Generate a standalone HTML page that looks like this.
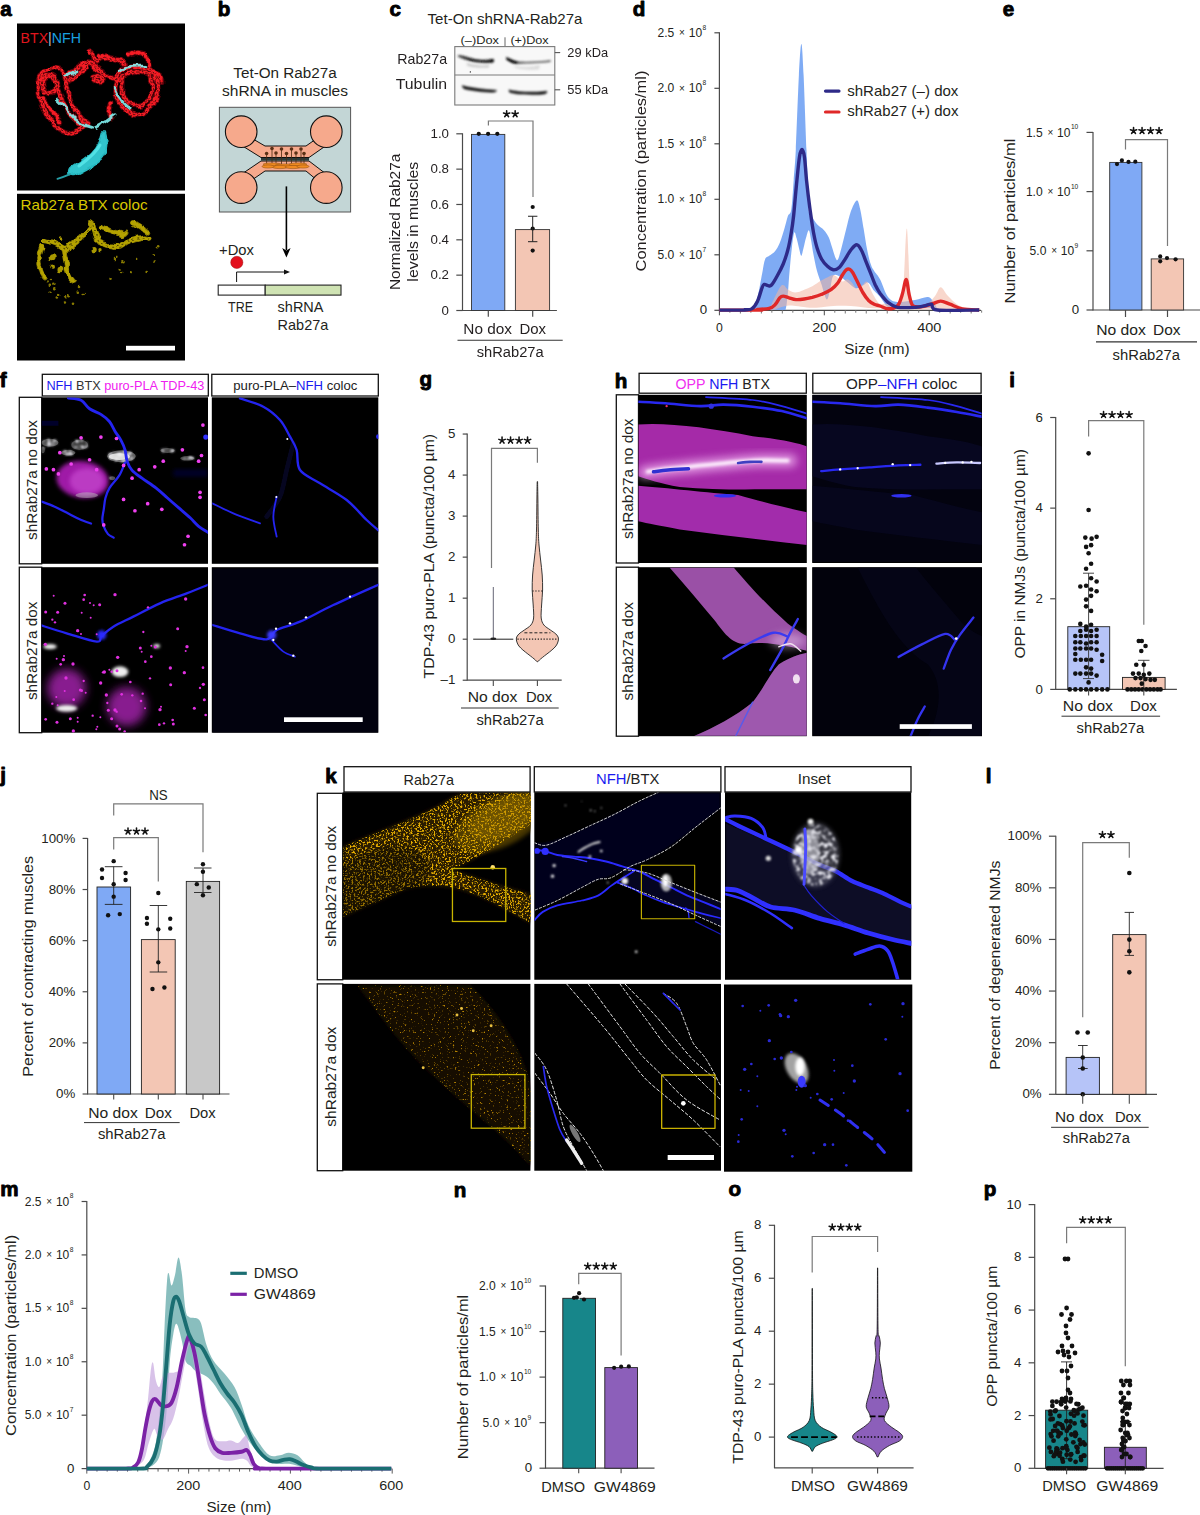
<!DOCTYPE html>
<html><head><meta charset="utf-8"><title>Figure</title>
<style>html,body{margin:0;padding:0;background:#fff;} svg{display:block;} text{font-family:"Liberation Sans", sans-serif;}</style>
</head><body>
<svg width="1200" height="1515" viewBox="0 0 1200 1515" font-family="Liberation Sans, sans-serif">
<defs>
<filter id="blurA" x="-100%" y="-100%" width="300%" height="300%"><feGaussianBlur stdDeviation="14"/></filter>
<filter id="blurB" x="-100%" y="-100%" width="300%" height="300%"><feGaussianBlur stdDeviation="5"/></filter>
<filter id="blurC" x="-20%" y="-20%" width="140%" height="140%"><feGaussianBlur stdDeviation="9"/></filter>
<filter id="blur1" x="-20%" y="-20%" width="140%" height="140%"><feGaussianBlur stdDeviation="3"/></filter>
<filter id="blur2" x="-30%" y="-30%" width="160%" height="160%"><feGaussianBlur stdDeviation="1.2"/></filter>
<filter id="blur3" x="-30%" y="-30%" width="160%" height="160%"><feGaussianBlur stdDeviation="3"/></filter>
<filter id="blur6" x="-30%" y="-30%" width="160%" height="160%"><feGaussianBlur stdDeviation="6"/></filter>
<filter id="speck" x="0" y="0" width="100%" height="100%">
 <feTurbulence type="fractalNoise" baseFrequency="0.9" numOctaves="1" seed="3" result="n"/>
 <feColorMatrix in="n" type="matrix" values="0 0 0 0 1  0 0 0 0 0.75  0 0 0 0 0  0 0 0 -9 5.2" result="s"/>
 <feComposite in="s" in2="SourceGraphic" operator="in"/>
</filter>
<linearGradient id="gMag" x1="0" y1="0" x2="1" y2="0"><stop offset="0" stop-color="#fff"/><stop offset="0.5" stop-color="#c050c0"/><stop offset="1" stop-color="#ff60ff"/></linearGradient>
<filter id="speckY" x="0" y="0" width="100%" height="100%">
 <feTurbulence type="fractalNoise" baseFrequency="0.35" numOctaves="2" seed="4" result="n"/>
 <feColorMatrix in="n" type="matrix" values="0 0 0 0 0.95  0 0 0 0 0.72  0 0 0 0 0.05  0 0 0 5 -2.2" result="s"/>
 <feComposite in="s" in2="SourceGraphic" operator="in"/>
</filter>
<filter id="speckY2" x="0" y="0" width="100%" height="100%">
 <feTurbulence type="fractalNoise" baseFrequency="0.35" numOctaves="2" seed="9" result="n"/>
 <feColorMatrix in="n" type="matrix" values="0 0 0 0 0.85  0 0 0 0 0.62  0 0 0 0 0.02  0 0 0 5 -2.6" result="s"/>
 <feComposite in="s" in2="SourceGraphic" operator="in"/>
</filter>
<filter id="speckK1" x="0" y="0" width="100%" height="100%" color-interpolation-filters="sRGB">
 <feTurbulence type="fractalNoise" baseFrequency="0.085" numOctaves="3" seed="4" result="n"/>
 <feColorMatrix in="n" type="matrix" values="0 0 0 0 0.9  0 0 0 0 0.68  0 0 0 0 0.0  6 0 0 0 -3.05" result="s0"/>
 <feGaussianBlur in="s0" stdDeviation="1.8" result="s"/>
 <feComposite in="s" in2="SourceGraphic" operator="in"/>
</filter>
<filter id="speckK2" x="0" y="0" width="100%" height="100%" color-interpolation-filters="sRGB">
 <feTurbulence type="fractalNoise" baseFrequency="0.085" numOctaves="3" seed="8" result="n"/>
 <feColorMatrix in="n" type="matrix" values="0 0 0 0 0.72  0 0 0 0 0.52  0 0 0 0 0.0  6 0 0 0 -3.85" result="s0"/>
 <feGaussianBlur in="s0" stdDeviation="1.8" result="s"/>
 <feComposite in="s" in2="SourceGraphic" operator="in"/>
</filter>
<filter id="wig" x="-10%" y="-10%" width="120%" height="120%">
 <feTurbulence type="fractalNoise" baseFrequency="0.012" numOctaves="1" seed="2" result="t"/>
 <feDisplacementMap in="SourceGraphic" in2="t" scale="60" xChannelSelector="R" yChannelSelector="G" result="d"/>
 <feGaussianBlur in="d" stdDeviation="4"/>
</filter>
<filter id="speckW" x="-20%" y="-20%" width="140%" height="140%" color-interpolation-filters="sRGB">
 <feTurbulence type="fractalNoise" baseFrequency="0.04" numOctaves="3" seed="12" result="n"/>
 <feColorMatrix in="n" type="matrix" values="0 0 0 0 0.92  0 0 0 0 0.92  0 0 0 0 0.95  6 0 0 0 -2.9" result="s0"/>
 <feGaussianBlur in="s0" stdDeviation="3" result="s"/>
 <feComposite in="s" in2="SourceGraphic" operator="in" result="c"/>
 <feGaussianBlur in="c" stdDeviation="7"/>
</filter>
</defs>
<rect width="1200" height="1515" fill="#fff"/>
<text x="0.3" y="15.8" font-size="20.6" font-weight="bold" fill="#000" stroke="#000" stroke-width="0.9" stroke-linejoin="round">a</text>
<rect x="17.00" y="23.50" width="168.00" height="167.00" fill="#000" stroke="none" stroke-width="1" />
<g transform="translate(30,40) scale(0.116667)" fill="none" stroke-linecap="round" stroke-linejoin="round">
<g filter="url(#wig)">
<g stroke="#a00c14" stroke-width="48" opacity="0.55">
<path d="M130,270 C170,245 230,230 270,245 C300,280 305,340 310,390 C320,460 345,520 375,570 C400,620 430,670 490,715 C470,750 420,765 370,790 C320,805 270,785 220,740 C170,690 130,630 100,560 C75,490 60,420 70,360 C85,310 105,285 130,270"/>
<path d="M110,330 C140,300 190,300 215,330 C235,370 230,420 205,450 C170,470 130,450 115,410 C105,380 105,350 110,330"/>
<path d="M200,330 C235,400 250,480 290,560 C330,630 380,690 460,740"/>
<path d="M315,300 C350,275 400,255 440,215 C465,190 495,180 510,190 C500,230 460,260 420,285 C380,310 350,330 330,345"/>
<path d="M505,100 C540,120 555,160 565,190 C590,160 640,150 690,160 C740,175 790,185 825,205"/>
<path d="M530,205 C560,250 610,285 680,310 C720,325 750,335 770,345"/>
<path d="M540,320 C570,300 620,310 630,340 C610,365 560,360 540,320"/>
<path d="M790,250 C850,225 950,225 1030,260 C1080,300 1110,370 1105,430 C1090,510 1040,580 970,625 C900,650 830,620 790,570 C745,520 720,460 730,400 C740,330 760,285 790,250"/>
<path d="M800,310 C860,265 960,265 1020,300 C1060,350 1065,430 1030,500 C990,555 920,575 860,550 C815,520 790,460 795,400 C795,360 795,335 800,310"/>
<path d="M845,125 C900,100 960,105 995,140 C1015,170 1020,200 1020,235"/>
<path d="M1055,280 C1090,290 1120,310 1128,345"/>
<path d="M690,545 C670,590 665,630 700,665"/>
<path d="M450,190 C470,220 470,250 450,270"/>
<path d="M600,130 C640,140 700,150 760,175"/>
<path d="M120,500 C150,560 200,640 260,700"/>
</g>
<g stroke="#e8141c" stroke-width="22">
<path d="M130,270 C170,245 230,230 270,245 C300,280 305,340 310,390 C320,460 345,520 375,570 C400,620 430,670 490,715 C470,750 420,765 370,790 C320,805 270,785 220,740 C170,690 130,630 100,560 C75,490 60,420 70,360 C85,310 105,285 130,270"/>
<path d="M110,330 C140,300 190,300 215,330 C235,370 230,420 205,450 C170,470 130,450 115,410 C105,380 105,350 110,330"/>
<path d="M200,330 C235,400 250,480 290,560 C330,630 380,690 460,740"/>
<path d="M315,300 C350,275 400,255 440,215 C465,190 495,180 510,190 C500,230 460,260 420,285 C380,310 350,330 330,345"/>
<path d="M505,100 C540,120 555,160 565,190 C590,160 640,150 690,160 C740,175 790,185 825,205"/>
<path d="M530,205 C560,250 610,285 680,310 C720,325 750,335 770,345"/>
<path d="M540,320 C570,300 620,310 630,340 C610,365 560,360 540,320"/>
<path d="M790,250 C850,225 950,225 1030,260 C1080,300 1110,370 1105,430 C1090,510 1040,580 970,625 C900,650 830,620 790,570 C745,520 720,460 730,400 C740,330 760,285 790,250"/>
<path d="M800,310 C860,265 960,265 1020,300 C1060,350 1065,430 1030,500 C990,555 920,575 860,550 C815,520 790,460 795,400 C795,360 795,335 800,310"/>
<path d="M845,125 C900,100 960,105 995,140 C1015,170 1020,200 1020,235"/>
<path d="M1055,280 C1090,290 1120,310 1128,345"/>
<path d="M690,545 C670,590 665,630 700,665"/>
<path d="M450,190 C470,220 470,250 450,270"/>
<path d="M600,130 C640,140 700,150 760,175"/>
<path d="M120,500 C150,560 200,640 260,700"/>
</g>
<g stroke="#f41e26" stroke-width="36" stroke-dasharray="0 40">
<path d="M130,270 C170,245 230,230 270,245 C300,280 305,340 310,390 C320,460 345,520 375,570 C400,620 430,670 490,715 C470,750 420,765 370,790 C320,805 270,785 220,740 C170,690 130,630 100,560 C75,490 60,420 70,360 C85,310 105,285 130,270"/>
<path d="M110,330 C140,300 190,300 215,330 C235,370 230,420 205,450 C170,470 130,450 115,410 C105,380 105,350 110,330"/>
<path d="M200,330 C235,400 250,480 290,560 C330,630 380,690 460,740"/>
<path d="M315,300 C350,275 400,255 440,215 C465,190 495,180 510,190 C500,230 460,260 420,285 C380,310 350,330 330,345"/>
<path d="M505,100 C540,120 555,160 565,190 C590,160 640,150 690,160 C740,175 790,185 825,205"/>
<path d="M530,205 C560,250 610,285 680,310 C720,325 750,335 770,345"/>
<path d="M540,320 C570,300 620,310 630,340 C610,365 560,360 540,320"/>
<path d="M790,250 C850,225 950,225 1030,260 C1080,300 1110,370 1105,430 C1090,510 1040,580 970,625 C900,650 830,620 790,570 C745,520 720,460 730,400 C740,330 760,285 790,250"/>
<path d="M800,310 C860,265 960,265 1020,300 C1060,350 1065,430 1030,500 C990,555 920,575 860,550 C815,520 790,460 795,400 C795,360 795,335 800,310"/>
<path d="M845,125 C900,100 960,105 995,140 C1015,170 1020,200 1020,235"/>
<path d="M1055,280 C1090,290 1120,310 1128,345"/>
<path d="M690,545 C670,590 665,630 700,665"/>
<path d="M450,190 C470,220 470,250 450,270"/>
<path d="M600,130 C640,140 700,150 760,175"/>
<path d="M120,500 C150,560 200,640 260,700"/>
</g>
<g stroke="#1a0000" stroke-width="8" stroke-dasharray="14 26" opacity="0.8">
<path d="M130,270 C170,245 230,230 270,245 C300,280 305,340 310,390 C320,460 345,520 375,570 C400,620 430,670 490,715 C470,750 420,765 370,790 C320,805 270,785 220,740 C170,690 130,630 100,560 C75,490 60,420 70,360 C85,310 105,285 130,270"/>
<path d="M110,330 C140,300 190,300 215,330 C235,370 230,420 205,450 C170,470 130,450 115,410 C105,380 105,350 110,330"/>
<path d="M200,330 C235,400 250,480 290,560 C330,630 380,690 460,740"/>
<path d="M315,300 C350,275 400,255 440,215 C465,190 495,180 510,190 C500,230 460,260 420,285 C380,310 350,330 330,345"/>
<path d="M505,100 C540,120 555,160 565,190 C590,160 640,150 690,160 C740,175 790,185 825,205"/>
<path d="M530,205 C560,250 610,285 680,310 C720,325 750,335 770,345"/>
<path d="M540,320 C570,300 620,310 630,340 C610,365 560,360 540,320"/>
<path d="M790,250 C850,225 950,225 1030,260 C1080,300 1110,370 1105,430 C1090,510 1040,580 970,625 C900,650 830,620 790,570 C745,520 720,460 730,400 C740,330 760,285 790,250"/>
<path d="M800,310 C860,265 960,265 1020,300 C1060,350 1065,430 1030,500 C990,555 920,575 860,550 C815,520 790,460 795,400 C795,360 795,335 800,310"/>
</g>
<g stroke="#80f0f0" stroke-width="22" opacity="0.9">
<path d="M305,310 C330,290 360,275 395,265"/>
<path d="M225,505 C270,545 310,590 350,640 C390,690 440,730 530,750"/>
<path d="M765,265 C800,235 870,220 985,225"/>
<path d="M720,410 C750,480 790,540 860,590"/>
<path d="M560,750 C620,720 680,680 730,640"/>
</g>
</g>
<path d="M645,790 C670,880 660,960 605,1025 C540,1085 450,1125 385,1158 C340,1172 315,1140 345,1100 C410,1055 480,1015 528,965 C575,915 598,860 612,790 Z" fill="#30c4cc" stroke="#28b8c0" stroke-width="14" filter="url(#wig)"/>
<path d="M600,900 C570,960 500,1020 420,1080" stroke="#60f0f0" stroke-width="26" opacity="0.7" filter="url(#blurB)"/>
<path d="M345,1150 C310,1165 270,1180 235,1190" stroke="#28a0a8" stroke-width="16" filter="url(#blurB)"/>
<path d="M640,700 C640,740 640,770 640,800" stroke="#1a6a70" stroke-width="30" opacity="0.6" filter="url(#blurA)"/>
</g>
<text x="20.5" y="43" font-size="14.6" textLength="60.5" lengthAdjust="spacingAndGlyphs"><tspan fill="#e0161e">BTX</tspan><tspan fill="#bbb">|</tspan><tspan fill="#1aa0e0">NFH</tspan></text>
<rect x="17.00" y="193.80" width="168.00" height="166.70" fill="#000" stroke="none" stroke-width="1" />
<g transform="translate(30,210) scale(0.116667)" fill="none" stroke-linecap="round" stroke-linejoin="round">
<g filter="url(#wig)">
<g stroke="#8a7c00" stroke-width="44">
<path d="M120,270 C180,280 230,290 270,320 C290,335 305,350 310,350 C330,300 380,270 430,240 C470,200 510,180 530,130 C525,118 515,110 510,110"/>
<path d="M540,130 C560,200 560,240 600,280 C650,300 720,320 780,310 C830,270 900,250 980,240 C1000,242 1015,248 1020,250"/>
<path d="M620,150 C680,180 740,200 800,210 C815,205 825,198 830,190"/>
<path d="M890,110 C940,140 970,170 1000,190"/>
<path d="M100,320 C70,380 70,450 90,520 C100,550 110,570 120,580"/>
<path d="M280,330 C300,400 320,460 310,520 C320,550 340,575 370,600"/>
</g>
<g stroke="#b8a600" stroke-width="24">
<path d="M120,270 C180,280 230,290 270,320 C290,335 305,350 310,350 C330,300 380,270 430,240 C470,200 510,180 530,130 C525,118 515,110 510,110"/>
<path d="M540,130 C560,200 560,240 600,280 C650,300 720,320 780,310 C830,270 900,250 980,240 C1000,242 1015,248 1020,250"/>
<path d="M620,150 C680,180 740,200 800,210 C815,205 825,198 830,190"/>
<path d="M890,110 C940,140 970,170 1000,190"/>
<path d="M100,320 C70,380 70,450 90,520 C100,550 110,570 120,580"/>
<path d="M280,330 C300,400 320,460 310,520 C320,550 340,575 370,600"/>
</g>
<g stroke="#b4a200" stroke-width="42" stroke-dasharray="0 46">
<path d="M120,270 C180,280 230,290 270,320 C290,335 305,350 310,350 C330,300 380,270 430,240 C470,200 510,180 530,130 C525,118 515,110 510,110"/>
<path d="M540,130 C560,200 560,240 600,280 C650,300 720,320 780,310 C830,270 900,250 980,240 C1000,242 1015,248 1020,250"/>
<path d="M620,150 C680,180 740,200 800,210 C815,205 825,198 830,190"/>
<path d="M890,110 C940,140 970,170 1000,190"/>
<path d="M100,320 C70,380 70,450 90,520 C100,550 110,570 120,580"/>
<path d="M280,330 C300,400 320,460 310,520 C320,550 340,575 370,600"/>
</g>
<g stroke="#2a2400" stroke-width="9" stroke-dasharray="10 36" opacity="0.7">
<path d="M120,270 C180,280 230,290 270,320 C290,335 305,350 310,350 C330,300 380,270 430,240 C470,200 510,180 530,130 C525,118 515,110 510,110"/>
<path d="M540,130 C560,200 560,240 600,280 C650,300 720,320 780,310 C830,270 900,250 980,240 C1000,242 1015,248 1020,250"/>
</g>
<circle cx="190" cy="410" r="30" fill="#a89800"/>
<circle cx="260" cy="510" r="24" fill="#a89800"/>
<circle cx="190" cy="490" r="14" fill="#a89800"/>
<circle cx="550" cy="340" r="22" fill="#a89800"/>
<circle cx="600" cy="340" r="14" fill="#a89800"/>
<circle cx="130" cy="270" r="20" fill="#a89800"/>
<circle cx="270" cy="240" r="16" fill="#a89800"/>
<circle cx="470" cy="200" r="22" fill="#a89800"/>
<circle cx="515" cy="120" r="22" fill="#a89800"/>
<circle cx="150" cy="620" r="11" fill="#8a7c00"/>
<circle cx="170" cy="650" r="11" fill="#8a7c00"/>
<circle cx="200" cy="680" r="11" fill="#8a7c00"/>
<circle cx="160" cy="710" r="11" fill="#8a7c00"/>
<circle cx="230" cy="750" r="11" fill="#8a7c00"/>
<circle cx="290" cy="785" r="11" fill="#8a7c00"/>
<circle cx="360" cy="795" r="11" fill="#8a7c00"/>
<circle cx="300" cy="740" r="11" fill="#8a7c00"/>
<circle cx="420" cy="660" r="11" fill="#8a7c00"/>
<circle cx="460" cy="720" r="11" fill="#8a7c00"/>
<circle cx="330" cy="740" r="11" fill="#8a7c00"/>
<circle cx="200" cy="640" r="11" fill="#8a7c00"/>
<circle cx="720" cy="420" r="11" fill="#8a7c00"/>
<circle cx="800" cy="430" r="11" fill="#8a7c00"/>
<circle cx="770" cy="510" r="11" fill="#8a7c00"/>
<circle cx="690" cy="590" r="11" fill="#8a7c00"/>
<circle cx="1000" cy="540" r="11" fill="#8a7c00"/>
<circle cx="1070" cy="450" r="11" fill="#8a7c00"/>
<circle cx="1090" cy="320" r="11" fill="#8a7c00"/>
<circle cx="1060" cy="380" r="11" fill="#8a7c00"/>
<circle cx="910" cy="420" r="11" fill="#8a7c00"/>
<circle cx="880" cy="550" r="11" fill="#8a7c00"/>
<circle cx="740" cy="400" r="11" fill="#8a7c00"/>
<circle cx="790" cy="540" r="11" fill="#8a7c00"/>
<circle cx="180" cy="600" r="11" fill="#8a7c00"/>
<circle cx="250" cy="720" r="11" fill="#8a7c00"/>
<circle cx="410" cy="700" r="11" fill="#8a7c00"/>
</g></g>
<text x="20.5" y="210.3" font-size="14.6" fill="#d8c800" text-anchor="start" font-weight="normal" textLength="127.0" lengthAdjust="spacingAndGlyphs" >Rab27a BTX coloc</text>
<rect x="126.00" y="345.80" width="49.00" height="4.70" fill="#fff" stroke="none" stroke-width="1" />
<text x="217.8" y="16.1" font-size="20.6" font-weight="bold" fill="#000" stroke="#000" stroke-width="0.9" stroke-linejoin="round">b</text>
<text x="233.3" y="78.2" font-size="14.7" fill="#231f20" text-anchor="start" font-weight="normal" textLength="103.4" lengthAdjust="spacingAndGlyphs" >Tet-On Rab27a</text>
<text x="222.0" y="96.3" font-size="14.7" fill="#231f20" text-anchor="start" font-weight="normal" textLength="126.0" lengthAdjust="spacingAndGlyphs" >shRNA in muscles</text>
<rect x="219.40" y="107.30" width="131.20" height="104.70" fill="#c3d6d6" stroke="#555" stroke-width="1" />
<path d="M241,132 L265,146 L306,146 L326,132 L334,140 L309,157.5 L261,157.5 L233,140 Z" fill="#f6a98c" stroke="#111" stroke-width="1"/>
<path d="M241,187.6 L265,171 L306,171 L326,187.6 L334,180 L309,161 L261,161 L233,180 Z" fill="#f6a98c" stroke="#111" stroke-width="1"/>
<rect x="261.00" y="158.00" width="48.00" height="2.60" fill="#2a3a3a" stroke="none" stroke-width="1" />
<circle cx="241.20" cy="131.70" r="15.8" fill="#f6a98c" stroke="#111" stroke-width="1.1"/>
<circle cx="326.30" cy="131.70" r="15.8" fill="#f6a98c" stroke="#111" stroke-width="1.1"/>
<circle cx="241.20" cy="187.60" r="15.8" fill="#f6a98c" stroke="#111" stroke-width="1.1"/>
<circle cx="326.30" cy="187.60" r="15.8" fill="#f6a98c" stroke="#111" stroke-width="1.1"/>
<line x1="266.60" y1="153.50" x2="266.60" y2="166.00" stroke="#4a2a10" stroke-width="0.8" />
<circle cx="266.60" cy="153.50" r="1.8" fill="#5a3015" />
<line x1="272.00" y1="148.50" x2="272.00" y2="166.00" stroke="#4a2a10" stroke-width="0.8" />
<circle cx="272.00" cy="148.50" r="1.8" fill="#5a3015" />
<line x1="276.00" y1="153.00" x2="276.00" y2="166.00" stroke="#4a2a10" stroke-width="0.8" />
<circle cx="276.00" cy="153.00" r="1.8" fill="#5a3015" />
<line x1="281.50" y1="149.00" x2="281.50" y2="166.00" stroke="#4a2a10" stroke-width="0.8" />
<circle cx="281.50" cy="149.00" r="1.8" fill="#5a3015" />
<line x1="286.50" y1="153.50" x2="286.50" y2="166.00" stroke="#4a2a10" stroke-width="0.8" />
<circle cx="286.50" cy="153.50" r="1.8" fill="#5a3015" />
<line x1="291.50" y1="149.00" x2="291.50" y2="166.00" stroke="#4a2a10" stroke-width="0.8" />
<circle cx="291.50" cy="149.00" r="1.8" fill="#5a3015" />
<line x1="296.00" y1="153.00" x2="296.00" y2="166.00" stroke="#4a2a10" stroke-width="0.8" />
<circle cx="296.00" cy="153.00" r="1.8" fill="#5a3015" />
<line x1="301.00" y1="149.00" x2="301.00" y2="166.00" stroke="#4a2a10" stroke-width="0.8" />
<circle cx="301.00" cy="149.00" r="1.8" fill="#5a3015" />
<line x1="304.00" y1="153.50" x2="304.00" y2="166.00" stroke="#4a2a10" stroke-width="0.8" />
<circle cx="304.00" cy="153.50" r="1.8" fill="#5a3015" />
<ellipse cx="272" cy="164.5" rx="9" ry="1.6" fill="#f08a20" stroke="#8a4a10" stroke-width="0.5"/>
<ellipse cx="285" cy="165.5" rx="10" ry="1.6" fill="#f08a20" stroke="#8a4a10" stroke-width="0.5"/>
<ellipse cx="298" cy="164.5" rx="9" ry="1.6" fill="#f08a20" stroke="#8a4a10" stroke-width="0.5"/>
<ellipse cx="280" cy="167" rx="8" ry="1.6" fill="#f08a20" stroke="#8a4a10" stroke-width="0.5"/>
<ellipse cx="293" cy="167" rx="8" ry="1.6" fill="#f08a20" stroke="#8a4a10" stroke-width="0.5"/>
<ellipse cx="268" cy="166.5" rx="6" ry="1.6" fill="#f08a20" stroke="#8a4a10" stroke-width="0.5"/>
<ellipse cx="303" cy="166.5" rx="6" ry="1.6" fill="#f08a20" stroke="#8a4a10" stroke-width="0.5"/>
<line x1="286.40" y1="186.40" x2="286.40" y2="250.00" stroke="#000" stroke-width="1.6" />
<path d="M282.2,248 L286.4,257.5 L290.6,248 L286.4,250.5 Z" fill="#000"/>
<text x="219.0" y="254.5" font-size="14.2" fill="#231f20" text-anchor="start" font-weight="normal" textLength="34.9" lengthAdjust="spacingAndGlyphs" >+Dox</text>
<circle cx="236.80" cy="262.40" r="6.1" fill="#e3101c" stroke="#9a1010" stroke-width="0.5"/>
<polyline points="236.6,282 236.6,272 285,272" fill="none" stroke="#111" stroke-width="1"/>
<path d="M284,269.6 L290,272 L284,274.4 Z" fill="#111"/>
<rect x="218.20" y="285.10" width="47.00" height="10.00" fill="#fff" stroke="#222" stroke-width="1.1" />
<rect x="265.20" y="285.10" width="75.80" height="10.00" fill="#cfe3b3" stroke="#222" stroke-width="1.1" />
<text x="228.0" y="312.4" font-size="14.5" fill="#231f20" text-anchor="start" font-weight="normal" textLength="25.0" lengthAdjust="spacingAndGlyphs" >TRE</text>
<text x="277.6" y="312.4" font-size="14.5" fill="#231f20" text-anchor="start" font-weight="normal" textLength="45.9" lengthAdjust="spacingAndGlyphs" >shRNA</text>
<text x="277.6" y="329.8" font-size="14.5" fill="#231f20" text-anchor="start" font-weight="normal" textLength="50.7" lengthAdjust="spacingAndGlyphs" >Rab27a</text>
<text x="389.6" y="16.1" font-size="20.6" font-weight="bold" fill="#000" stroke="#000" stroke-width="0.9" stroke-linejoin="round">c</text>
<text x="427.6" y="24.0" font-size="14.5" fill="#231f20" text-anchor="start" font-weight="normal" textLength="154.8" lengthAdjust="spacingAndGlyphs" >Tet-On shRNA-Rab27a</text>
<text x="460.5" y="43.8" font-size="11.8" fill="#231f20" text-anchor="start" font-weight="normal" textLength="38.4" lengthAdjust="spacingAndGlyphs" >(–)Dox</text>
<text x="510.4" y="43.8" font-size="11.8" fill="#231f20" text-anchor="start" font-weight="normal" textLength="38.3" lengthAdjust="spacingAndGlyphs" >(+)Dox</text>
<line x1="505.00" y1="37.30" x2="505.00" y2="46.30" stroke="#555" stroke-width="0.9" />
<rect x="454.80" y="46.60" width="100.00" height="58.40" fill="#f8f8f8" stroke="#7a7a7a" stroke-width="1.1" />
<line x1="454.80" y1="75.00" x2="554.80" y2="75.00" stroke="#7a7a7a" stroke-width="1.1" />
<g transform="translate(450,40) scale(0.091667)">
<g filter="url(#blurC)">
<path d="M90,165 C150,170 200,190 280,212 C350,222 420,212 470,205 C490,215 480,240 460,248 C400,250 330,248 260,238 C190,222 130,200 85,178 Z" fill="#222"/>
<path d="M180,195 C250,215 330,225 420,222 L470,212 L475,240 C400,245 300,240 200,220 Z" fill="#000"/>
<path d="M180,250 C250,270 330,290 430,270 L420,300 C330,305 250,300 190,280 Z" fill="#aaa" opacity="0.6"/>
<path d="M612,185 C650,200 700,225 760,235 C880,240 1000,230 1100,218 L1095,240 C980,255 850,255 760,262 C700,265 650,240 612,210 Z" fill="#666"/>
<path d="M615,185 C650,200 690,225 740,235 L735,262 C690,260 650,240 615,212 Z" fill="#000"/>
<path d="M700,280 C800,300 900,300 980,270 L970,320 C880,330 780,320 710,300 Z" fill="#bbb" opacity="0.5"/>
<path d="M130,495 C200,512 300,528 400,538 C460,542 500,543 510,548 C515,565 490,572 450,570 C350,566 230,552 155,532 C135,522 130,505 130,495 Z" fill="#000"/>
<path d="M640,540 C700,556 800,568 950,566 C1010,563 1055,556 1062,560 C1060,585 1030,595 950,596 C800,592 700,588 650,570 C640,560 640,548 640,540 Z" fill="#000"/>
</g>
<circle cx="222" cy="348" r="7" fill="#111"/>
</g>
<text x="397.3" y="64.1" font-size="14.1" fill="#231f20" text-anchor="start" font-weight="normal" textLength="49.8" lengthAdjust="spacingAndGlyphs" >Rab27a</text>
<text x="395.7" y="89.4" font-size="14.1" fill="#231f20" text-anchor="start" font-weight="normal" textLength="51.4" lengthAdjust="spacingAndGlyphs" >Tubulin</text>
<line x1="554.80" y1="52.60" x2="560.20" y2="52.60" stroke="#555" stroke-width="1.1" />
<line x1="554.80" y1="89.80" x2="560.20" y2="89.80" stroke="#555" stroke-width="1.1" />
<text x="567.3" y="56.5" font-size="12.4" fill="#231f20" text-anchor="start" font-weight="normal" textLength="40.8" lengthAdjust="spacingAndGlyphs" >29 kDa</text>
<text x="567.3" y="93.6" font-size="12.4" fill="#231f20" text-anchor="start" font-weight="normal" textLength="40.8" lengthAdjust="spacingAndGlyphs" >55 kDa</text>
<line x1="462.50" y1="133.30" x2="462.50" y2="311.00" stroke="#4a4a4a" stroke-width="1.2" />
<line x1="462.50" y1="310.50" x2="556.90" y2="310.50" stroke="#4a4a4a" stroke-width="1.2" />
<line x1="456.30" y1="133.80" x2="462.50" y2="133.80" stroke="#4a4a4a" stroke-width="1.2" />
<text x="449.0" y="137.9" font-size="13.3" fill="#231f20" text-anchor="end" font-weight="normal" >1.0</text>
<line x1="456.30" y1="169.14" x2="462.50" y2="169.14" stroke="#4a4a4a" stroke-width="1.2" />
<text x="449.0" y="173.2" font-size="13.3" fill="#231f20" text-anchor="end" font-weight="normal" >0.8</text>
<line x1="456.30" y1="204.48" x2="462.50" y2="204.48" stroke="#4a4a4a" stroke-width="1.2" />
<text x="449.0" y="208.6" font-size="13.3" fill="#231f20" text-anchor="end" font-weight="normal" >0.6</text>
<line x1="456.30" y1="239.82" x2="462.50" y2="239.82" stroke="#4a4a4a" stroke-width="1.2" />
<text x="449.0" y="243.9" font-size="13.3" fill="#231f20" text-anchor="end" font-weight="normal" >0.4</text>
<line x1="456.30" y1="275.16" x2="462.50" y2="275.16" stroke="#4a4a4a" stroke-width="1.2" />
<text x="449.0" y="279.3" font-size="13.3" fill="#231f20" text-anchor="end" font-weight="normal" >0.2</text>
<line x1="456.30" y1="310.50" x2="462.50" y2="310.50" stroke="#4a4a4a" stroke-width="1.2" />
<text x="449.0" y="314.6" font-size="13.3" fill="#231f20" text-anchor="end" font-weight="normal" >0</text>
<rect x="471.50" y="134.40" width="33.30" height="176.10" fill="#7fa9f5" stroke="#333" stroke-width="0.9" />
<rect x="515.40" y="229.60" width="34.20" height="80.90" fill="#f3c6b4" stroke="#333" stroke-width="0.9" />
<circle cx="478.75" cy="133.80" r="2.1" fill="#111" />
<circle cx="488.10" cy="133.80" r="2.1" fill="#111" />
<circle cx="497.30" cy="133.80" r="2.1" fill="#111" />
<circle cx="532.70" cy="207.00" r="2.1" fill="#111" />
<circle cx="532.70" cy="228.50" r="2.1" fill="#111" />
<circle cx="532.70" cy="250.60" r="2.1" fill="#111" />
<line x1="532.70" y1="216.25" x2="532.70" y2="241.70" stroke="#222" stroke-width="1.0" />
<line x1="528.00" y1="216.25" x2="537.40" y2="216.25" stroke="#222" stroke-width="1.0" />
<line x1="528.00" y1="241.70" x2="537.40" y2="241.70" stroke="#222" stroke-width="1.0" />
<polyline points="488.4,125.6 488.4,121.0 533.0,121.0 533.0,196.9" fill="none" stroke="#7a7a7a" stroke-width="1.2"/>
<path d="M506.65,114.00 L506.65,110.70 M506.65,114.00 L509.79,112.98 M506.65,114.00 L508.59,116.67 M506.65,114.00 L504.71,116.67 M506.65,114.00 L503.51,112.98 M515.15,114.00 L515.15,110.70 M515.15,114.00 L518.29,112.98 M515.15,114.00 L517.09,116.67 M515.15,114.00 L513.21,116.67 M515.15,114.00 L512.01,112.98" stroke="#111" stroke-width="1.55" stroke-linecap="round" fill="none"/>
<line x1="488.30" y1="310.50" x2="488.30" y2="316.70" stroke="#4a4a4a" stroke-width="1.2" />
<line x1="532.70" y1="310.50" x2="532.70" y2="316.70" stroke="#4a4a4a" stroke-width="1.2" />
<text x="463.3" y="334.0" font-size="15" fill="#231f20" text-anchor="start" font-weight="normal" textLength="48.7" lengthAdjust="spacingAndGlyphs" >No dox</text>
<text x="519.4" y="334.0" font-size="15" fill="#231f20" text-anchor="start" font-weight="normal" textLength="26.6" lengthAdjust="spacingAndGlyphs" >Dox</text>
<line x1="457.50" y1="340.20" x2="562.70" y2="340.20" stroke="#333" stroke-width="1.1" />
<text x="476.7" y="356.8" font-size="14.7" fill="#231f20" text-anchor="start" font-weight="normal" textLength="67.0" lengthAdjust="spacingAndGlyphs" >shRab27a</text>
<text transform="translate(399.9,221.9) rotate(-90)" x="0" y="0" font-size="15.2" fill="#231f20" text-anchor="middle" textLength="136.4" lengthAdjust="spacingAndGlyphs">Normalized Rab27a</text>
<text transform="translate(417.5,221.7) rotate(-90)" x="0" y="0" font-size="15.2" fill="#231f20" text-anchor="middle" textLength="119.9" lengthAdjust="spacingAndGlyphs">levels in muscles</text>
<text x="632.8" y="16.1" font-size="20.6" font-weight="bold" fill="#000" stroke="#000" stroke-width="0.9" stroke-linejoin="round">d</text>
<line x1="719.40" y1="32.30" x2="719.40" y2="310.80" stroke="#4a4a4a" stroke-width="1.2" />
<line x1="719.40" y1="310.30" x2="981.00" y2="310.30" stroke="#4a4a4a" stroke-width="1.2" />
<line x1="714.40" y1="32.80" x2="719.40" y2="32.80" stroke="#4a4a4a" stroke-width="1.2" />
<text y="36.9" font-size="12.7" fill="#231f20"><tspan x="657.5" textLength="16.8" lengthAdjust="spacingAndGlyphs">2.5</tspan></text>
<text x="682.0" y="36.0" font-size="10" fill="#231f20" text-anchor="middle">×</text>
<text x="688.7" y="36.9" font-size="12.7" fill="#231f20" textLength="13.4" lengthAdjust="spacingAndGlyphs">10</text>
<text x="702.5" y="29.7" font-size="7.4" fill="#231f20" textLength="3.7" lengthAdjust="spacingAndGlyphs">8</text>
<line x1="714.40" y1="88.30" x2="719.40" y2="88.30" stroke="#4a4a4a" stroke-width="1.2" />
<text y="92.4" font-size="12.7" fill="#231f20"><tspan x="657.5" textLength="16.8" lengthAdjust="spacingAndGlyphs">2.0</tspan></text>
<text x="682.0" y="91.5" font-size="10" fill="#231f20" text-anchor="middle">×</text>
<text x="688.7" y="92.4" font-size="12.7" fill="#231f20" textLength="13.4" lengthAdjust="spacingAndGlyphs">10</text>
<text x="702.5" y="85.2" font-size="7.4" fill="#231f20" textLength="3.7" lengthAdjust="spacingAndGlyphs">8</text>
<line x1="714.40" y1="143.80" x2="719.40" y2="143.80" stroke="#4a4a4a" stroke-width="1.2" />
<text y="147.9" font-size="12.7" fill="#231f20"><tspan x="657.5" textLength="16.8" lengthAdjust="spacingAndGlyphs">1.5</tspan></text>
<text x="682.0" y="147.0" font-size="10" fill="#231f20" text-anchor="middle">×</text>
<text x="688.7" y="147.9" font-size="12.7" fill="#231f20" textLength="13.4" lengthAdjust="spacingAndGlyphs">10</text>
<text x="702.5" y="140.7" font-size="7.4" fill="#231f20" textLength="3.7" lengthAdjust="spacingAndGlyphs">8</text>
<line x1="714.40" y1="199.30" x2="719.40" y2="199.30" stroke="#4a4a4a" stroke-width="1.2" />
<text y="203.4" font-size="12.7" fill="#231f20"><tspan x="657.5" textLength="16.8" lengthAdjust="spacingAndGlyphs">1.0</tspan></text>
<text x="682.0" y="202.5" font-size="10" fill="#231f20" text-anchor="middle">×</text>
<text x="688.7" y="203.4" font-size="12.7" fill="#231f20" textLength="13.4" lengthAdjust="spacingAndGlyphs">10</text>
<text x="702.5" y="196.2" font-size="7.4" fill="#231f20" textLength="3.7" lengthAdjust="spacingAndGlyphs">8</text>
<line x1="714.40" y1="254.80" x2="719.40" y2="254.80" stroke="#4a4a4a" stroke-width="1.2" />
<text y="258.9" font-size="12.7" fill="#231f20"><tspan x="657.5" textLength="16.8" lengthAdjust="spacingAndGlyphs">5.0</tspan></text>
<text x="682.0" y="258.0" font-size="10" fill="#231f20" text-anchor="middle">×</text>
<text x="688.7" y="258.9" font-size="12.7" fill="#231f20" textLength="13.4" lengthAdjust="spacingAndGlyphs">10</text>
<text x="702.5" y="251.7" font-size="7.4" fill="#231f20" textLength="3.7" lengthAdjust="spacingAndGlyphs">7</text>
<line x1="714.40" y1="310.30" x2="719.40" y2="310.30" stroke="#4a4a4a" stroke-width="1.2" />
<text x="707.1" y="314.4" font-size="13.3" fill="#231f20" text-anchor="end" font-weight="normal" >0</text>
<line x1="719.40" y1="310.30" x2="719.40" y2="315.30" stroke="#4a4a4a" stroke-width="1.0" />
<line x1="729.89" y1="310.30" x2="729.89" y2="312.70" stroke="#777" stroke-width="1.0" />
<line x1="740.38" y1="310.30" x2="740.38" y2="313.50" stroke="#777" stroke-width="1.0" />
<line x1="750.87" y1="310.30" x2="750.87" y2="312.70" stroke="#777" stroke-width="1.0" />
<line x1="761.36" y1="310.30" x2="761.36" y2="313.50" stroke="#777" stroke-width="1.0" />
<line x1="771.85" y1="310.30" x2="771.85" y2="312.70" stroke="#777" stroke-width="1.0" />
<line x1="782.34" y1="310.30" x2="782.34" y2="313.50" stroke="#777" stroke-width="1.0" />
<line x1="792.83" y1="310.30" x2="792.83" y2="312.70" stroke="#777" stroke-width="1.0" />
<line x1="803.32" y1="310.30" x2="803.32" y2="313.50" stroke="#777" stroke-width="1.0" />
<line x1="813.81" y1="310.30" x2="813.81" y2="312.70" stroke="#777" stroke-width="1.0" />
<line x1="824.30" y1="310.30" x2="824.30" y2="315.30" stroke="#4a4a4a" stroke-width="1.0" />
<line x1="834.79" y1="310.30" x2="834.79" y2="312.70" stroke="#777" stroke-width="1.0" />
<line x1="845.28" y1="310.30" x2="845.28" y2="313.50" stroke="#777" stroke-width="1.0" />
<line x1="855.77" y1="310.30" x2="855.77" y2="312.70" stroke="#777" stroke-width="1.0" />
<line x1="866.26" y1="310.30" x2="866.26" y2="313.50" stroke="#777" stroke-width="1.0" />
<line x1="876.75" y1="310.30" x2="876.75" y2="312.70" stroke="#777" stroke-width="1.0" />
<line x1="887.24" y1="310.30" x2="887.24" y2="313.50" stroke="#777" stroke-width="1.0" />
<line x1="897.73" y1="310.30" x2="897.73" y2="312.70" stroke="#777" stroke-width="1.0" />
<line x1="908.22" y1="310.30" x2="908.22" y2="313.50" stroke="#777" stroke-width="1.0" />
<line x1="918.71" y1="310.30" x2="918.71" y2="312.70" stroke="#777" stroke-width="1.0" />
<line x1="929.20" y1="310.30" x2="929.20" y2="315.30" stroke="#4a4a4a" stroke-width="1.0" />
<line x1="939.69" y1="310.30" x2="939.69" y2="312.70" stroke="#777" stroke-width="1.0" />
<line x1="950.18" y1="310.30" x2="950.18" y2="313.50" stroke="#777" stroke-width="1.0" />
<line x1="960.67" y1="310.30" x2="960.67" y2="312.70" stroke="#777" stroke-width="1.0" />
<line x1="971.16" y1="310.30" x2="971.16" y2="313.50" stroke="#777" stroke-width="1.0" />
<line x1="981.65" y1="310.30" x2="981.65" y2="312.70" stroke="#777" stroke-width="1.0" />
<text x="716.0" y="332.1" font-size="12.3" fill="#231f20" text-anchor="start" font-weight="normal" textLength="6.8" lengthAdjust="spacingAndGlyphs" >0</text>
<text x="812.3" y="332.1" font-size="12.3" fill="#231f20" text-anchor="start" font-weight="normal" textLength="24.1" lengthAdjust="spacingAndGlyphs" >200</text>
<text x="917.2" y="332.1" font-size="12.3" fill="#231f20" text-anchor="start" font-weight="normal" textLength="24.1" lengthAdjust="spacingAndGlyphs" >400</text>
<text x="844.3" y="354.2" font-size="14.3" fill="#231f20" text-anchor="start" font-weight="normal" textLength="65.4" lengthAdjust="spacingAndGlyphs" >Size (nm)</text>
<text transform="translate(646.2,171.0) rotate(-90)" x="0" y="0" font-size="15.2" fill="#231f20" text-anchor="middle" textLength="200.8" lengthAdjust="spacingAndGlyphs">Concentration (particles/ml)</text>
<path d="M719.4,310.1 C724.0,310.1 741.6,310.3 747.0,310.1 C752.4,309.9 749.9,311.2 751.7,308.9 C753.4,306.7 755.8,302.6 757.5,296.7 C759.3,290.7 760.9,279.6 762.2,273.3 C763.4,267.1 763.9,262.3 765.1,259.3 C766.3,256.4 767.5,257.2 769.2,255.8 C770.8,254.5 773.3,253.3 775.0,251.2 C776.8,249.0 778.1,246.7 779.7,243.0 C781.2,239.3 783.0,233.5 784.3,229.0 C785.7,224.5 786.7,219.5 787.8,216.2 C789.0,212.9 790.4,215.2 791.3,209.2 C792.3,203.1 792.9,189.9 793.7,180.0 C794.4,170.1 794.9,167.5 795.8,150.0 C796.6,132.5 798.0,92.7 798.9,75.0 C799.9,57.3 800.6,44.0 801.4,44.0 C802.1,44.0 802.7,57.3 803.6,75.0 C804.4,92.7 805.8,132.5 806.5,150.0 C807.2,167.5 807.3,169.8 807.7,180.0 C808.1,190.2 808.1,205.3 808.8,211.5 C809.6,217.7 811.0,215.2 812.3,217.3 C813.7,219.5 815.1,222.2 817.0,224.3 C818.9,226.5 822.1,228.0 824.0,230.2 C825.9,232.3 827.3,234.3 828.7,237.2 C830.0,240.1 831.0,244.2 832.2,247.7 C833.3,251.2 834.7,256.2 835.7,258.2 C836.6,260.1 837.0,261.1 838.0,259.3 C839.0,257.6 840.1,252.7 841.5,247.7 C842.9,242.6 844.6,235.0 846.2,229.0 C847.7,223.0 849.1,216.3 850.8,211.5 C852.6,206.7 855.1,200.8 856.7,200.4 C858.2,200.0 859.0,204.4 860.2,209.2 C861.3,213.9 862.5,222.2 863.7,229.0 C864.8,235.8 866.0,244.2 867.2,250.0 C868.3,255.8 869.5,260.5 870.7,264.0 C871.8,267.5 872.6,268.5 874.2,271.0 C875.7,273.5 877.7,274.8 880.0,279.2 C882.3,283.5 885.1,293.2 888.0,297.0 C890.9,300.8 893.0,301.5 897.5,302.0 C902.0,302.5 909.9,300.8 915.0,300.0 C920.1,299.2 924.8,296.5 928.0,297.0 C931.2,297.5 932.3,300.8 934.0,303.0 C935.7,305.2 937.3,308.9 938.0,310.1 L938.0,310.1 C936.7,309.8 936.3,308.2 930.0,308.0 C923.7,307.8 907.0,309.2 900.0,309.0 C893.0,308.8 891.3,309.1 888.0,307.0 C884.7,304.9 882.3,299.4 880.0,296.7 C877.7,294.0 876.1,293.2 874.2,290.8 C872.2,288.5 870.1,283.6 868.3,282.7 C866.6,281.7 865.6,284.0 863.7,285.0 C861.7,286.0 858.8,288.5 856.7,288.5 C854.5,288.5 852.8,286.4 850.8,285.0 C848.9,283.6 846.8,281.7 845.0,280.3 C843.3,279.0 842.3,277.6 840.3,276.8 C838.4,276.1 835.1,273.3 833.3,275.7 C831.6,278.0 830.8,286.9 829.8,290.8 C828.9,294.7 828.3,298.0 827.5,299.0 C826.7,300.0 826.1,299.0 825.2,296.7 C824.2,294.3 823.0,289.3 821.7,285.0 C820.3,280.7 818.4,276.1 817.0,271.0 C815.6,265.9 814.5,259.7 813.5,254.7 C812.5,249.6 811.9,244.8 811.2,240.7 C810.4,236.6 809.7,230.6 808.8,230.2 C808.0,229.8 806.8,235.4 805.9,238.3 C805.0,241.3 804.4,244.8 803.6,247.7 C802.8,250.6 802.0,255.8 801.3,255.8 C800.5,255.8 799.7,250.6 798.9,247.7 C798.1,244.8 797.4,240.9 796.6,238.3 C795.8,235.8 795.0,230.9 794.3,232.5 C793.5,234.1 792.7,241.3 791.9,247.7 C791.1,254.1 790.2,263.8 789.6,271.0 C788.9,278.2 788.6,285.4 788.1,290.8 C787.6,296.3 787.1,300.5 786.7,303.7 C786.2,306.9 785.7,309.0 785.5,310.1 Z" fill="#74a4f3" opacity="0.92"/>
<path d="M769.2,309.7 C770.1,307.6 773.1,300.6 775.0,296.7 C776.9,292.7 779.3,288.0 780.8,286.2 C782.4,284.3 783.4,285.2 784.3,285.6 C785.3,286.0 785.3,287.4 786.7,288.5 C788.0,289.6 790.6,291.4 792.5,292.0 C794.4,292.6 796.4,292.4 798.3,292.0 C800.3,291.6 801.8,290.6 804.2,289.7 C806.5,288.7 809.4,287.7 812.3,286.2 C815.3,284.6 818.9,281.9 821.7,280.3 C824.4,278.8 826.7,277.7 828.7,276.8 C830.6,276.0 832.0,275.1 833.3,275.1 C834.7,275.1 835.9,276.2 836.8,276.8 C837.8,277.5 838.2,278.4 839.2,279.2 C840.1,279.9 841.3,281.5 842.7,281.5 C844.0,281.5 845.8,279.0 847.3,279.2 C848.9,279.4 850.4,281.1 852.0,282.7 C853.6,284.2 854.9,288.1 856.7,288.5 C858.4,288.9 861.0,286.2 862.5,285.0 C864.1,283.8 865.0,281.7 866.0,281.5 C867.0,281.3 867.4,282.1 868.3,283.8 C869.3,285.6 870.5,289.3 871.8,292.0 C873.2,294.7 875.1,298.2 876.5,300.2 C877.9,302.1 878.1,303.0 880.0,303.7 C881.9,304.3 885.0,303.6 888.0,304.0 C891.0,304.4 895.5,308.3 898.0,306.0 C900.5,303.7 901.5,302.9 903.0,290.0 C904.5,277.1 905.6,228.6 906.8,228.6 C908.0,228.6 908.8,277.3 910.0,290.0 C911.2,302.7 911.5,302.3 914.0,305.0 C916.5,307.7 921.5,307.5 925.0,306.0 C928.5,304.5 932.4,299.1 935.0,296.0 C937.6,292.9 938.5,287.2 940.7,287.2 C942.9,287.2 945.1,293.0 948.0,296.0 C950.9,299.0 954.3,302.8 958.0,305.0 C961.7,307.2 966.3,308.1 970.0,309.0 C973.7,309.9 978.3,309.9 980.0,310.1 L980.0,310.1 C975.0,309.9 960.0,309.1 950.0,309.0 C940.0,308.9 928.3,309.4 920.0,309.5 C911.7,309.6 906.7,309.7 900.0,309.5 C893.3,309.3 885.3,308.6 880.0,308.3 C874.7,308.1 872.2,308.4 868.3,308.1 C864.5,307.8 860.6,307.0 856.7,306.6 C852.8,306.2 848.9,305.9 845.0,305.8 C841.1,305.7 837.2,305.8 833.3,306.0 C829.4,306.2 825.6,306.9 821.7,307.2 C817.8,307.5 813.9,307.9 810.0,307.8 C806.1,307.6 801.8,306.6 798.3,306.2 C794.8,305.9 791.9,305.3 789.0,305.4 C786.1,305.6 783.2,306.5 780.8,307.2 C778.5,307.9 776.0,309.3 775.0,309.7 Z" fill="#f2b6a2" opacity="0.55"/>
<path d="M719.4,310.1 C726.2,310.1 753.6,310.2 760.0,310.1 C766.4,310.0 756.0,309.8 757.5,309.5 C759.0,309.2 766.3,309.1 769.2,308.3 C772.1,307.6 773.3,306.6 775.0,304.8 C776.8,303.1 778.3,299.3 779.7,297.8 C781.0,296.4 781.6,296.1 783.2,296.1 C784.7,296.1 786.9,297.3 789.0,297.8 C791.1,298.4 793.5,299.4 796.0,299.6 C798.5,299.8 801.4,299.4 804.2,299.0 C806.9,298.6 809.4,298.0 812.3,297.3 C815.3,296.5 818.6,295.6 821.7,294.3 C824.8,293.1 828.3,291.6 831.0,289.7 C833.7,287.7 836.1,285.2 838.0,282.7 C839.9,280.1 841.3,276.6 842.7,274.5 C844.0,272.4 845.0,270.7 846.2,269.8 C847.3,269.0 848.5,268.7 849.7,269.3 C850.8,269.8 852.0,271.5 853.2,273.3 C854.3,275.2 855.1,277.2 856.7,280.3 C858.2,283.4 860.6,288.7 862.5,292.0 C864.5,295.3 866.4,298.1 868.3,300.2 C870.3,302.2 872.2,303.3 874.2,304.3 C876.1,305.2 877.7,305.2 880.0,306.0 C882.4,306.8 885.4,308.9 888.3,308.8 C891.2,308.8 895.2,308.0 897.5,305.7 C899.8,303.4 900.7,299.3 902.1,294.9 C903.6,290.6 905.0,279.5 906.2,279.5 C907.3,279.5 908.1,290.6 909.2,294.9 C910.4,299.3 910.8,303.8 912.9,305.7 C915.1,307.7 919.1,306.9 922.2,306.6 C925.3,306.4 928.4,305.1 931.4,304.2 C934.5,303.3 937.6,301.1 940.7,301.1 C943.8,301.1 946.3,302.9 949.9,304.2 C953.5,305.5 957.4,307.8 962.3,308.8 C967.2,309.8 976.4,309.8 979.2,310.0" fill="none" stroke="#e02828" stroke-width="3.4" stroke-linejoin="round"/>
<path d="M719.4,310.1 C723.7,310.1 740.8,310.2 745.0,310.1 C749.2,310.0 743.6,309.9 744.7,309.7 C745.8,309.5 749.5,310.3 751.7,308.9 C753.8,307.5 755.8,304.9 757.5,301.3 C759.3,297.7 761.0,290.2 762.2,287.3 C763.3,284.5 763.5,284.7 764.5,284.4 C765.5,284.1 766.8,285.5 768.0,285.6 C769.2,285.7 769.9,286.7 771.5,285.0 C773.1,283.4 775.4,279.2 777.3,275.7 C779.3,272.2 781.4,268.3 783.2,264.0 C784.9,259.7 786.5,255.3 787.8,250.0 C789.2,244.8 790.4,238.3 791.3,232.5 C792.3,226.7 792.8,223.2 793.7,215.0 C794.5,206.8 795.6,193.2 796.6,183.5 C797.6,173.8 798.6,162.3 799.5,156.7 C800.4,151.0 801.1,149.5 802.0,149.5 C802.8,149.5 803.6,151.6 804.4,156.7 C805.2,161.7 805.6,171.2 806.5,180.0 C807.4,188.8 808.8,200.4 810.0,209.2 C811.2,217.9 812.3,226.1 813.5,232.5 C814.7,238.9 815.6,243.2 817.0,247.7 C818.4,252.1 819.9,256.2 821.7,259.3 C823.4,262.4 825.6,264.6 827.5,266.3 C829.4,268.1 831.4,269.6 833.3,269.8 C835.3,270.0 837.2,269.3 839.2,267.5 C841.1,265.8 843.1,262.3 845.0,259.3 C846.9,256.4 848.9,252.4 850.8,250.0 C852.8,247.6 854.9,244.8 856.7,244.8 C858.4,244.8 859.8,247.2 861.3,250.0 C862.9,252.8 864.5,257.8 866.0,261.7 C867.6,265.6 869.1,269.4 870.7,273.3 C872.2,277.2 873.8,281.7 875.3,285.0 C876.9,288.3 877.9,290.2 880.0,293.2 C882.2,296.1 885.4,300.3 888.3,302.6 C891.2,305.0 892.9,306.5 897.5,307.3 C902.1,308.0 911.4,307.5 916.0,307.3 C920.6,307.0 922.7,306.2 925.3,305.7 C927.8,305.2 929.4,303.5 931.4,304.2 C933.5,304.9 929.6,309.1 937.6,310.0 C945.6,311.0 972.3,310.0 979.2,310.0" fill="none" stroke="#2e2a88" stroke-width="3.4" stroke-linejoin="round"/>
<line x1="825.5" y1="91.1" x2="839" y2="91.1" stroke="#2e2a88" stroke-width="3.2" stroke-linecap="round"/>
<line x1="825.5" y1="112" x2="839" y2="112" stroke="#e02828" stroke-width="3.2" stroke-linecap="round"/>
<text x="847.2" y="95.7" font-size="14.5" fill="#231f20" text-anchor="start" font-weight="normal" textLength="111.2" lengthAdjust="spacingAndGlyphs" >shRab27 (–) dox</text>
<text x="847.2" y="116.2" font-size="14.5" fill="#231f20" text-anchor="start" font-weight="normal" textLength="111.2" lengthAdjust="spacingAndGlyphs" >shRab27 (+) dox</text>
<text x="1002.8" y="16.1" font-size="20.6" font-weight="bold" fill="#000" stroke="#000" stroke-width="0.9" stroke-linejoin="round">e</text>
<line x1="1093.00" y1="131.90" x2="1093.00" y2="310.50" stroke="#4a4a4a" stroke-width="1.2" />
<line x1="1093.00" y1="310.00" x2="1200.00" y2="310.00" stroke="#4a4a4a" stroke-width="1.2" />
<line x1="1086.50" y1="132.40" x2="1093.00" y2="132.40" stroke="#4a4a4a" stroke-width="1.2" />
<text y="136.5" font-size="12.7" fill="#231f20"><tspan x="1025.9" textLength="16.8" lengthAdjust="spacingAndGlyphs">1.5</tspan></text>
<text x="1050.4" y="135.6" font-size="10" fill="#231f20" text-anchor="middle">×</text>
<text x="1057.1" y="136.5" font-size="12.7" fill="#231f20" textLength="13.4" lengthAdjust="spacingAndGlyphs">10</text>
<text x="1070.9" y="129.3" font-size="7.4" fill="#231f20" textLength="7.4" lengthAdjust="spacingAndGlyphs">10</text>
<line x1="1086.50" y1="191.60" x2="1093.00" y2="191.60" stroke="#4a4a4a" stroke-width="1.2" />
<text y="195.7" font-size="12.7" fill="#231f20"><tspan x="1025.9" textLength="16.8" lengthAdjust="spacingAndGlyphs">1.0</tspan></text>
<text x="1050.4" y="194.8" font-size="10" fill="#231f20" text-anchor="middle">×</text>
<text x="1057.1" y="195.7" font-size="12.7" fill="#231f20" textLength="13.4" lengthAdjust="spacingAndGlyphs">10</text>
<text x="1070.9" y="188.5" font-size="7.4" fill="#231f20" textLength="7.4" lengthAdjust="spacingAndGlyphs">10</text>
<line x1="1086.50" y1="250.80" x2="1093.00" y2="250.80" stroke="#4a4a4a" stroke-width="1.2" />
<text y="254.9" font-size="12.7" fill="#231f20"><tspan x="1029.6" textLength="16.8" lengthAdjust="spacingAndGlyphs">5.0</tspan></text>
<text x="1054.1" y="254.0" font-size="10" fill="#231f20" text-anchor="middle">×</text>
<text x="1060.8" y="254.9" font-size="12.7" fill="#231f20" textLength="13.4" lengthAdjust="spacingAndGlyphs">10</text>
<text x="1074.6" y="247.7" font-size="7.4" fill="#231f20" textLength="3.7" lengthAdjust="spacingAndGlyphs">9</text>
<line x1="1086.50" y1="310.00" x2="1093.00" y2="310.00" stroke="#4a4a4a" stroke-width="1.2" />
<text x="1079.2" y="314.1" font-size="13.3" fill="#231f20" text-anchor="end" font-weight="normal" >0</text>
<rect x="1109.70" y="162.40" width="32.20" height="147.60" fill="#7fa9f5" stroke="#333" stroke-width="0.9" />
<rect x="1151.20" y="258.90" width="32.40" height="51.10" fill="#f3c6b4" stroke="#333" stroke-width="0.9" />
<circle cx="1117.00" cy="164.10" r="2.1" fill="#111" />
<circle cx="1121.90" cy="160.40" r="2.1" fill="#111" />
<circle cx="1128.50" cy="161.90" r="2.1" fill="#111" />
<circle cx="1135.30" cy="161.70" r="2.1" fill="#111" />
<circle cx="1160.20" cy="256.40" r="2.1" fill="#111" />
<circle cx="1160.20" cy="261.30" r="2.1" fill="#111" />
<circle cx="1167.00" cy="258.10" r="2.1" fill="#111" />
<circle cx="1175.60" cy="259.30" r="2.1" fill="#111" />
<polyline points="1125.5,149.5 1125.5,139.7 1167.5,139.7 1167.5,245.9" fill="none" stroke="#7a7a7a" stroke-width="1.2"/>
<path d="M1133.55,130.80 L1133.55,127.50 M1133.55,130.80 L1136.69,129.78 M1133.55,130.80 L1135.49,133.47 M1133.55,130.80 L1131.61,133.47 M1133.55,130.80 L1130.41,129.78 M1142.05,130.80 L1142.05,127.50 M1142.05,130.80 L1145.19,129.78 M1142.05,130.80 L1143.99,133.47 M1142.05,130.80 L1140.11,133.47 M1142.05,130.80 L1138.91,129.78 M1150.55,130.80 L1150.55,127.50 M1150.55,130.80 L1153.69,129.78 M1150.55,130.80 L1152.49,133.47 M1150.55,130.80 L1148.61,133.47 M1150.55,130.80 L1147.41,129.78 M1159.05,130.80 L1159.05,127.50 M1159.05,130.80 L1162.19,129.78 M1159.05,130.80 L1160.99,133.47 M1159.05,130.80 L1157.11,133.47 M1159.05,130.80 L1155.91,129.78" stroke="#111" stroke-width="1.55" stroke-linecap="round" fill="none"/>
<line x1="1125.50" y1="310.00" x2="1125.50" y2="317.00" stroke="#4a4a4a" stroke-width="1.2" />
<line x1="1167.50" y1="310.00" x2="1167.50" y2="317.00" stroke="#4a4a4a" stroke-width="1.2" />
<text x="1096.2" y="334.5" font-size="15" fill="#231f20" text-anchor="start" font-weight="normal" textLength="49.6" lengthAdjust="spacingAndGlyphs" >No dox</text>
<text x="1153.0" y="334.5" font-size="15" fill="#231f20" text-anchor="start" font-weight="normal" textLength="27.5" lengthAdjust="spacingAndGlyphs" >Dox</text>
<line x1="1096.00" y1="341.90" x2="1197.00" y2="341.90" stroke="#333" stroke-width="1.1" />
<text x="1112.6" y="360.2" font-size="14.7" fill="#231f20" text-anchor="start" font-weight="normal" textLength="67.4" lengthAdjust="spacingAndGlyphs" >shRab27a</text>
<text transform="translate(1015.4,221.1) rotate(-90)" x="0" y="0" font-size="15.2" fill="#231f20" text-anchor="middle" textLength="164.8" lengthAdjust="spacingAndGlyphs">Number of particles/ml</text>
<text x="-0.2" y="386.5" font-size="20.6" font-weight="bold" fill="#000" stroke="#000" stroke-width="0.9" stroke-linejoin="round">f</text>
<rect x="42.30" y="374.30" width="166.00" height="21.70" fill="#fff" stroke="#111" stroke-width="1.3" />
<rect x="211.80" y="374.30" width="166.50" height="21.70" fill="#fff" stroke="#111" stroke-width="1.3" />
<rect x="19.30" y="397.30" width="22.40" height="166.50" fill="#fff" stroke="#111" stroke-width="1.3" />
<rect x="19.30" y="567.20" width="22.40" height="165.50" fill="#fff" stroke="#111" stroke-width="1.3" />
<text x="46.4" y="389.5" font-size="12" textLength="157.9" lengthAdjust="spacingAndGlyphs"><tspan fill="#1a1af0">NFH</tspan><tspan fill="#333"> BTX </tspan><tspan fill="#f020f0">puro-PLA TDP-43</tspan></text>
<text x="233.3" y="389.5" font-size="12" textLength="124" lengthAdjust="spacingAndGlyphs"><tspan fill="#222">puro-PLA–</tspan><tspan fill="#1a1af0">NFH</tspan><tspan fill="#222"> coloc</tspan></text>
<text transform="translate(36.6,480.0) rotate(-90)" x="0" y="0" font-size="13.8" fill="#231f20" text-anchor="middle" textLength="120.0" lengthAdjust="spacingAndGlyphs">shRab27a no dox</text>
<text transform="translate(36.6,650.9) rotate(-90)" x="0" y="0" font-size="13.8" fill="#231f20" text-anchor="middle" textLength="98.3" lengthAdjust="spacingAndGlyphs">shRab27a dox</text>
<rect x="41.70" y="397.30" width="166.30" height="166.50" fill="#000" stroke="none" stroke-width="1" />
<rect x="211.80" y="397.30" width="166.50" height="166.50" fill="#000" stroke="none" stroke-width="1" />
<rect x="41.70" y="567.20" width="166.30" height="165.50" fill="#000" stroke="none" stroke-width="1" />
<rect x="211.80" y="567.20" width="166.50" height="165.50" fill="#000" stroke="none" stroke-width="1" />
<g transform="translate(40,396) scale(0.141667)" fill="none" stroke-linecap="round" stroke-linejoin="round">
<clipPath id="cfTL"><rect x="11" y="10" width="1174" height="1174"/></clipPath><g clip-path="url(#cfTL)">
<rect x="10" y="175" width="120" height="35" fill="#06062a" filter="url(#blurB)"/><rect x="940" y="520" width="245" height="50" fill="#06062a" filter="url(#blurA)"/>
<ellipse cx="300" cy="590" rx="185" ry="130" fill="#a81cb0" opacity="0.95" filter="url(#blurA)" transform="rotate(8 300 590)"/>
<ellipse cx="330" cy="600" rx="120" ry="90" fill="#c848d0" opacity="0.7" filter="url(#blurA)"/>
<ellipse cx="330" cy="700" rx="80" ry="20" fill="#bbb" opacity="0.5" filter="url(#blurB)"/>
<ellipse cx="70" cy="330" rx="60" ry="28" fill="#666" opacity="0.7" filter="url(#blurB)"/>
<ellipse cx="70" cy="330" rx="60" ry="28" fill="#000" filter="url(#speckW)"/>
<ellipse cx="200" cy="400" rx="50" ry="20" fill="#777" opacity="0.7" filter="url(#blurB)"/>
<ellipse cx="200" cy="400" rx="50" ry="20" fill="#000" filter="url(#speckW)"/>
<ellipse cx="280" cy="345" rx="60" ry="36" fill="#555" opacity="0.7" filter="url(#blurB)"/>
<ellipse cx="280" cy="345" rx="60" ry="36" fill="#000" filter="url(#speckW)"/>
<ellipse cx="575" cy="425" rx="100" ry="42" fill="#888" opacity="0.7" filter="url(#blurB)"/>
<ellipse cx="575" cy="425" rx="100" ry="42" fill="#000" filter="url(#speckW)"/>
<ellipse cx="900" cy="385" rx="50" ry="18" fill="#666" opacity="0.7" filter="url(#blurB)"/>
<ellipse cx="900" cy="385" rx="50" ry="18" fill="#000" filter="url(#speckW)"/>
<ellipse cx="1040" cy="440" rx="50" ry="16" fill="#666" opacity="0.7" filter="url(#blurB)"/>
<ellipse cx="1040" cy="440" rx="50" ry="16" fill="#000" filter="url(#speckW)"/>
<ellipse cx="510" cy="580" rx="20" ry="14" fill="#777" opacity="0.7" filter="url(#blurB)"/>
<ellipse cx="510" cy="580" rx="20" ry="14" fill="#000" filter="url(#speckW)"/>
<ellipse cx="20" cy="380" rx="14" ry="24" fill="#666" opacity="0.7" filter="url(#blurB)"/>
<ellipse cx="20" cy="380" rx="14" ry="24" fill="#000" filter="url(#speckW)"/>
<ellipse cx="560" cy="428" rx="75" ry="24" fill="#f0f0f0" opacity="0.85" filter="url(#blurB)"/>
<g stroke="#2424f0" stroke-width="20">
<path d="M200.0,15.0 C215.0,17.5 265.0,17.5 290.0,30.0 C315.0,42.5 326.7,73.3 350.0,90.0 C373.3,106.7 406.7,115.0 430.0,130.0 C453.3,145.0 473.3,160.0 490.0,180.0 C506.7,200.0 516.7,228.3 530.0,250.0 C543.3,271.7 558.3,288.3 570.0,310.0 C581.7,331.7 592.5,355.0 600.0,380.0 C607.5,405.0 606.7,435.8 615.0,460.0 C623.3,484.2 632.5,505.0 650.0,525.0 C667.5,545.0 691.7,559.2 720.0,580.0 C748.3,600.8 790.0,626.7 820.0,650.0 C850.0,673.3 873.3,696.7 900.0,720.0 C926.7,743.3 953.3,766.7 980.0,790.0 C1006.7,813.3 1036.7,838.3 1060.0,860.0 C1083.3,881.7 1098.3,902.5 1120.0,920.0 C1141.7,937.5 1178.3,957.5 1190.0,965.0"/>
<path d="M10.0,745.0 C25.0,750.8 68.3,765.8 100.0,780.0 C131.7,794.2 170.0,815.0 200.0,830.0 C230.0,845.0 253.3,858.3 280.0,870.0 C306.7,881.7 346.7,895.0 360.0,900.0" stroke-width="16"/>
<path d="M600.0,470.0 C593.3,485.0 578.3,530.0 560.0,560.0 C541.7,590.0 506.3,623.3 490.0,650.0 C473.7,676.7 468.7,695.0 462.0,720.0 C455.3,745.0 453.7,775.0 450.0,800.0 C446.3,825.0 440.0,850.0 440.0,870.0 C440.0,890.0 443.3,902.5 450.0,920.0 C456.7,937.5 468.3,961.7 480.0,975.0 C491.7,988.3 513.3,995.8 520.0,1000.0" stroke-width="16"/>
</g>
<circle cx="290" cy="295" r="13" fill="#f040f0" filter="url(#blurB)"/>
<circle cx="430" cy="290" r="13" fill="#f040f0" filter="url(#blurB)"/>
<circle cx="140" cy="400" r="13" fill="#f040f0" filter="url(#blurB)"/>
<circle cx="540" cy="300" r="13" fill="#f040f0" filter="url(#blurB)"/>
<circle cx="45" cy="515" r="13" fill="#f040f0" filter="url(#blurB)"/>
<circle cx="95" cy="520" r="13" fill="#f040f0" filter="url(#blurB)"/>
<circle cx="130" cy="550" r="13" fill="#f040f0" filter="url(#blurB)"/>
<circle cx="590" cy="490" r="13" fill="#f040f0" filter="url(#blurB)"/>
<circle cx="700" cy="520" r="13" fill="#f040f0" filter="url(#blurB)"/>
<circle cx="810" cy="500" r="13" fill="#f040f0" filter="url(#blurB)"/>
<circle cx="650" cy="580" r="13" fill="#f040f0" filter="url(#blurB)"/>
<circle cx="590" cy="730" r="13" fill="#f040f0" filter="url(#blurB)"/>
<circle cx="760" cy="760" r="13" fill="#f040f0" filter="url(#blurB)"/>
<circle cx="670" cy="810" r="13" fill="#f040f0" filter="url(#blurB)"/>
<circle cx="860" cy="800" r="13" fill="#f040f0" filter="url(#blurB)"/>
<circle cx="450" cy="910" r="13" fill="#f040f0" filter="url(#blurB)"/>
<circle cx="1005" cy="380" r="13" fill="#f040f0" filter="url(#blurB)"/>
<circle cx="1140" cy="420" r="13" fill="#f040f0" filter="url(#blurB)"/>
<circle cx="1120" cy="460" r="13" fill="#f040f0" filter="url(#blurB)"/>
<circle cx="870" cy="460" r="13" fill="#f040f0" filter="url(#blurB)"/>
<circle cx="1150" cy="205" r="13" fill="#f040f0" filter="url(#blurB)"/>
<circle cx="1130" cy="680" r="13" fill="#f040f0" filter="url(#blurB)"/>
<circle cx="1130" cy="715" r="13" fill="#f040f0" filter="url(#blurB)"/>
<circle cx="1045" cy="990" r="13" fill="#f040f0" filter="url(#blurB)"/>
<circle cx="1020" cy="1050" r="13" fill="#f040f0" filter="url(#blurB)"/>
<circle cx="350" cy="450" r="13" fill="#f040f0" filter="url(#blurB)"/>
<circle cx="220" cy="480" r="13" fill="#f040f0" filter="url(#blurB)"/>
<circle cx="400" cy="520" r="13" fill="#f040f0" filter="url(#blurB)"/>
<circle cx="1170" cy="290" r="18" fill="#3030ff" filter="url(#blurB)"/>
</g></g>
<g transform="translate(0,360) scale(0.33333)" fill="none" stroke-linecap="round" stroke-linejoin="round">
<clipPath id="cfTR"><rect x="637" y="112" width="498" height="498"/></clipPath><g clip-path="url(#cfTR)">
<path d="M880.0,250.0 C876.7,263.3 866.7,303.3 860.0,330.0 C853.3,356.7 850.0,386.7 840.0,410.0 C830.0,433.3 806.7,460.0 800.0,470.0" stroke="#0c0c40" stroke-width="14" opacity="0.5" filter="url(#blur2)"/>
<g stroke="#2424f0" stroke-width="7">
<path d="M720.0,115.0 C731.7,119.2 770.0,129.2 790.0,140.0 C810.0,150.8 826.7,165.0 840.0,180.0 C853.3,195.0 861.7,215.0 870.0,230.0 C878.3,245.0 885.0,253.3 890.0,270.0 C895.0,286.7 888.3,313.3 900.0,330.0 C911.7,346.7 936.7,355.0 960.0,370.0 C983.3,385.0 1016.7,401.7 1040.0,420.0 C1063.3,438.3 1083.3,464.2 1100.0,480.0 C1116.7,495.8 1133.3,509.2 1140.0,515.0"/>
<path d="M637.0,430.0 C647.5,435.0 676.2,450.0 700.0,460.0 C723.8,470.0 766.7,485.0 780.0,490.0" stroke-width="5.5"/>
<path d="M830.0,410.0 C828.3,420.0 820.0,450.0 820.0,470.0 C820.0,490.0 828.3,520.0 830.0,530.0" stroke-width="5.5"/>
</g>
<circle cx="1135" cy="230" r="7" fill="#2424f0"/>
<circle cx="862" cy="237" r="3" fill="#fff"/><circle cx="829" cy="411" r="3" fill="#fff"/>
</g>
<clipPath id="cfBL"><rect x="125" y="625" width="498" height="493"/></clipPath><g clip-path="url(#cfBL)">
<circle cx="200" cy="985" r="58" fill="#a020a8" opacity="0.85" filter="url(#blurA)"/>
<circle cx="380" cy="1040" r="58" fill="#a020a8" opacity="0.85" filter="url(#blurA)"/>
<ellipse cx="360" cy="935" rx="25" ry="16" fill="#eee" filter="url(#blurB)"/>
<ellipse cx="200" cy="1045" rx="32" ry="10" fill="#eee" filter="url(#blurB)"/>
<ellipse cx="470" cy="858" rx="10" ry="6" fill="#eee" filter="url(#blurB)"/>
<ellipse cx="150" cy="860" rx="20" ry="8" fill="#eee" filter="url(#blurB)"/>
<g stroke="#2424f0" stroke-width="7">
<path d="M120.0,795.0 C133.3,799.2 171.7,811.7 200.0,820.0 C228.3,828.3 272.5,843.7 290.0,845.0 C307.5,846.3 296.7,835.5 305.0,828.0 C313.3,820.5 324.2,809.7 340.0,800.0 C355.8,790.3 376.7,781.7 400.0,770.0 C423.3,758.3 453.3,741.7 480.0,730.0 C506.7,718.3 535.0,709.7 560.0,700.0 C585.0,690.3 618.3,676.7 630.0,672.0"/>
</g>
<circle cx="305" cy="825" r="14" fill="#2a2aff" filter="url(#blurB)"/>
<circle cx="351" cy="932" r="4.5" fill="#e030e0"/>
<circle cx="350" cy="1055" r="3.5" fill="#e030e0"/>
<circle cx="219" cy="912" r="5" fill="#e030e0"/>
<circle cx="173" cy="1036" r="3" fill="#e030e0"/>
<circle cx="421" cy="864" r="4.5" fill="#e030e0"/>
<circle cx="450" cy="955" r="3.5" fill="#e030e0"/>
<circle cx="435" cy="1045" r="3" fill="#e030e0"/>
<circle cx="157" cy="779" r="3.5" fill="#e030e0"/>
<circle cx="423" cy="1023" r="4" fill="#e030e0"/>
<circle cx="345" cy="1050" r="5" fill="#e030e0"/>
<circle cx="243" cy="822" r="3" fill="#e030e0"/>
<circle cx="454" cy="890" r="4" fill="#e030e0"/>
<circle cx="328" cy="929" r="3" fill="#e030e0"/>
<circle cx="270" cy="729" r="3" fill="#e030e0"/>
<circle cx="325" cy="1051" r="4.5" fill="#e030e0"/>
<circle cx="161" cy="707" r="3" fill="#e030e0"/>
<circle cx="233" cy="1085" r="3" fill="#e030e0"/>
<circle cx="359" cy="1107" r="4.5" fill="#e030e0"/>
<circle cx="335" cy="935" r="3.5" fill="#e030e0"/>
<circle cx="292" cy="1100" r="3" fill="#e030e0"/>
<circle cx="194" cy="993" r="3" fill="#e030e0"/>
<circle cx="157" cy="1031" r="3.5" fill="#e030e0"/>
<circle cx="613" cy="1019" r="4.5" fill="#e030e0"/>
<circle cx="233" cy="812" r="5" fill="#e030e0"/>
<circle cx="278" cy="1067" r="3.5" fill="#e030e0"/>
<circle cx="220" cy="1113" r="5" fill="#e030e0"/>
<circle cx="444" cy="742" r="3.5" fill="#e030e0"/>
<circle cx="345" cy="704" r="5" fill="#e030e0"/>
<circle cx="290" cy="823" r="3" fill="#e030e0"/>
<circle cx="165" cy="787" r="3.5" fill="#e030e0"/>
<circle cx="136" cy="853" r="5" fill="#e030e0"/>
<circle cx="351" cy="1098" r="4.5" fill="#e030e0"/>
<circle cx="428" cy="1001" r="3.5" fill="#e030e0"/>
<circle cx="492" cy="1090" r="3.5" fill="#e030e0"/>
<circle cx="466" cy="861" r="4.5" fill="#e030e0"/>
<circle cx="425" cy="875" r="3" fill="#e030e0"/>
<circle cx="182" cy="913" r="4" fill="#e030e0"/>
<circle cx="245" cy="992" r="4" fill="#e030e0"/>
<circle cx="335" cy="1076" r="4.5" fill="#e030e0"/>
<circle cx="272" cy="773" r="3" fill="#e030e0"/>
<circle cx="190" cy="899" r="5" fill="#e030e0"/>
<circle cx="430" cy="816" r="3.5" fill="#e030e0"/>
<circle cx="251" cy="719" r="4" fill="#e030e0"/>
<circle cx="309" cy="937" r="3.5" fill="#e030e0"/>
<circle cx="173" cy="757" r="4.5" fill="#e030e0"/>
<circle cx="610" cy="973" r="5" fill="#e030e0"/>
<circle cx="137" cy="1078" r="4" fill="#e030e0"/>
<circle cx="365" cy="1003" r="4" fill="#e030e0"/>
<circle cx="195" cy="730" r="4.5" fill="#e030e0"/>
<circle cx="397" cy="1006" r="3.5" fill="#e030e0"/>
<circle cx="518" cy="1080" r="4" fill="#e030e0"/>
<circle cx="170" cy="896" r="3" fill="#e030e0"/>
<circle cx="557" cy="873" r="3" fill="#e030e0"/>
<circle cx="553" cy="938" r="5" fill="#e030e0"/>
<circle cx="454" cy="857" r="3" fill="#e030e0"/>
<circle cx="617" cy="1065" r="4" fill="#e030e0"/>
<circle cx="319" cy="1005" r="5" fill="#e030e0"/>
<circle cx="353" cy="892" r="5" fill="#e030e0"/>
<circle cx="169" cy="1011" r="3" fill="#e030e0"/>
<circle cx="281" cy="736" r="3" fill="#e030e0"/>
<circle cx="241" cy="990" r="4.5" fill="#e030e0"/>
<circle cx="512" cy="974" r="4.5" fill="#e030e0"/>
<circle cx="254" cy="705" r="4" fill="#e030e0"/>
<circle cx="198" cy="954" r="5" fill="#e030e0"/>
<circle cx="211" cy="1076" r="4.5" fill="#e030e0"/>
<circle cx="251" cy="963" r="3.5" fill="#e030e0"/>
<circle cx="561" cy="860" r="5" fill="#e030e0"/>
<circle cx="301" cy="1072" r="3" fill="#e030e0"/>
<circle cx="478" cy="1094" r="4" fill="#e030e0"/>
<circle cx="583" cy="1045" r="4.5" fill="#e030e0"/>
<circle cx="436" cy="905" r="4" fill="#e030e0"/>
<circle cx="480" cy="1049" r="5" fill="#e030e0"/>
<circle cx="557" cy="717" r="5" fill="#e030e0"/>
<circle cx="302" cy="969" r="5" fill="#e030e0"/>
<circle cx="137" cy="756" r="4.5" fill="#e030e0"/>
<circle cx="221" cy="1019" r="4" fill="#e030e0"/>
<circle cx="245" cy="758" r="3" fill="#e030e0"/>
<circle cx="391" cy="966" r="4" fill="#e030e0"/>
<circle cx="600" cy="984" r="3.5" fill="#e030e0"/>
<circle cx="533" cy="806" r="4.5" fill="#e030e0"/>
<circle cx="511" cy="924" r="5" fill="#e030e0"/>
<circle cx="374" cy="1114" r="3.5" fill="#e030e0"/>
<circle cx="322" cy="1029" r="3.5" fill="#e030e0"/>
<circle cx="171" cy="1087" r="4.5" fill="#e030e0"/>
<circle cx="192" cy="888" r="3" fill="#e030e0"/>
<circle cx="313" cy="936" r="5" fill="#e030e0"/>
<circle cx="520" cy="1092" r="4.5" fill="#e030e0"/>
<circle cx="289" cy="1108" r="3" fill="#e030e0"/>
<circle cx="483" cy="1040" r="3" fill="#e030e0"/>
<circle cx="233" cy="1073" r="3" fill="#e030e0"/>
<circle cx="609" cy="923" r="4" fill="#e030e0"/>
<circle cx="257" cy="998" r="3" fill="#e030e0"/>
<circle cx="299" cy="734" r="4.5" fill="#e030e0"/>
</g>
<clipPath id="cfBR"><rect x="637" y="625" width="498" height="493"/></clipPath><g clip-path="url(#cfBR)">
<rect x="637" y="625" width="498" height="493" fill="#02020e"/>
<g stroke="#2424f0" stroke-width="7">
<path d="M637.0,795.0 C650.8,799.2 692.8,812.8 720.0,820.0 C747.2,827.2 781.7,839.7 800.0,838.0 C818.3,836.3 813.3,818.8 830.0,810.0 C846.7,801.2 871.7,797.5 900.0,785.0 C928.3,772.5 960.0,753.8 1000.0,735.0 C1040.0,716.2 1116.7,682.5 1140.0,672.0"/>
<path d="M815.0,840.0 C820.8,845.8 838.3,866.7 850.0,875.0 C861.7,883.3 879.2,887.5 885.0,890.0" stroke-width="5"/>
</g>
<circle cx="815" cy="825" r="14" fill="#3a3aff" filter="url(#blurB)"/>
<circle cx="828" cy="806" r="3.5" fill="#fff"/>
<circle cx="820" cy="840" r="3.5" fill="#fff"/>
<circle cx="880" cy="887" r="3.5" fill="#fff"/>
<circle cx="918" cy="772" r="3.5" fill="#fff"/>
<circle cx="1050" cy="710" r="3.5" fill="#fff"/>
<circle cx="870" cy="790" r="3.5" fill="#fff"/>
</g>
</g>
<rect x="284.00" y="717.30" width="78.70" height="4.70" fill="#fff" stroke="none" stroke-width="1" />
<text x="419.6" y="386.4" font-size="20.6" font-weight="bold" fill="#000" stroke="#000" stroke-width="0.9" stroke-linejoin="round">g</text>
<line x1="467.20" y1="433.50" x2="467.20" y2="680.70" stroke="#4a4a4a" stroke-width="1.2" />
<line x1="467.20" y1="680.20" x2="561.70" y2="680.20" stroke="#4a4a4a" stroke-width="1.2" />
<line x1="462.70" y1="434.05" x2="467.20" y2="434.05" stroke="#4a4a4a" stroke-width="1.2" />
<text x="455.4" y="438.2" font-size="13.3" fill="#231f20" text-anchor="end" font-weight="normal" >5</text>
<line x1="462.70" y1="475.08" x2="467.20" y2="475.08" stroke="#4a4a4a" stroke-width="1.2" />
<text x="455.4" y="479.2" font-size="13.3" fill="#231f20" text-anchor="end" font-weight="normal" >4</text>
<line x1="462.70" y1="516.11" x2="467.20" y2="516.11" stroke="#4a4a4a" stroke-width="1.2" />
<text x="455.4" y="520.2" font-size="13.3" fill="#231f20" text-anchor="end" font-weight="normal" >3</text>
<line x1="462.70" y1="557.14" x2="467.20" y2="557.14" stroke="#4a4a4a" stroke-width="1.2" />
<text x="455.4" y="561.2" font-size="13.3" fill="#231f20" text-anchor="end" font-weight="normal" >2</text>
<line x1="462.70" y1="598.17" x2="467.20" y2="598.17" stroke="#4a4a4a" stroke-width="1.2" />
<text x="455.4" y="602.3" font-size="13.3" fill="#231f20" text-anchor="end" font-weight="normal" >1</text>
<line x1="462.70" y1="639.20" x2="467.20" y2="639.20" stroke="#4a4a4a" stroke-width="1.2" />
<text x="455.4" y="643.3" font-size="13.3" fill="#231f20" text-anchor="end" font-weight="normal" >0</text>
<line x1="462.70" y1="680.23" x2="467.20" y2="680.23" stroke="#4a4a4a" stroke-width="1.2" />
<text x="455.4" y="684.3" font-size="13.3" fill="#231f20" text-anchor="end" font-weight="normal" >–1</text>
<line x1="473.20" y1="639.20" x2="513.30" y2="639.20" stroke="#222" stroke-width="1" />
<line x1="493.30" y1="639.20" x2="493.30" y2="587.00" stroke="#556" stroke-width="0.9" />
<ellipse cx="493.3" cy="638.8" rx="3" ry="1.2" fill="#222"/>
<path d="M537.6,481.6 C537.6,484.7 537.8,491.9 537.9,500.0 C538.0,508.1 538.1,522.5 538.3,530.0 C538.5,537.5 538.6,540.0 539.0,545.0 C539.4,550.0 540.1,555.0 540.6,560.0 C541.1,565.0 541.9,570.0 542.2,575.0 C542.5,580.0 542.7,585.0 542.6,590.0 C542.5,595.0 541.8,600.3 541.6,605.0 C541.4,609.7 540.8,614.7 541.2,618.0 C541.6,621.3 542.4,623.0 543.9,625.0 C545.4,627.0 548.4,628.5 550.4,630.0 C552.4,631.5 554.6,632.7 555.9,634.0 C557.2,635.3 558.1,636.7 558.4,638.0 C558.7,639.3 558.3,640.7 557.9,642.0 C557.5,643.3 556.9,644.7 555.9,646.0 C554.9,647.3 553.4,648.7 551.9,650.0 C550.4,651.3 548.5,652.8 546.9,654.0 C545.3,655.2 543.6,656.5 542.4,657.5 C541.1,658.5 540.2,659.3 539.4,660.0 C538.6,660.7 538.0,661.5 537.7,661.8 L537.1,661.8 C536.8,661.5 536.2,660.7 535.4,660.0 C534.6,659.3 533.6,658.5 532.4,657.5 C531.1,656.5 529.5,655.2 527.9,654.0 C526.3,652.8 524.4,651.3 522.9,650.0 C521.4,648.7 519.9,647.3 518.9,646.0 C517.9,644.7 517.3,643.3 516.9,642.0 C516.5,640.7 516.1,639.3 516.4,638.0 C516.7,636.7 517.6,635.3 518.9,634.0 C520.2,632.7 522.4,631.5 524.4,630.0 C526.4,628.5 529.4,627.0 530.9,625.0 C532.4,623.0 533.2,621.3 533.6,618.0 C534.0,614.7 533.4,609.7 533.2,605.0 C533.0,600.3 532.3,595.0 532.2,590.0 C532.1,585.0 532.3,580.0 532.6,575.0 C532.9,570.0 533.7,565.0 534.2,560.0 C534.7,555.0 535.4,550.0 535.8,545.0 C536.2,540.0 536.3,537.5 536.5,530.0 C536.7,522.5 536.8,508.1 536.9,500.0 C537.0,491.9 537.1,484.7 537.2,481.6 Z" fill="#f3c6b4" stroke="#222" stroke-width="0.9"/>
<line x1="517.40" y1="639.20" x2="557.40" y2="639.20" stroke="#222" stroke-width="1.2" stroke-dasharray="1.3 1.6"/>
<line x1="524.40" y1="632.80" x2="550.40" y2="632.80" stroke="#222" stroke-width="1" stroke-dasharray="3 2"/>
<line x1="532.40" y1="591.00" x2="542.40" y2="591.00" stroke="#222" stroke-width="1.1" stroke-dasharray="1.3 1.6"/>
<polyline points="491.5,568.0 491.5,448.3 537.4,448.3 537.4,462.8" fill="none" stroke="#7a7a7a" stroke-width="1.2"/>
<path d="M502.05,440.40 L502.05,437.10 M502.05,440.40 L505.19,439.38 M502.05,440.40 L503.99,443.07 M502.05,440.40 L500.11,443.07 M502.05,440.40 L498.91,439.38 M510.55,440.40 L510.55,437.10 M510.55,440.40 L513.69,439.38 M510.55,440.40 L512.49,443.07 M510.55,440.40 L508.61,443.07 M510.55,440.40 L507.41,439.38 M519.05,440.40 L519.05,437.10 M519.05,440.40 L522.19,439.38 M519.05,440.40 L520.99,443.07 M519.05,440.40 L517.11,443.07 M519.05,440.40 L515.91,439.38 M527.55,440.40 L527.55,437.10 M527.55,440.40 L530.69,439.38 M527.55,440.40 L529.49,443.07 M527.55,440.40 L525.61,443.07 M527.55,440.40 L524.41,439.38" stroke="#111" stroke-width="1.55" stroke-linecap="round" fill="none"/>
<line x1="493.30" y1="680.20" x2="493.30" y2="686.00" stroke="#4a4a4a" stroke-width="1.1" />
<line x1="537.40" y1="680.20" x2="537.40" y2="686.00" stroke="#4a4a4a" stroke-width="1.1" />
<text x="467.7" y="702.3" font-size="15" fill="#231f20" text-anchor="start" font-weight="normal" textLength="49.7" lengthAdjust="spacingAndGlyphs" >No dox</text>
<text x="525.9" y="702.3" font-size="15" fill="#231f20" text-anchor="start" font-weight="normal" textLength="26.3" lengthAdjust="spacingAndGlyphs" >Dox</text>
<line x1="461.00" y1="708.00" x2="558.70" y2="708.00" stroke="#333" stroke-width="1" />
<text x="476.5" y="724.9" font-size="14.7" fill="#231f20" text-anchor="start" font-weight="normal" textLength="67.2" lengthAdjust="spacingAndGlyphs" >shRab27a</text>
<text transform="translate(433.8,556.2) rotate(-90)" x="0" y="0" font-size="15.2" fill="#231f20" text-anchor="middle" textLength="244.5" lengthAdjust="spacingAndGlyphs">TDP-43 puro-PLA (puncta/100 µm)</text>
<text x="614.8" y="387.7" font-size="20.6" font-weight="bold" fill="#000" stroke="#000" stroke-width="0.9" stroke-linejoin="round">h</text>
<rect x="639.10" y="373.30" width="167.20" height="19.90" fill="#fff" stroke="#111" stroke-width="1.3" />
<rect x="812.80" y="373.30" width="168.30" height="19.90" fill="#fff" stroke="#111" stroke-width="1.3" />
<rect x="616.30" y="394.80" width="22.20" height="168.20" fill="#fff" stroke="#111" stroke-width="1.3" />
<rect x="616.30" y="567.20" width="22.20" height="169.00" fill="#fff" stroke="#111" stroke-width="1.3" />
<text x="675.4" y="388.7" font-size="14.7" textLength="94.6" lengthAdjust="spacingAndGlyphs"><tspan fill="#f030f0">OPP</tspan><tspan fill="#1a1af0"> NFH</tspan><tspan fill="#222"> BTX</tspan></text>
<text x="845.9" y="388.7" font-size="14.7" textLength="111.5" lengthAdjust="spacingAndGlyphs"><tspan fill="#222">OPP</tspan><tspan fill="#1a1af0">–NFH</tspan><tspan fill="#222"> coloc</tspan></text>
<text transform="translate(632.8,478.8) rotate(-90)" x="0" y="0" font-size="13.8" fill="#231f20" text-anchor="middle" textLength="120.4" lengthAdjust="spacingAndGlyphs">shRab27a no dox</text>
<text transform="translate(632.8,651.3) rotate(-90)" x="0" y="0" font-size="13.8" fill="#231f20" text-anchor="middle" textLength="98.2" lengthAdjust="spacingAndGlyphs">shRab27a dox</text>
<rect x="638.50" y="394.80" width="168.30" height="168.20" fill="#000" stroke="none" stroke-width="1" />
<rect x="812.20" y="394.80" width="169.80" height="168.20" fill="#000" stroke="none" stroke-width="1" />
<rect x="638.50" y="567.20" width="168.30" height="169.00" fill="#000" stroke="none" stroke-width="1" />
<rect x="812.20" y="567.20" width="169.80" height="169.00" fill="#000" stroke="none" stroke-width="1" />
<g transform="translate(636,393) scale(0.291667)" stroke-linecap="round" stroke-linejoin="round">
<clipPath id="chTL"><rect x="8" y="6" width="577" height="574"/></clipPath><g clip-path="url(#chTL)">
<path d="M8,108 C100,100 250,118 400,148 C500,160 560,172 590,185 L590,330 C450,328 300,336 150,322 C80,310 40,295 8,285 Z" fill="#a52aa8"/>
<path d="M8,318 C100,325 250,342 350,350 C450,378 520,395 590,410 L590,522 C450,505 300,488 150,468 C80,455 40,448 8,440 Z" fill="#a22cab"/>
<path d="M30.0,272.0 C41.7,270.3 71.7,265.3 100.0,262.0 C128.3,258.7 166.7,255.3 200.0,252.0 C233.3,248.7 263.3,245.3 300.0,242.0 C336.7,238.7 381.7,233.7 420.0,232.0 C458.3,230.3 511.7,232.0 530.0,232.0" fill="none" stroke="#f8c0f8" stroke-width="44" opacity="0.7" filter="url(#blurA)"/>
<path d="M40.0,270.0 C50.0,268.5 73.3,264.2 100.0,261.0 C126.7,257.8 166.7,254.3 200.0,251.0 C233.3,247.7 263.3,244.3 300.0,241.0 C336.7,237.7 383.3,232.5 420.0,231.0 C456.7,229.5 503.3,231.8 520.0,232.0" fill="none" stroke="#fff4ff" stroke-width="13" filter="url(#blurB)"/>
<path d="M60.0,270.0 C68.3,269.0 90.0,265.7 110.0,264.0 C130.0,262.3 168.3,260.7 180.0,260.0" fill="none" stroke="#3030d0" stroke-width="12"/>
<path d="M350.0,240.0 C356.7,239.3 376.7,236.7 390.0,236.0 C403.3,235.3 423.3,236.0 430.0,236.0" fill="none" stroke="#4040c0" stroke-width="9"/>
<ellipse cx="305" cy="352" rx="38" ry="6" fill="#3030f0"/>
<g fill="none" stroke="#2828f0" stroke-width="9">
<path d="M8.0,30.0 C23.3,30.8 64.7,32.5 100.0,35.0 C135.3,37.5 186.7,44.2 220.0,45.0 C253.3,45.8 270.0,39.7 300.0,40.0 C330.0,40.3 366.7,43.3 400.0,47.0 C433.3,50.7 468.3,55.2 500.0,62.0 C531.7,68.8 575.0,83.7 590.0,88.0"/>
<path d="M240.0,14.0 C266.7,15.7 356.7,18.8 400.0,24.0 C443.3,29.2 468.3,37.0 500.0,45.0 C531.7,53.0 575.0,67.5 590.0,72.0" stroke-width="6"/>
</g>
<circle cx="258" cy="45" r="9" fill="#3030e0"/><circle cx="105" cy="45" r="4" fill="#f03060"/>
</g>
<clipPath id="chTR"><rect x="605" y="6" width="580" height="574"/></clipPath><g clip-path="url(#chTR)">
<rect x="605" y="6" width="580" height="574" fill="#03030f"/>
<path d="M605,108 C700,100 850,118 1000,148 C1100,160 1160,172 1190,185 L1190,330 C1050,328 900,336 750,322 C680,310 640,295 605,285 Z" fill="#070720"/>
<path d="M605,318 C700,325 850,342 950,350 C1050,378 1120,395 1190,410 L1190,522 C1050,505 900,488 750,468 C680,455 640,448 605,440 Z" fill="#06061c"/>
<g fill="none" stroke="#2828f0" stroke-width="9">
<path d="M605.0,30.0 C620.8,30.8 664.2,32.5 700.0,35.0 C735.8,37.5 786.7,44.2 820.0,45.0 C853.3,45.8 870.0,39.2 900.0,40.0 C930.0,40.8 966.7,45.8 1000.0,50.0 C1033.3,54.2 1068.3,59.7 1100.0,65.0 C1131.7,70.3 1175.0,79.2 1190.0,82.0"/>
<path d="M840.0,14.0 C866.7,15.7 956.7,18.8 1000.0,24.0 C1043.3,29.2 1068.3,37.0 1100.0,45.0 C1131.7,53.0 1175.0,67.5 1190.0,72.0" stroke-width="6"/>
<path d="M635.0,268.0 C645.8,267.0 672.5,264.2 700.0,262.0 C727.5,259.8 766.7,257.3 800.0,255.0 C833.3,252.7 870.8,249.5 900.0,248.0 C929.2,246.5 962.5,246.3 975.0,246.0" stroke-width="8"/>
<path d="M1030.0,242.0 C1041.7,241.3 1075.0,238.3 1100.0,238.0 C1125.0,237.7 1166.7,239.7 1180.0,240.0" stroke="#c8c8ff" stroke-width="8"/>
</g>
<ellipse cx="910" cy="352" rx="35" ry="6" fill="#3030f0"/>
<circle cx="700" cy="262" r="4" fill="#fff"/>
<circle cx="760" cy="258" r="4" fill="#fff"/>
<circle cx="880" cy="244" r="4" fill="#fff"/>
<circle cx="940" cy="247" r="4" fill="#fff"/>
<circle cx="1060" cy="240" r="4" fill="#fff"/>
<circle cx="1120" cy="238" r="4" fill="#fff"/>
<circle cx="1150" cy="236" r="4" fill="#fff"/>
</g>
<clipPath id="chBL"><rect x="8" y="598" width="577" height="577"/></clipPath><g clip-path="url(#chBL)">
<path d="M115,598 L335,598 C380,650 440,720 520,790 C555,815 575,828 590,835 L590,885 C520,868 450,850 380,860 C330,865 300,820 270,780 C220,720 170,660 115,598 Z" fill="#9a50a6"/>
<path d="M190,1180 C260,1150 340,1110 400,1060 C440,1010 460,960 490,930 C530,905 560,895 590,890 L590,1180 Z" fill="#9040a0"/>
<path d="M190,1180 C260,1150 340,1110 400,1060 C440,1010 460,960 490,930 C530,905 560,895 590,890 L590,1180 Z" fill="#c8a0d8" opacity="0.25"/>
<ellipse cx="520" cy="850" rx="60" ry="25" fill="#e8c8f0" opacity="0.5" filter="url(#blurA)"/>
<g fill="none" stroke="#3a3af0" stroke-width="8">
<path d="M300.0,910.0 C313.3,902.0 351.7,876.7 380.0,862.0 C408.3,847.3 446.7,826.5 470.0,822.0 C493.3,817.5 511.7,832.8 520.0,835.0"/>
<path d="M460.0,950.0 C466.7,938.3 488.3,901.7 500.0,880.0 C511.7,858.3 520.8,837.5 530.0,820.0 C539.2,802.5 550.8,782.5 555.0,775.0"/>
<path d="M340.0,1180.0 C345.0,1170.0 360.0,1140.0 370.0,1120.0 C380.0,1100.0 395.0,1070.0 400.0,1060.0" stroke="#5a5ae8" stroke-width="5"/>
<path d="M490.0,870.0 C496.7,868.3 517.5,857.5 530.0,860.0 C542.5,862.5 559.2,880.8 565.0,885.0" stroke="#f0e0f0" stroke-width="5"/>
</g>
<ellipse cx="550" cy="980" rx="12" ry="16" fill="#f0e0f0"/>
</g>
<clipPath id="chBR"><rect x="605" y="598" width="580" height="577"/></clipPath><g clip-path="url(#chBR)">
<rect x="605" y="598" width="580" height="577" fill="#02020c"/>
<path d="M760,598 L960,598 C1000,650 1060,720 1120,790 C1150,815 1170,828 1190,835 L1190,1180 L1000,1180 C1040,1100 1060,1000 1000,930 C920,880 860,800 760,598 Z" fill="#050516"/>
<g fill="none" stroke="#3434f0" stroke-width="8">
<path d="M900.0,905.0 C913.3,897.8 953.3,875.2 980.0,862.0 C1006.7,848.8 1041.3,828.8 1060.0,826.0 C1078.7,823.2 1086.7,841.8 1092.0,845.0"/>
<path d="M1055.0,945.0 C1059.2,934.2 1070.8,899.2 1080.0,880.0 C1089.2,860.8 1097.2,848.3 1110.0,830.0 C1122.8,811.7 1149.2,780.0 1157.0,770.0"/>
<path d="M940.0,1180.0 C944.2,1170.0 956.7,1137.5 965.0,1120.0 C973.3,1102.5 985.8,1082.5 990.0,1075.0"/>
</g>
<circle cx="1098" cy="842" r="5" fill="#fff"/>
</g>
</g>
<rect x="899.70" y="724.20" width="72.20" height="4.70" fill="#fff" stroke="none" stroke-width="1" />
<text x="1009.3" y="386.8" font-size="20.6" font-weight="bold" fill="#000" stroke="#000" stroke-width="0.9" stroke-linejoin="round">i</text>
<line x1="1055.70" y1="417.00" x2="1055.70" y2="689.90" stroke="#4a4a4a" stroke-width="1.2" />
<line x1="1055.70" y1="689.40" x2="1176.90" y2="689.40" stroke="#4a4a4a" stroke-width="1.2" />
<line x1="1050.20" y1="417.50" x2="1055.70" y2="417.50" stroke="#4a4a4a" stroke-width="1.2" />
<text x="1042.9" y="421.6" font-size="13.3" fill="#231f20" text-anchor="end" font-weight="normal" >6</text>
<line x1="1050.20" y1="508.13" x2="1055.70" y2="508.13" stroke="#4a4a4a" stroke-width="1.2" />
<text x="1042.9" y="512.2" font-size="13.3" fill="#231f20" text-anchor="end" font-weight="normal" >4</text>
<line x1="1050.20" y1="598.77" x2="1055.70" y2="598.77" stroke="#4a4a4a" stroke-width="1.2" />
<text x="1042.9" y="602.9" font-size="13.3" fill="#231f20" text-anchor="end" font-weight="normal" >2</text>
<line x1="1050.20" y1="689.40" x2="1055.70" y2="689.40" stroke="#4a4a4a" stroke-width="1.2" />
<text x="1042.9" y="693.5" font-size="13.3" fill="#231f20" text-anchor="end" font-weight="normal" >0</text>
<rect x="1067.80" y="626.70" width="41.90" height="62.70" fill="#b6c4f8" stroke="#222" stroke-width="0.9" />
<rect x="1122.50" y="677.40" width="42.60" height="12.00" fill="#f3c6b4" stroke="#222" stroke-width="0.9" />
<line x1="1088.60" y1="573.20" x2="1088.60" y2="678.60" stroke="#333" stroke-width="0.9" />
<line x1="1083.00" y1="573.20" x2="1094.00" y2="573.20" stroke="#333" stroke-width="0.9" />
<line x1="1083.00" y1="678.60" x2="1094.00" y2="678.60" stroke="#333" stroke-width="0.9" />
<line x1="1143.80" y1="660.30" x2="1143.80" y2="689.00" stroke="#333" stroke-width="0.9" />
<line x1="1138.00" y1="660.30" x2="1149.50" y2="660.30" stroke="#333" stroke-width="0.9" />
<circle cx="1088.60" cy="453.33" r="2.3" fill="#111" />
<circle cx="1088.60" cy="510.03" r="2.3" fill="#111" />
<circle cx="1085.33" cy="537.62" r="2.3" fill="#111" />
<circle cx="1091.61" cy="538.63" r="2.3" fill="#111" />
<circle cx="1096.62" cy="536.87" r="2.3" fill="#111" />
<circle cx="1086.09" cy="546.90" r="2.3" fill="#111" />
<circle cx="1091.10" cy="545.15" r="2.3" fill="#111" />
<circle cx="1088.60" cy="553.18" r="2.3" fill="#111" />
<circle cx="1091.10" cy="563.71" r="2.3" fill="#111" />
<circle cx="1086.09" cy="568.73" r="2.3" fill="#111" />
<circle cx="1096.62" cy="581.53" r="2.3" fill="#111" />
<circle cx="1091.10" cy="578.26" r="2.3" fill="#111" />
<circle cx="1080.32" cy="586.54" r="2.3" fill="#111" />
<circle cx="1086.09" cy="585.79" r="2.3" fill="#111" />
<circle cx="1091.10" cy="589.55" r="2.3" fill="#111" />
<circle cx="1096.62" cy="591.31" r="2.3" fill="#111" />
<circle cx="1086.09" cy="599.59" r="2.3" fill="#111" />
<circle cx="1091.10" cy="595.83" r="2.3" fill="#111" />
<circle cx="1086.09" cy="606.36" r="2.3" fill="#111" />
<circle cx="1091.10" cy="610.88" r="2.3" fill="#111" />
<circle cx="1080.32" cy="623.92" r="2.3" fill="#111" />
<circle cx="1086.09" cy="626.43" r="2.3" fill="#111" />
<circle cx="1091.10" cy="624.68" r="2.3" fill="#111" />
<circle cx="1096.62" cy="629.69" r="2.3" fill="#111" />
<circle cx="1080.32" cy="630.95" r="2.3" fill="#111" />
<circle cx="1086.09" cy="629.69" r="2.3" fill="#111" />
<circle cx="1091.10" cy="630.95" r="2.3" fill="#111" />
<circle cx="1075.30" cy="635.97" r="2.3" fill="#111" />
<circle cx="1080.82" cy="635.97" r="2.3" fill="#111" />
<circle cx="1086.09" cy="635.97" r="2.3" fill="#111" />
<circle cx="1091.10" cy="635.97" r="2.3" fill="#111" />
<circle cx="1096.62" cy="635.97" r="2.3" fill="#111" />
<circle cx="1075.30" cy="642.24" r="2.3" fill="#111" />
<circle cx="1080.32" cy="642.24" r="2.3" fill="#111" />
<circle cx="1086.09" cy="643.49" r="2.3" fill="#111" />
<circle cx="1091.10" cy="642.24" r="2.3" fill="#111" />
<circle cx="1096.62" cy="642.24" r="2.3" fill="#111" />
<circle cx="1075.30" cy="648.51" r="2.3" fill="#111" />
<circle cx="1080.32" cy="648.51" r="2.3" fill="#111" />
<circle cx="1086.09" cy="648.51" r="2.3" fill="#111" />
<circle cx="1091.10" cy="648.51" r="2.3" fill="#111" />
<circle cx="1096.62" cy="649.76" r="2.3" fill="#111" />
<circle cx="1075.30" cy="654.03" r="2.3" fill="#111" />
<circle cx="1080.82" cy="659.80" r="2.3" fill="#111" />
<circle cx="1086.09" cy="659.80" r="2.3" fill="#111" />
<circle cx="1091.10" cy="659.80" r="2.3" fill="#111" />
<circle cx="1102.14" cy="654.78" r="2.3" fill="#111" />
<circle cx="1075.30" cy="659.80" r="2.3" fill="#111" />
<circle cx="1102.14" cy="661.05" r="2.3" fill="#111" />
<circle cx="1086.09" cy="667.33" r="2.3" fill="#111" />
<circle cx="1091.10" cy="668.58" r="2.3" fill="#111" />
<circle cx="1075.30" cy="673.60" r="2.3" fill="#111" />
<circle cx="1080.32" cy="673.60" r="2.3" fill="#111" />
<circle cx="1086.09" cy="673.60" r="2.3" fill="#111" />
<circle cx="1091.10" cy="673.60" r="2.3" fill="#111" />
<circle cx="1096.62" cy="675.60" r="2.3" fill="#111" />
<circle cx="1088.60" cy="682.38" r="2.3" fill="#111" />
<circle cx="1069.78" cy="689.40" r="2.3" fill="#111" />
<circle cx="1075.30" cy="689.40" r="2.3" fill="#111" />
<circle cx="1080.82" cy="689.40" r="2.3" fill="#111" />
<circle cx="1086.09" cy="689.40" r="2.3" fill="#111" />
<circle cx="1091.10" cy="689.40" r="2.3" fill="#111" />
<circle cx="1096.62" cy="689.40" r="2.3" fill="#111" />
<circle cx="1102.14" cy="689.40" r="2.3" fill="#111" />
<circle cx="1107.41" cy="689.40" r="2.3" fill="#111" />
<circle cx="1138.77" cy="640.98" r="2.3" fill="#111" />
<circle cx="1141.78" cy="640.98" r="2.3" fill="#111" />
<circle cx="1145.54" cy="646.00" r="2.3" fill="#111" />
<circle cx="1141.28" cy="651.02" r="2.3" fill="#111" />
<circle cx="1136.26" cy="664.82" r="2.3" fill="#111" />
<circle cx="1143.79" cy="664.82" r="2.3" fill="#111" />
<circle cx="1133.00" cy="673.60" r="2.3" fill="#111" />
<circle cx="1138.77" cy="673.60" r="2.3" fill="#111" />
<circle cx="1143.79" cy="674.85" r="2.3" fill="#111" />
<circle cx="1149.31" cy="673.60" r="2.3" fill="#111" />
<circle cx="1135.51" cy="678.11" r="2.3" fill="#111" />
<circle cx="1140.53" cy="678.11" r="2.3" fill="#111" />
<circle cx="1145.54" cy="679.12" r="2.3" fill="#111" />
<circle cx="1150.56" cy="679.87" r="2.3" fill="#111" />
<circle cx="1154.83" cy="679.87" r="2.3" fill="#111" />
<circle cx="1141.78" cy="683.63" r="2.3" fill="#111" />
<circle cx="1127.48" cy="689.40" r="2.3" fill="#111" />
<circle cx="1131.24" cy="689.40" r="2.3" fill="#111" />
<circle cx="1135.01" cy="689.40" r="2.3" fill="#111" />
<circle cx="1138.77" cy="689.40" r="2.3" fill="#111" />
<circle cx="1142.53" cy="689.40" r="2.3" fill="#111" />
<circle cx="1146.30" cy="689.40" r="2.3" fill="#111" />
<circle cx="1150.06" cy="689.40" r="2.3" fill="#111" />
<circle cx="1153.82" cy="689.40" r="2.3" fill="#111" />
<circle cx="1157.59" cy="689.40" r="2.3" fill="#111" />
<circle cx="1160.60" cy="689.40" r="2.3" fill="#111" />
<polyline points="1088.6,436.5 1088.6,420.7 1143.8,420.7 1143.8,624.7" fill="none" stroke="#7a7a7a" stroke-width="1.2"/>
<path d="M1103.55,414.70 L1103.55,411.40 M1103.55,414.70 L1106.69,413.68 M1103.55,414.70 L1105.49,417.37 M1103.55,414.70 L1101.61,417.37 M1103.55,414.70 L1100.41,413.68 M1112.05,414.70 L1112.05,411.40 M1112.05,414.70 L1115.19,413.68 M1112.05,414.70 L1113.99,417.37 M1112.05,414.70 L1110.11,417.37 M1112.05,414.70 L1108.91,413.68 M1120.55,414.70 L1120.55,411.40 M1120.55,414.70 L1123.69,413.68 M1120.55,414.70 L1122.49,417.37 M1120.55,414.70 L1118.61,417.37 M1120.55,414.70 L1117.41,413.68 M1129.05,414.70 L1129.05,411.40 M1129.05,414.70 L1132.19,413.68 M1129.05,414.70 L1130.99,417.37 M1129.05,414.70 L1127.11,417.37 M1129.05,414.70 L1125.91,413.68" stroke="#111" stroke-width="1.55" stroke-linecap="round" fill="none"/>
<line x1="1088.60" y1="689.40" x2="1088.60" y2="695.40" stroke="#4a4a4a" stroke-width="1.1" />
<line x1="1143.80" y1="689.40" x2="1143.80" y2="695.40" stroke="#4a4a4a" stroke-width="1.1" />
<text x="1062.8" y="710.7" font-size="15" fill="#231f20" text-anchor="start" font-weight="normal" textLength="50.1" lengthAdjust="spacingAndGlyphs" >No dox</text>
<text x="1130.0" y="710.7" font-size="15" fill="#231f20" text-anchor="start" font-weight="normal" textLength="26.8" lengthAdjust="spacingAndGlyphs" >Dox</text>
<line x1="1061.50" y1="716.20" x2="1160.10" y2="716.20" stroke="#333" stroke-width="1" />
<text x="1076.6" y="732.6" font-size="14.7" fill="#231f20" text-anchor="start" font-weight="normal" textLength="67.7" lengthAdjust="spacingAndGlyphs" >shRab27a</text>
<text transform="translate(1024.6,553.8) rotate(-90)" x="0" y="0" font-size="15.2" fill="#231f20" text-anchor="middle" textLength="209.5" lengthAdjust="spacingAndGlyphs">OPP in NMJs (puncta/100 µm)</text>
<text x="0.3" y="781.8" font-size="20.6" font-weight="bold" fill="#000" stroke="#000" stroke-width="0.9" stroke-linejoin="round">j</text>
<line x1="87.60" y1="837.90" x2="87.60" y2="1094.50" stroke="#4a4a4a" stroke-width="1.2" />
<line x1="82.60" y1="1094.00" x2="87.60" y2="1094.00" stroke="#4a4a4a" stroke-width="1.2" />
<text x="75.3" y="1098.1" font-size="13.3" fill="#231f20" text-anchor="end" font-weight="normal" >0%</text>
<line x1="82.60" y1="1042.88" x2="87.60" y2="1042.88" stroke="#4a4a4a" stroke-width="1.2" />
<text x="75.3" y="1047.0" font-size="13.3" fill="#231f20" text-anchor="end" font-weight="normal" >20%</text>
<line x1="82.60" y1="991.76" x2="87.60" y2="991.76" stroke="#4a4a4a" stroke-width="1.2" />
<text x="75.3" y="995.9" font-size="13.3" fill="#231f20" text-anchor="end" font-weight="normal" >40%</text>
<line x1="82.60" y1="940.64" x2="87.60" y2="940.64" stroke="#4a4a4a" stroke-width="1.2" />
<text x="75.3" y="944.7" font-size="13.3" fill="#231f20" text-anchor="end" font-weight="normal" >60%</text>
<line x1="82.60" y1="889.52" x2="87.60" y2="889.52" stroke="#4a4a4a" stroke-width="1.2" />
<text x="75.3" y="893.6" font-size="13.3" fill="#231f20" text-anchor="end" font-weight="normal" >80%</text>
<line x1="82.60" y1="838.40" x2="87.60" y2="838.40" stroke="#4a4a4a" stroke-width="1.2" />
<text x="75.3" y="842.5" font-size="13.3" fill="#231f20" text-anchor="end" font-weight="normal" >100%</text>
<line x1="87.60" y1="1094.00" x2="229.50" y2="1094.00" stroke="#4a4a4a" stroke-width="1.2" />
<rect x="97.00" y="887.00" width="33.60" height="207.00" fill="#7fa9f5" stroke="#222" stroke-width="0.9" />
<rect x="141.40" y="939.60" width="33.80" height="154.40" fill="#f3c6b4" stroke="#222" stroke-width="0.9" />
<rect x="186.30" y="881.40" width="33.30" height="212.60" fill="#c8c8c8" stroke="#222" stroke-width="0.9" />
<line x1="113.70" y1="866.70" x2="113.70" y2="904.40" stroke="#222" stroke-width="0.9" />
<line x1="104.80" y1="866.70" x2="122.50" y2="866.70" stroke="#222" stroke-width="0.9" />
<line x1="104.80" y1="904.40" x2="122.50" y2="904.40" stroke="#222" stroke-width="0.9" />
<line x1="158.30" y1="905.50" x2="158.30" y2="972.00" stroke="#222" stroke-width="0.9" />
<line x1="149.70" y1="905.50" x2="167.20" y2="905.50" stroke="#222" stroke-width="0.9" />
<line x1="149.70" y1="972.00" x2="167.20" y2="972.00" stroke="#222" stroke-width="0.9" />
<line x1="203.00" y1="868.00" x2="203.00" y2="892.50" stroke="#222" stroke-width="0.9" />
<line x1="194.00" y1="868.00" x2="211.50" y2="868.00" stroke="#222" stroke-width="0.9" />
<line x1="194.00" y1="892.50" x2="211.50" y2="892.50" stroke="#222" stroke-width="0.9" />
<circle cx="113.67" cy="861.15" r="2.2" fill="#111" />
<circle cx="102.02" cy="869.47" r="2.2" fill="#111" />
<circle cx="125.59" cy="873.07" r="2.2" fill="#111" />
<circle cx="102.02" cy="878.06" r="2.2" fill="#111" />
<circle cx="125.59" cy="880.01" r="2.2" fill="#111" />
<circle cx="113.67" cy="884.16" r="2.2" fill="#111" />
<circle cx="113.67" cy="896.64" r="2.2" fill="#111" />
<circle cx="108.12" cy="915.21" r="2.2" fill="#111" />
<circle cx="119.77" cy="914.11" r="2.2" fill="#111" />
<circle cx="158.30" cy="893.04" r="2.2" fill="#111" />
<circle cx="146.94" cy="917.99" r="2.2" fill="#111" />
<circle cx="170.22" cy="918.82" r="2.2" fill="#111" />
<circle cx="146.94" cy="923.81" r="2.2" fill="#111" />
<circle cx="170.22" cy="928.52" r="2.2" fill="#111" />
<circle cx="158.30" cy="929.35" r="2.2" fill="#111" />
<circle cx="158.30" cy="962.35" r="2.2" fill="#111" />
<circle cx="152.48" cy="988.96" r="2.2" fill="#111" />
<circle cx="164.40" cy="987.57" r="2.2" fill="#111" />
<circle cx="202.94" cy="864.20" r="2.2" fill="#111" />
<circle cx="202.94" cy="871.69" r="2.2" fill="#111" />
<circle cx="196.84" cy="884.16" r="2.2" fill="#111" />
<circle cx="208.76" cy="887.49" r="2.2" fill="#111" />
<circle cx="202.94" cy="895.25" r="2.2" fill="#111" />
<polyline points="113.7,849.5 113.7,837.6 158.3,837.6 158.3,881.4" fill="none" stroke="#7a7a7a" stroke-width="1.2"/>
<path d="M128.00,831.30 L128.00,828.00 M128.00,831.30 L131.14,830.28 M128.00,831.30 L129.94,833.97 M128.00,831.30 L126.06,833.97 M128.00,831.30 L124.86,830.28 M136.50,831.30 L136.50,828.00 M136.50,831.30 L139.64,830.28 M136.50,831.30 L138.44,833.97 M136.50,831.30 L134.56,833.97 M136.50,831.30 L133.36,830.28 M145.00,831.30 L145.00,828.00 M145.00,831.30 L148.14,830.28 M145.00,831.30 L146.94,833.97 M145.00,831.30 L143.06,833.97 M145.00,831.30 L141.86,830.28" stroke="#111" stroke-width="1.55" stroke-linecap="round" fill="none"/>
<polyline points="113.7,815.4 113.7,803.8 203.0,803.8 203.0,852.3" fill="none" stroke="#7a7a7a" stroke-width="1.2"/>
<text x="149.2" y="800.4" font-size="15" fill="#231f20" text-anchor="start" font-weight="normal" textLength="18.5" lengthAdjust="spacingAndGlyphs" >NS</text>
<line x1="113.70" y1="1094.00" x2="113.70" y2="1099.60" stroke="#4a4a4a" stroke-width="1.1" />
<line x1="158.30" y1="1094.00" x2="158.30" y2="1099.60" stroke="#4a4a4a" stroke-width="1.1" />
<line x1="203.00" y1="1094.00" x2="203.00" y2="1099.60" stroke="#4a4a4a" stroke-width="1.1" />
<text x="88.2" y="1117.6" font-size="15" fill="#231f20" text-anchor="start" font-weight="normal" textLength="49.6" lengthAdjust="spacingAndGlyphs" >No dox</text>
<text x="144.7" y="1117.6" font-size="15" fill="#231f20" text-anchor="start" font-weight="normal" textLength="27.2" lengthAdjust="spacingAndGlyphs" >Dox</text>
<text x="189.4" y="1117.6" font-size="15" fill="#231f20" text-anchor="start" font-weight="normal" textLength="26.3" lengthAdjust="spacingAndGlyphs" >Dox</text>
<line x1="84.00" y1="1122.60" x2="179.70" y2="1122.60" stroke="#333" stroke-width="1" />
<text x="97.9" y="1139.2" font-size="14.7" fill="#231f20" text-anchor="start" font-weight="normal" textLength="67.6" lengthAdjust="spacingAndGlyphs" >shRab27a</text>
<text transform="translate(33.3,966.3) rotate(-90)" x="0" y="0" font-size="15.2" fill="#231f20" text-anchor="middle" textLength="220.9" lengthAdjust="spacingAndGlyphs">Percent of contracting muscles</text>
<text x="325.3" y="782.5" font-size="20.6" font-weight="bold" fill="#000" stroke="#000" stroke-width="0.9" stroke-linejoin="round">k</text>
<rect x="344.00" y="766.70" width="186.10" height="25.30" fill="#fff" stroke="#111" stroke-width="1.3" />
<rect x="534.30" y="766.70" width="186.60" height="25.30" fill="#fff" stroke="#111" stroke-width="1.3" />
<rect x="725.00" y="766.70" width="186.00" height="25.30" fill="#fff" stroke="#111" stroke-width="1.3" />
<rect x="317.30" y="793.30" width="25.40" height="186.45" fill="#fff" stroke="#111" stroke-width="1.3" />
<rect x="317.30" y="983.90" width="25.40" height="186.80" fill="#fff" stroke="#111" stroke-width="1.3" />
<text x="403.5" y="785.3" font-size="15" fill="#231f20" text-anchor="start" font-weight="normal" textLength="50.4" lengthAdjust="spacingAndGlyphs" >Rab27a</text>
<text x="596" y="784.3" font-size="15" textLength="63.3" lengthAdjust="spacingAndGlyphs"><tspan fill="#1a1af0">NFH</tspan><tspan fill="#222">/BTX</tspan></text>
<text x="797.7" y="784.3" font-size="15" fill="#231f20" text-anchor="start" font-weight="normal" textLength="33.0" lengthAdjust="spacingAndGlyphs" >Inset</text>
<text transform="translate(336.3,886.3) rotate(-90)" x="0" y="0" font-size="14.7" fill="#231f20" text-anchor="middle" textLength="120.8" lengthAdjust="spacingAndGlyphs">shRab27a no dox</text>
<text transform="translate(336.3,1076.7) rotate(-90)" x="0" y="0" font-size="14.7" fill="#231f20" text-anchor="middle" textLength="100.0" lengthAdjust="spacingAndGlyphs">shRab27a dox</text>
<rect x="342.70" y="792.30" width="187.70" height="187.45" fill="#000" stroke="none" stroke-width="1" />
<rect x="534.30" y="792.30" width="186.60" height="187.45" fill="#000" stroke="none" stroke-width="1" />
<rect x="725.00" y="792.30" width="186.20" height="187.45" fill="#000" stroke="none" stroke-width="1" />
<rect x="342.70" y="983.90" width="187.70" height="186.80" fill="#000" stroke="none" stroke-width="1" />
<rect x="534.30" y="983.90" width="186.70" height="186.80" fill="#000" stroke="none" stroke-width="1" />
<rect x="724.00" y="984.50" width="188.30" height="187.20" fill="#000" stroke="none" stroke-width="1" />
<g transform="translate(340,790) scale(0.1625)">
<clipPath id="ck1"><rect x="17" y="14" width="1158" height="1152"/></clipPath><g clip-path="url(#ck1)">
<path d="M20,350 C200,270 400,200 600,100 C680,50 720,30 760,20 L1175,20 L1175,210 C1000,320 880,400 750,460 C720,475 700,485 690,490 C900,560 1050,610 1175,640 L1175,820 C1000,720 850,640 720,605 C600,580 500,585 400,610 C250,680 100,740 20,780 Z" fill="#2a1f00" filter="url(#blurA)"/>
<ellipse cx="980" cy="200" rx="300" ry="150" fill="#5a4400" opacity="0.8" filter="url(#blurA)" transform="rotate(-25 980 200)"/>
<path d="M20,350 C200,270 400,200 600,100 C680,50 720,30 760,20 L1175,20 L1175,210 C1000,320 880,400 750,460 C720,475 700,485 690,490 C900,560 1050,610 1175,640 L1175,820 C1000,720 850,640 720,605 C600,580 500,585 400,610 C250,680 100,740 20,780 Z" fill="#000" filter="url(#speckK1)"/>
<ellipse cx="230" cy="560" rx="330" ry="190" fill="#000" opacity="0.35" filter="url(#blurA)" transform="rotate(-20 230 560)"/>
<ellipse cx="1010" cy="170" rx="230" ry="110" fill="#a07a00" opacity="0.35" filter="url(#blurA)" transform="rotate(-25 1010 170)"/>
<circle cx="940" cy="475" r="14" fill="#ffe070"/>
</g>
<rect x="692" y="483" width="328" height="326" fill="none" stroke="#c8b400" stroke-width="8"/>
</g>
<g transform="translate(340,980) scale(0.1625)">
<clipPath id="ck4"><rect x="17" y="25" width="1158" height="1145"/></clipPath><g clip-path="url(#ck4)">
<path d="M100,30 L800,30 C900,120 1000,250 1080,400 C1130,500 1170,600 1175,700 L1175,1150 C1050,1000 900,880 750,750 C600,620 450,480 330,330 C230,200 160,100 100,30 Z" fill="#161000" filter="url(#blurA)"/>
<path d="M100,30 L800,30 C900,120 1000,250 1080,400 C1130,500 1170,600 1175,700 L1175,1150 C1050,1000 900,880 750,750 C600,620 450,480 330,330 C230,200 160,100 100,30 Z" fill="#000" filter="url(#speckK2)"/>
<circle cx="748" cy="175" r="9" fill="#e8c040"/>
<circle cx="930" cy="282" r="9" fill="#e8c040"/>
<circle cx="820" cy="312" r="9" fill="#e8c040"/>
<circle cx="720" cy="215" r="9" fill="#e8c040"/>
<circle cx="512" cy="540" r="9" fill="#e8c040"/>
</g>
<rect x="808" y="582" width="330" height="330" fill="none" stroke="#c8b400" stroke-width="8"/>
</g>
<g transform="translate(533,790) scale(0.1625)" stroke-linecap="round" stroke-linejoin="round">
<clipPath id="ck2"><rect x="10" y="15" width="1145" height="1150"/></clipPath><g clip-path="url(#ck2)">
<path d="M10,325 C80,340 200,290 350,220 C500,150 650,70 770,15 L1155,15 L1155,110 C1000,230 850,350 700,430 C600,470 480,540 400,550 C300,600 150,680 10,740 Z" fill="#04041f" filter="url(#blurB)"/>
<path d="M560,490 C700,510 850,570 1000,630 L1155,690 L1155,840 C1000,770 850,700 700,640 L540,580 Z" fill="#050520"/>
<g fill="none" stroke="#2a2aff" stroke-width="12">
<path d="M10.0,370.0 C20.0,370.8 46.7,370.0 70.0,375.0 C93.3,380.0 120.0,394.2 150.0,400.0 C180.0,405.8 216.7,406.7 250.0,410.0 C283.3,413.3 316.7,415.0 350.0,420.0 C383.3,425.0 416.7,431.7 450.0,440.0 C483.3,448.3 516.7,460.0 550.0,470.0 C583.3,480.0 616.7,486.7 650.0,500.0 C683.3,513.3 716.7,533.3 750.0,550.0 C783.3,566.7 816.7,583.3 850.0,600.0 C883.3,616.7 916.7,635.0 950.0,650.0 C983.3,665.0 1015.0,675.8 1050.0,690.0 C1085.0,704.2 1141.7,727.5 1160.0,735.0"/>
<path d="M10.0,800.0 C18.3,791.7 36.7,765.0 60.0,750.0 C83.3,735.0 110.0,721.7 150.0,710.0 C190.0,698.3 258.3,690.0 300.0,680.0 C341.7,670.0 370.0,665.0 400.0,650.0 C430.0,635.0 456.7,606.7 480.0,590.0 C503.3,573.3 516.7,565.0 540.0,550.0 C563.3,535.0 606.7,508.3 620.0,500.0" stroke-width="11"/>
<path d="M520.0,570.0 C533.3,575.0 570.0,586.7 600.0,600.0 C630.0,613.3 666.7,635.0 700.0,650.0 C733.3,665.0 766.7,678.3 800.0,690.0 C833.3,701.7 866.7,710.0 900.0,720.0 C933.3,730.0 956.7,738.3 1000.0,750.0 C1043.3,761.7 1133.3,783.3 1160.0,790.0" stroke-width="10"/>
<path d="M940.0,725.0 C942.5,729.2 951.7,740.0 955.0,750.0 C958.3,760.0 959.2,779.2 960.0,785.0" stroke-width="8"/>
<path d="M1000.0,810.0 C1013.3,816.7 1053.3,836.7 1080.0,850.0 C1106.7,863.3 1146.7,883.3 1160.0,890.0" stroke-width="8" stroke="#1a1ac0"/>
<path d="M180.0,410.0 C191.7,411.7 225.0,415.0 250.0,420.0 C275.0,425.0 316.7,436.7 330.0,440.0" stroke-width="8" stroke="#3a3aff"/>
</g>
<circle cx="75" cy="378" r="22" fill="#3030ff"/>
<circle cx="25" cy="375" r="18" fill="#3030ff"/>
<path d="M280.0,380.0 C286.7,375.8 305.0,363.3 320.0,355.0 C335.0,346.7 355.0,335.8 370.0,330.0 C385.0,324.2 403.3,321.7 410.0,320.0" fill="none" stroke="#ddd" stroke-width="12" filter="url(#blurB)"/>
<circle cx="350" cy="410" r="8" fill="#eee" filter="url(#blurB)"/>
<circle cx="130" cy="465" r="10" fill="#eee" filter="url(#blurB)"/>
<circle cx="120" cy="530" r="10" fill="#eee" filter="url(#blurB)"/>
<circle cx="565" cy="560" r="20" fill="#eee" filter="url(#blurB)"/>
<circle cx="635" cy="995" r="8" fill="#eee" filter="url(#blurB)"/>
<circle cx="420" cy="375" r="8" fill="#eee" filter="url(#blurB)"/>
<circle cx="355" cy="125" r="5" fill="#eee" filter="url(#blurB)"/>
<circle cx="380" cy="130" r="4" fill="#eee" filter="url(#blurB)"/>
<circle cx="420" cy="110" r="4" fill="#eee" filter="url(#blurB)"/>
<circle cx="300" cy="70" r="3" fill="#eee" filter="url(#blurB)"/>
<circle cx="200" cy="95" r="4" fill="#eee" filter="url(#blurB)"/>
<circle cx="460" cy="570" r="5" fill="#eee" filter="url(#blurB)"/>
<ellipse cx="820" cy="570" rx="35" ry="55" fill="#ccc" opacity="0.85" filter="url(#blurB)"/>
<ellipse cx="815" cy="560" rx="15" ry="35" fill="#fff" filter="url(#blurB)"/>
<path d="M10.0,325.0 C21.7,327.5 48.3,345.8 80.0,340.0 C111.7,334.2 155.0,310.0 200.0,290.0 C245.0,270.0 300.0,243.3 350.0,220.0 C400.0,196.7 450.0,175.0 500.0,150.0 C550.0,125.0 605.0,92.5 650.0,70.0 C695.0,47.5 750.0,24.2 770.0,15.0" fill="none" stroke="#d8d8d8" stroke-width="6" stroke-dasharray="14 12"/>
<path d="M1155.0,110.0 C1129.2,130.0 1050.8,190.0 1000.0,230.0 C949.2,270.0 900.0,316.7 850.0,350.0 C800.0,383.3 741.7,410.0 700.0,430.0 C658.3,450.0 636.7,451.7 600.0,470.0 C563.3,488.3 513.3,526.7 480.0,540.0 C446.7,553.3 430.0,540.0 400.0,550.0 C370.0,560.0 341.7,578.3 300.0,600.0 C258.3,621.7 198.3,656.7 150.0,680.0 C101.7,703.3 33.3,730.0 10.0,740.0" fill="none" stroke="#d8d8d8" stroke-width="6" stroke-dasharray="14 12"/>
<path d="M560.0,490.0 C583.3,493.3 651.7,496.7 700.0,510.0 C748.3,523.3 800.0,550.0 850.0,570.0 C900.0,590.0 949.2,610.0 1000.0,630.0 C1050.8,650.0 1129.2,680.0 1155.0,690.0" fill="none" stroke="#d8d8d8" stroke-width="6" stroke-dasharray="14 12"/>
<path d="M540.0,580.0 C566.7,590.0 648.3,620.0 700.0,640.0 C751.7,660.0 800.0,678.3 850.0,700.0 C900.0,721.7 949.2,746.7 1000.0,770.0 C1050.8,793.3 1129.2,828.3 1155.0,840.0" fill="none" stroke="#d8d8d8" stroke-width="6" stroke-dasharray="14 12"/>
</g>
<rect x="667" y="463" width="328" height="329" fill="none" stroke="#c8b400" stroke-width="7"/>
</g>
<g transform="translate(722,790) scale(0.1625)" stroke-linecap="round" stroke-linejoin="round">
<clipPath id="ck3"><rect x="20" y="15" width="1145" height="1150"/></clipPath><g clip-path="url(#ck3)">
<path d="M20,200 C300,320 600,460 1165,720 L1165,945 C900,880 600,790 300,720 C200,670 100,630 20,610 Z" fill="#070726" filter="url(#blurB)"/>
<g fill="none" stroke="#3030ff">
<path d="M20.0,180.0 C33.3,186.7 61.7,201.7 100.0,220.0 C138.3,238.3 200.0,266.7 250.0,290.0 C300.0,313.3 358.3,340.0 400.0,360.0 C441.7,380.0 466.7,393.3 500.0,410.0 C533.3,426.7 566.7,445.0 600.0,460.0 C633.3,475.0 666.7,483.3 700.0,500.0 C733.3,516.7 766.7,543.3 800.0,560.0 C833.3,576.7 866.7,586.7 900.0,600.0 C933.3,613.3 966.7,625.0 1000.0,640.0 C1033.3,655.0 1071.7,676.7 1100.0,690.0 C1128.3,703.3 1158.3,715.0 1170.0,720.0" stroke-width="26"/>
<path d="M20.0,170.0 C30.0,168.3 53.3,159.2 80.0,160.0 C106.7,160.8 151.7,163.3 180.0,175.0 C208.3,186.7 235.0,210.8 250.0,230.0 C265.0,249.2 266.7,280.0 270.0,290.0" stroke-width="18"/>
<path d="M20.0,610.0 C33.3,611.7 70.0,610.0 100.0,620.0 C130.0,630.0 166.7,653.3 200.0,670.0 C233.3,686.7 258.3,708.3 300.0,720.0 C341.7,731.7 400.0,728.3 450.0,740.0 C500.0,751.7 550.0,775.0 600.0,790.0 C650.0,805.0 700.0,815.0 750.0,830.0 C800.0,845.0 850.0,865.0 900.0,880.0 C950.0,895.0 1005.0,909.2 1050.0,920.0 C1095.0,930.8 1150.0,940.8 1170.0,945.0" stroke-width="30"/>
<path d="M20.0,640.0 C41.7,646.7 103.3,660.0 150.0,680.0 C196.7,700.0 253.3,731.7 300.0,760.0 C346.7,788.3 408.3,835.0 430.0,850.0" stroke-width="16"/>
<path d="M820.0,1010.0 C833.3,1005.0 875.0,988.3 900.0,980.0 C925.0,971.7 950.0,958.3 970.0,960.0 C990.0,961.7 1006.7,973.3 1020.0,990.0 C1033.3,1006.7 1040.0,1031.7 1050.0,1060.0 C1060.0,1088.3 1075.0,1143.3 1080.0,1160.0" stroke-width="22"/>
<path d="M500.0,580.0 C508.3,591.7 525.0,621.7 550.0,650.0 C575.0,678.3 616.7,721.7 650.0,750.0 C683.3,778.3 733.3,808.3 750.0,820.0" stroke-width="8" stroke="#2020d0"/>
</g>
<ellipse cx="575" cy="400" rx="150" ry="200" fill="#5a5a6a" opacity="0.6" filter="url(#blurA)"/>
<ellipse cx="575" cy="400" rx="140" ry="190" fill="#000" filter="url(#speckW)"/>
<ellipse cx="540" cy="380" rx="60" ry="140" fill="#d8d8e0" opacity="0.55" filter="url(#blurB)"/>
<path d="M510.0,240.0 C510.8,258.3 515.0,310.0 515.0,350.0 C515.0,390.0 511.7,441.7 510.0,480.0 C508.3,518.3 505.8,563.3 505.0,580.0" fill="none" stroke="#4a4aff" stroke-width="18"/>
<circle cx="470" cy="370" r="22" fill="#fff" filter="url(#blurB)"/>
<circle cx="545" cy="195" r="18" fill="#eee" filter="url(#blurB)"/>
<circle cx="285" cy="420" r="16" fill="#ddd" filter="url(#blurB)"/>
</g>
</g>
<g transform="translate(520,960) scale(0.333333)" stroke-linecap="round" stroke-linejoin="round">
<clipPath id="ck5"><rect x="45" y="72" width="558" height="560"/></clipPath><g clip-path="url(#ck5)">
<path d="M140.0,72.0 C158.3,93.3 218.3,162.0 250.0,200.0 C281.7,238.0 308.3,273.3 330.0,300.0 C351.7,326.7 360.0,340.0 380.0,360.0 C400.0,380.0 426.7,400.0 450.0,420.0 C473.3,440.0 495.0,456.7 520.0,480.0 C545.0,503.3 586.7,546.7 600.0,560.0" fill="none" stroke="#e8e8e8" stroke-width="3" stroke-dasharray="9 7" />
<path d="M205.0,72.0 C220.8,93.3 274.2,165.3 300.0,200.0 C325.8,234.7 340.0,256.7 360.0,280.0 C380.0,303.3 396.7,316.7 420.0,340.0 C443.3,363.3 470.0,396.7 500.0,420.0 C530.0,443.3 583.3,470.0 600.0,480.0" fill="none" stroke="#e8e8e8" stroke-width="3" stroke-dasharray="9 7" />
<path d="M300.0,72.0 C313.3,90.0 356.7,148.7 380.0,180.0 C403.3,211.3 420.0,236.7 440.0,260.0 C460.0,283.3 480.0,300.0 500.0,320.0 C520.0,340.0 542.8,363.3 560.0,380.0 C577.2,396.7 595.8,413.3 603.0,420.0" fill="none" stroke="#e8e8e8" stroke-width="3" stroke-dasharray="9 7" />
<path d="M315.0,72.0 C329.2,86.7 375.8,133.7 400.0,160.0 C424.2,186.3 440.0,206.7 460.0,230.0 C480.0,253.3 498.3,278.3 520.0,300.0 C541.7,321.7 578.3,350.0 590.0,360.0" fill="none" stroke="#e8e8e8" stroke-width="3" stroke-dasharray="9 7" />
<path d="M430.0,100.0 C436.7,105.0 458.3,113.3 470.0,130.0 C481.7,146.7 491.7,180.0 500.0,200.0 C508.3,220.0 510.0,233.3 520.0,250.0 C530.0,266.7 546.2,278.3 560.0,300.0 C573.8,321.7 595.8,366.7 603.0,380.0" fill="none" stroke="#e8e8e8" stroke-width="3" stroke-dasharray="9 7" />
<path d="M45.0,280.0 C50.8,288.3 69.2,306.7 80.0,330.0 C90.8,353.3 101.7,391.7 110.0,420.0 C118.3,448.3 121.7,476.7 130.0,500.0 C138.3,523.3 148.3,538.0 160.0,560.0 C171.7,582.0 193.3,620.0 200.0,632.0" fill="none" stroke="#e8e8e8" stroke-width="3" stroke-dasharray="9 7" />
<path d="M45.0,340.0 C52.5,350.0 75.8,380.0 90.0,400.0 C104.2,420.0 115.0,440.0 130.0,460.0 C145.0,480.0 165.0,500.0 180.0,520.0 C195.0,540.0 208.3,561.3 220.0,580.0 C231.7,598.7 245.0,623.3 250.0,632.0" fill="none" stroke="#e8e8e8" stroke-width="3" stroke-dasharray="9 7" />
<g fill="none" stroke="#2a2af0" stroke-width="5">
<path d="M70.0,320.0 C71.7,330.0 75.0,358.3 80.0,380.0 C85.0,401.7 93.3,428.3 100.0,450.0 C106.7,471.7 113.3,494.2 120.0,510.0 C126.7,525.8 136.7,539.2 140.0,545.0"/>
<path d="M430.0,100.0 C435.0,105.0 451.7,121.7 460.0,130.0 C468.3,138.3 476.7,146.7 480.0,150.0"/>
</g>
<path d="M140.0,540.0 C143.3,545.0 152.5,558.3 160.0,570.0 C167.5,581.7 180.8,603.3 185.0,610.0" fill="none" stroke="#eee" stroke-width="10"/>
<ellipse cx="165" cy="520" rx="8" ry="30" fill="#aaa" opacity="0.7" transform="rotate(-30 165 520)"/>
<circle cx="490" cy="430" r="7" fill="#fff"/>
</g>
<rect x="425" y="345" width="160" height="160" fill="none" stroke="#c8b000" stroke-width="4"/>
<rect x="443" y="585" width="139" height="15" fill="#fff"/>
<clipPath id="ck6"><rect x="613" y="70" width="564" height="565"/></clipPath><g clip-path="url(#ck6)">
<ellipse cx="830" cy="325" rx="30" ry="50" fill="#ccc" opacity="0.8" filter="url(#blurB)" transform="rotate(-30 830 325)"/>
<ellipse cx="840" cy="320" rx="14" ry="28" fill="#fff" filter="url(#blurB)"/>
<ellipse cx="845" cy="365" rx="12" ry="18" fill="#3a3aff"/>
<path d="M900.0,420.0 C910.0,426.7 941.7,446.7 960.0,460.0 C978.3,473.3 993.3,486.7 1010.0,500.0 C1026.7,513.3 1045.0,525.8 1060.0,540.0 C1075.0,554.2 1093.3,577.5 1100.0,585.0" fill="none" stroke="#3030f0" stroke-width="9" stroke-dasharray="30 25"/>
<circle cx="805" cy="170" r="5" fill="#2a2ad8"/>
<circle cx="656" cy="525" r="3" fill="#2a2ad8"/>
<circle cx="827" cy="121" r="5" fill="#2a2ad8"/>
<circle cx="746" cy="136" r="4" fill="#2a2ad8"/>
<circle cx="668" cy="138" r="4" fill="#2a2ad8"/>
<circle cx="662" cy="390" r="3" fill="#2a2ad8"/>
<circle cx="971" cy="399" r="3" fill="#2a2ad8"/>
<circle cx="942" cy="300" r="3" fill="#2a2ad8"/>
<circle cx="655" cy="545" r="4" fill="#2a2ad8"/>
<circle cx="856" cy="377" r="5" fill="#2a2ad8"/>
<circle cx="797" cy="523" r="3" fill="#2a2ad8"/>
<circle cx="686" cy="393" r="3" fill="#2a2ad8"/>
<circle cx="831" cy="380" r="3" fill="#2a2ad8"/>
<circle cx="935" cy="418" r="4" fill="#2a2ad8"/>
<circle cx="997" cy="317" r="4" fill="#2a2ad8"/>
<circle cx="881" cy="579" r="4" fill="#2a2ad8"/>
<circle cx="792" cy="511" r="5" fill="#2a2ad8"/>
<circle cx="1051" cy="133" r="4" fill="#2a2ad8"/>
<circle cx="914" cy="554" r="5" fill="#2a2ad8"/>
<circle cx="872" cy="413" r="3" fill="#2a2ad8"/>
<circle cx="694" cy="312" r="4" fill="#2a2ad8"/>
<circle cx="712" cy="349" r="3" fill="#2a2ad8"/>
<circle cx="1149" cy="131" r="5" fill="#2a2ad8"/>
<circle cx="939" cy="554" r="4" fill="#2a2ad8"/>
<circle cx="814" cy="276" r="4" fill="#2a2ad8"/>
<circle cx="943" cy="332" r="3" fill="#2a2ad8"/>
<circle cx="1140" cy="341" r="5" fill="#2a2ad8"/>
<circle cx="665" cy="478" r="4" fill="#2a2ad8"/>
<circle cx="979" cy="616" r="4" fill="#2a2ad8"/>
<circle cx="784" cy="294" r="5" fill="#2a2ad8"/>
<circle cx="817" cy="589" r="4" fill="#2a2ad8"/>
<circle cx="721" cy="152" r="3" fill="#2a2ad8"/>
<circle cx="748" cy="242" r="5" fill="#2a2ad8"/>
<circle cx="764" cy="297" r="4" fill="#2a2ad8"/>
<circle cx="674" cy="328" r="5" fill="#2a2ad8"/>
<circle cx="780" cy="163" r="4" fill="#2a2ad8"/>
<circle cx="1097" cy="238" r="4" fill="#2a2ad8"/>
<circle cx="1163" cy="452" r="4" fill="#2a2ad8"/>
<circle cx="1147" cy="170" r="3" fill="#2a2ad8"/>
<circle cx="712" cy="439" r="3" fill="#2a2ad8"/>
<circle cx="892" cy="402" r="4" fill="#2a2ad8"/>
<circle cx="782" cy="167" r="5" fill="#2a2ad8"/>
<circle cx="829" cy="390" r="3" fill="#2a2ad8"/>
<circle cx="1003" cy="363" r="5" fill="#2a2ad8"/>
<circle cx="984" cy="482" r="4" fill="#2a2ad8"/>
</g>
</g>
<text x="985.8" y="782.8" font-size="20.6" font-weight="bold" fill="#000" stroke="#000" stroke-width="0.9" stroke-linejoin="round">l</text>
<line x1="1055.80" y1="835.70" x2="1055.80" y2="1094.80" stroke="#4a4a4a" stroke-width="1.2" />
<line x1="1048.90" y1="1094.30" x2="1055.80" y2="1094.30" stroke="#4a4a4a" stroke-width="1.2" />
<text x="1041.6" y="1098.4" font-size="13.3" fill="#231f20" text-anchor="end" font-weight="normal" >0%</text>
<line x1="1048.90" y1="1042.68" x2="1055.80" y2="1042.68" stroke="#4a4a4a" stroke-width="1.2" />
<text x="1041.6" y="1046.8" font-size="13.3" fill="#231f20" text-anchor="end" font-weight="normal" >20%</text>
<line x1="1048.90" y1="991.06" x2="1055.80" y2="991.06" stroke="#4a4a4a" stroke-width="1.2" />
<text x="1041.6" y="995.2" font-size="13.3" fill="#231f20" text-anchor="end" font-weight="normal" >40%</text>
<line x1="1048.90" y1="939.44" x2="1055.80" y2="939.44" stroke="#4a4a4a" stroke-width="1.2" />
<text x="1041.6" y="943.5" font-size="13.3" fill="#231f20" text-anchor="end" font-weight="normal" >60%</text>
<line x1="1048.90" y1="887.82" x2="1055.80" y2="887.82" stroke="#4a4a4a" stroke-width="1.2" />
<text x="1041.6" y="891.9" font-size="13.3" fill="#231f20" text-anchor="end" font-weight="normal" >80%</text>
<line x1="1048.90" y1="836.20" x2="1055.80" y2="836.20" stroke="#4a4a4a" stroke-width="1.2" />
<text x="1041.6" y="840.3" font-size="13.3" fill="#231f20" text-anchor="end" font-weight="normal" >100%</text>
<line x1="1055.80" y1="1094.30" x2="1157.00" y2="1094.30" stroke="#4a4a4a" stroke-width="1.2" />
<rect x="1066.10" y="1057.40" width="33.30" height="36.90" fill="#b6c4f8" stroke="#222" stroke-width="0.9" />
<rect x="1112.70" y="934.60" width="33.30" height="159.70" fill="#f3c6b4" stroke="#222" stroke-width="0.9" />
<line x1="1082.70" y1="1045.50" x2="1082.70" y2="1068.50" stroke="#222" stroke-width="0.9" />
<line x1="1078.00" y1="1045.50" x2="1087.70" y2="1045.50" stroke="#222" stroke-width="0.9" />
<line x1="1078.00" y1="1068.50" x2="1087.70" y2="1068.50" stroke="#222" stroke-width="0.9" />
<line x1="1129.30" y1="912.40" x2="1129.30" y2="955.40" stroke="#222" stroke-width="0.9" />
<line x1="1124.60" y1="912.40" x2="1134.00" y2="912.40" stroke="#222" stroke-width="0.9" />
<line x1="1124.60" y1="955.40" x2="1134.00" y2="955.40" stroke="#222" stroke-width="0.9" />
<circle cx="1077.47" cy="1032.49" r="2.3" fill="#111" />
<circle cx="1087.73" cy="1032.49" r="2.3" fill="#111" />
<circle cx="1082.74" cy="1057.44" r="2.3" fill="#111" />
<circle cx="1082.74" cy="1068.53" r="2.3" fill="#111" />
<circle cx="1082.74" cy="1094.31" r="2.3" fill="#111" />
<circle cx="1129.32" cy="873.07" r="2.3" fill="#111" />
<circle cx="1129.32" cy="939.61" r="2.3" fill="#111" />
<circle cx="1129.32" cy="951.26" r="2.3" fill="#111" />
<circle cx="1129.32" cy="972.33" r="2.3" fill="#111" />
<polyline points="1082.7,1017.2 1082.7,842.6 1129.3,842.6 1129.3,857.8" fill="none" stroke="#7a7a7a" stroke-width="1.2"/>
<path d="M1102.45,834.80 L1102.45,831.50 M1102.45,834.80 L1105.59,833.78 M1102.45,834.80 L1104.39,837.47 M1102.45,834.80 L1100.51,837.47 M1102.45,834.80 L1099.31,833.78 M1110.95,834.80 L1110.95,831.50 M1110.95,834.80 L1114.09,833.78 M1110.95,834.80 L1112.89,837.47 M1110.95,834.80 L1109.01,837.47 M1110.95,834.80 L1107.81,833.78" stroke="#111" stroke-width="1.55" stroke-linecap="round" fill="none"/>
<line x1="1082.70" y1="1094.30" x2="1082.70" y2="1103.70" stroke="#4a4a4a" stroke-width="1.1" />
<line x1="1129.30" y1="1094.30" x2="1129.30" y2="1103.70" stroke="#4a4a4a" stroke-width="1.1" />
<text x="1055.0" y="1122.0" font-size="15" fill="#231f20" text-anchor="start" font-weight="normal" textLength="48.8" lengthAdjust="spacingAndGlyphs" >No dox</text>
<text x="1114.9" y="1122.0" font-size="15" fill="#231f20" text-anchor="start" font-weight="normal" textLength="26.3" lengthAdjust="spacingAndGlyphs" >Dox</text>
<line x1="1051.10" y1="1127.30" x2="1148.70" y2="1127.30" stroke="#333" stroke-width="1" />
<text x="1062.8" y="1143.4" font-size="14.7" fill="#231f20" text-anchor="start" font-weight="normal" textLength="67.1" lengthAdjust="spacingAndGlyphs" >shRab27a</text>
<text transform="translate(1000.4,965.2) rotate(-90)" x="0" y="0" font-size="15.2" fill="#231f20" text-anchor="middle" textLength="209.3" lengthAdjust="spacingAndGlyphs">Percent of degenerated NMJs</text>
<text x="0.3" y="1196.1" font-size="20.6" font-weight="bold" fill="#000" stroke="#000" stroke-width="0.9" stroke-linejoin="round">m</text>
<line x1="86.80" y1="1201.00" x2="86.80" y2="1469.10" stroke="#4a4a4a" stroke-width="1.2" />
<line x1="86.80" y1="1468.60" x2="391.30" y2="1468.60" stroke="#4a4a4a" stroke-width="1.2" />
<line x1="81.60" y1="1201.50" x2="86.80" y2="1201.50" stroke="#4a4a4a" stroke-width="1.2" />
<text y="1205.6" font-size="12.7" fill="#231f20"><tspan x="24.7" textLength="16.8" lengthAdjust="spacingAndGlyphs">2.5</tspan></text>
<text x="49.2" y="1204.7" font-size="10" fill="#231f20" text-anchor="middle">×</text>
<text x="55.9" y="1205.6" font-size="12.7" fill="#231f20" textLength="13.4" lengthAdjust="spacingAndGlyphs">10</text>
<text x="69.7" y="1198.4" font-size="7.4" fill="#231f20" textLength="3.7" lengthAdjust="spacingAndGlyphs">8</text>
<line x1="81.60" y1="1254.92" x2="86.80" y2="1254.92" stroke="#4a4a4a" stroke-width="1.2" />
<text y="1259.0" font-size="12.7" fill="#231f20"><tspan x="24.7" textLength="16.8" lengthAdjust="spacingAndGlyphs">2.0</tspan></text>
<text x="49.2" y="1258.1" font-size="10" fill="#231f20" text-anchor="middle">×</text>
<text x="55.9" y="1259.0" font-size="12.7" fill="#231f20" textLength="13.4" lengthAdjust="spacingAndGlyphs">10</text>
<text x="69.7" y="1251.8" font-size="7.4" fill="#231f20" textLength="3.7" lengthAdjust="spacingAndGlyphs">8</text>
<line x1="81.60" y1="1308.34" x2="86.80" y2="1308.34" stroke="#4a4a4a" stroke-width="1.2" />
<text y="1312.4" font-size="12.7" fill="#231f20"><tspan x="24.7" textLength="16.8" lengthAdjust="spacingAndGlyphs">1.5</tspan></text>
<text x="49.2" y="1311.5" font-size="10" fill="#231f20" text-anchor="middle">×</text>
<text x="55.9" y="1312.4" font-size="12.7" fill="#231f20" textLength="13.4" lengthAdjust="spacingAndGlyphs">10</text>
<text x="69.7" y="1305.2" font-size="7.4" fill="#231f20" textLength="3.7" lengthAdjust="spacingAndGlyphs">8</text>
<line x1="81.60" y1="1361.76" x2="86.80" y2="1361.76" stroke="#4a4a4a" stroke-width="1.2" />
<text y="1365.9" font-size="12.7" fill="#231f20"><tspan x="24.7" textLength="16.8" lengthAdjust="spacingAndGlyphs">1.0</tspan></text>
<text x="49.2" y="1365.0" font-size="10" fill="#231f20" text-anchor="middle">×</text>
<text x="55.9" y="1365.9" font-size="12.7" fill="#231f20" textLength="13.4" lengthAdjust="spacingAndGlyphs">10</text>
<text x="69.7" y="1358.7" font-size="7.4" fill="#231f20" textLength="3.7" lengthAdjust="spacingAndGlyphs">8</text>
<line x1="81.60" y1="1415.18" x2="86.80" y2="1415.18" stroke="#4a4a4a" stroke-width="1.2" />
<text y="1419.3" font-size="12.7" fill="#231f20"><tspan x="24.7" textLength="16.8" lengthAdjust="spacingAndGlyphs">5.0</tspan></text>
<text x="49.2" y="1418.4" font-size="10" fill="#231f20" text-anchor="middle">×</text>
<text x="55.9" y="1419.3" font-size="12.7" fill="#231f20" textLength="13.4" lengthAdjust="spacingAndGlyphs">10</text>
<text x="69.7" y="1412.1" font-size="7.4" fill="#231f20" textLength="3.7" lengthAdjust="spacingAndGlyphs">7</text>
<line x1="81.60" y1="1468.60" x2="86.80" y2="1468.60" stroke="#4a4a4a" stroke-width="1.2" />
<text x="74.3" y="1472.7" font-size="13.3" fill="#231f20" text-anchor="end" font-weight="normal" >0</text>
<line x1="86.80" y1="1468.60" x2="86.80" y2="1473.60" stroke="#4a4a4a" stroke-width="0.9" />
<line x1="96.98" y1="1468.60" x2="96.98" y2="1471.60" stroke="#4a4a4a" stroke-width="0.9" />
<line x1="107.16" y1="1468.60" x2="107.16" y2="1471.60" stroke="#4a4a4a" stroke-width="0.9" />
<line x1="117.34" y1="1468.60" x2="117.34" y2="1471.60" stroke="#4a4a4a" stroke-width="0.9" />
<line x1="127.52" y1="1468.60" x2="127.52" y2="1471.60" stroke="#4a4a4a" stroke-width="0.9" />
<line x1="137.70" y1="1468.60" x2="137.70" y2="1471.60" stroke="#4a4a4a" stroke-width="0.9" />
<line x1="147.88" y1="1468.60" x2="147.88" y2="1471.60" stroke="#4a4a4a" stroke-width="0.9" />
<line x1="158.06" y1="1468.60" x2="158.06" y2="1471.60" stroke="#4a4a4a" stroke-width="0.9" />
<line x1="168.24" y1="1468.60" x2="168.24" y2="1471.60" stroke="#4a4a4a" stroke-width="0.9" />
<line x1="178.42" y1="1468.60" x2="178.42" y2="1471.60" stroke="#4a4a4a" stroke-width="0.9" />
<line x1="188.60" y1="1468.60" x2="188.60" y2="1473.60" stroke="#4a4a4a" stroke-width="0.9" />
<line x1="198.78" y1="1468.60" x2="198.78" y2="1471.60" stroke="#4a4a4a" stroke-width="0.9" />
<line x1="208.96" y1="1468.60" x2="208.96" y2="1471.60" stroke="#4a4a4a" stroke-width="0.9" />
<line x1="219.14" y1="1468.60" x2="219.14" y2="1471.60" stroke="#4a4a4a" stroke-width="0.9" />
<line x1="229.32" y1="1468.60" x2="229.32" y2="1471.60" stroke="#4a4a4a" stroke-width="0.9" />
<line x1="239.50" y1="1468.60" x2="239.50" y2="1471.60" stroke="#4a4a4a" stroke-width="0.9" />
<line x1="249.68" y1="1468.60" x2="249.68" y2="1471.60" stroke="#4a4a4a" stroke-width="0.9" />
<line x1="259.86" y1="1468.60" x2="259.86" y2="1471.60" stroke="#4a4a4a" stroke-width="0.9" />
<line x1="270.04" y1="1468.60" x2="270.04" y2="1471.60" stroke="#4a4a4a" stroke-width="0.9" />
<line x1="280.22" y1="1468.60" x2="280.22" y2="1471.60" stroke="#4a4a4a" stroke-width="0.9" />
<line x1="290.40" y1="1468.60" x2="290.40" y2="1473.60" stroke="#4a4a4a" stroke-width="0.9" />
<line x1="300.58" y1="1468.60" x2="300.58" y2="1471.60" stroke="#4a4a4a" stroke-width="0.9" />
<line x1="310.76" y1="1468.60" x2="310.76" y2="1471.60" stroke="#4a4a4a" stroke-width="0.9" />
<line x1="320.94" y1="1468.60" x2="320.94" y2="1471.60" stroke="#4a4a4a" stroke-width="0.9" />
<line x1="331.12" y1="1468.60" x2="331.12" y2="1471.60" stroke="#4a4a4a" stroke-width="0.9" />
<line x1="341.30" y1="1468.60" x2="341.30" y2="1471.60" stroke="#4a4a4a" stroke-width="0.9" />
<line x1="351.48" y1="1468.60" x2="351.48" y2="1471.60" stroke="#4a4a4a" stroke-width="0.9" />
<line x1="361.66" y1="1468.60" x2="361.66" y2="1471.60" stroke="#4a4a4a" stroke-width="0.9" />
<line x1="371.84" y1="1468.60" x2="371.84" y2="1471.60" stroke="#4a4a4a" stroke-width="0.9" />
<line x1="382.02" y1="1468.60" x2="382.02" y2="1471.60" stroke="#4a4a4a" stroke-width="0.9" />
<line x1="392.20" y1="1468.60" x2="392.20" y2="1473.60" stroke="#4a4a4a" stroke-width="0.9" />
<text x="83.4" y="1490.3" font-size="12.3" fill="#231f20" text-anchor="start" font-weight="normal" textLength="6.8" lengthAdjust="spacingAndGlyphs" >0</text>
<text x="176.3" y="1490.3" font-size="12.3" fill="#231f20" text-anchor="start" font-weight="normal" textLength="24.0" lengthAdjust="spacingAndGlyphs" >200</text>
<text x="277.8" y="1490.3" font-size="12.3" fill="#231f20" text-anchor="start" font-weight="normal" textLength="24.0" lengthAdjust="spacingAndGlyphs" >400</text>
<text x="379.3" y="1490.3" font-size="12.3" fill="#231f20" text-anchor="start" font-weight="normal" textLength="24.0" lengthAdjust="spacingAndGlyphs" >600</text>
<text x="206.5" y="1512.3" font-size="14.3" fill="#231f20" text-anchor="start" font-weight="normal" textLength="64.8" lengthAdjust="spacingAndGlyphs" >Size (nm)</text>
<text transform="translate(15.6,1335.4) rotate(-90)" x="0" y="0" font-size="15.2" fill="#231f20" text-anchor="middle" textLength="201.2" lengthAdjust="spacingAndGlyphs">Concentration (particles/ml)</text>
<g transform="translate(0,1170) scale(0.35)">
<path d="M420.0,845.0 C424.2,834.2 438.0,817.5 445.0,780.0 C452.0,742.5 457.8,675.0 462.0,620.0 C466.2,565.0 467.5,500.0 470.0,450.0 C472.5,400.0 475.0,345.8 477.0,320.0 C479.0,294.2 479.8,293.3 482.0,295.0 C484.2,296.7 487.0,329.2 490.0,330.0 C493.0,330.8 496.7,313.3 500.0,300.0 C503.3,286.7 506.7,250.0 510.0,250.0 C513.3,250.0 516.7,275.0 520.0,300.0 C523.3,325.0 526.7,380.0 530.0,400.0 C533.3,420.0 536.3,416.3 540.0,420.0 C543.7,423.7 547.8,421.2 552.0,422.0 C556.2,422.8 561.2,422.0 565.0,425.0 C568.8,428.0 570.8,427.5 575.0,440.0 C579.2,452.5 584.2,482.5 590.0,500.0 C595.8,517.5 601.7,531.7 610.0,545.0 C618.3,558.3 630.0,567.5 640.0,580.0 C650.0,592.5 661.7,605.0 670.0,620.0 C678.3,635.0 683.3,651.7 690.0,670.0 C696.7,688.3 701.7,711.7 710.0,730.0 C718.3,748.3 730.0,765.8 740.0,780.0 C750.0,794.2 760.0,809.2 770.0,815.0 C780.0,820.8 790.8,816.2 800.0,815.0 C809.2,813.8 816.7,808.0 825.0,808.0 C833.3,808.0 842.5,810.5 850.0,815.0 C857.5,819.5 863.3,828.7 870.0,835.0 C876.7,841.3 886.7,850.0 890.0,853.0 L890.0,853.0 C885.0,852.2 870.0,850.2 860.0,848.0 C850.0,845.8 840.0,841.3 830.0,840.0 C820.0,838.7 810.0,840.8 800.0,840.0 C790.0,839.2 780.0,840.0 770.0,835.0 C760.0,830.0 749.2,819.2 740.0,810.0 C730.8,800.8 723.3,791.7 715.0,780.0 C706.7,768.3 699.2,756.7 690.0,740.0 C680.8,723.3 670.0,696.7 660.0,680.0 C650.0,663.3 638.3,651.7 630.0,640.0 C621.7,628.3 616.7,618.3 610.0,610.0 C603.3,601.7 598.3,595.8 590.0,590.0 C581.7,584.2 567.5,580.0 560.0,575.0 C552.5,570.0 550.0,565.0 545.0,560.0 C540.0,555.0 534.2,556.7 530.0,545.0 C525.8,533.3 524.2,507.5 520.0,490.0 C515.8,472.5 509.2,443.3 505.0,440.0 C500.8,436.7 498.3,451.7 495.0,470.0 C491.7,488.3 488.3,511.7 485.0,550.0 C481.7,588.3 480.0,655.0 475.0,700.0 C470.0,745.0 464.2,794.5 455.0,820.0 C445.8,845.5 425.8,847.5 420.0,853.0 Z" fill="#62a8a8" opacity="0.75"/>
<path d="M380.0,848.0 C383.3,841.7 393.3,838.0 400.0,810.0 C406.7,782.0 415.0,718.3 420.0,680.0 C425.0,641.7 427.2,601.7 430.0,580.0 C432.8,558.3 434.5,546.7 437.0,550.0 C439.5,553.3 442.0,588.3 445.0,600.0 C448.0,611.7 451.7,621.7 455.0,620.0 C458.3,618.3 460.8,596.7 465.0,590.0 C469.2,583.3 474.2,582.0 480.0,580.0 C485.8,578.0 493.3,581.3 500.0,578.0 C506.7,574.7 514.2,578.0 520.0,560.0 C525.8,542.0 530.3,480.0 535.0,470.0 C539.7,460.0 543.8,491.7 548.0,500.0 C552.2,508.3 556.3,510.0 560.0,520.0 C563.7,530.0 565.8,538.3 570.0,560.0 C574.2,581.7 580.0,621.7 585.0,650.0 C590.0,678.3 595.0,710.0 600.0,730.0 C605.0,750.0 608.3,762.5 615.0,770.0 C621.7,777.5 632.5,774.5 640.0,775.0 C647.5,775.5 653.3,772.2 660.0,773.0 C666.7,773.8 674.2,781.3 680.0,780.0 C685.8,778.7 690.8,768.3 695.0,765.0 C699.2,761.7 701.7,754.2 705.0,760.0 C708.3,765.8 710.8,786.7 715.0,800.0 C719.2,813.3 725.0,831.2 730.0,840.0 C735.0,848.8 742.5,850.8 745.0,853.0 L745.0,853.0 C740.8,852.2 726.7,851.8 720.0,848.0 C713.3,844.2 710.0,833.8 705.0,830.0 C700.0,826.2 696.7,825.0 690.0,825.0 C683.3,825.0 673.3,829.2 665.0,830.0 C656.7,830.8 648.3,831.7 640.0,830.0 C631.7,828.3 622.5,826.7 615.0,820.0 C607.5,813.3 600.8,806.7 595.0,790.0 C589.2,773.3 585.0,748.3 580.0,720.0 C575.0,691.7 569.2,646.7 565.0,620.0 C560.8,593.3 558.8,580.0 555.0,560.0 C551.2,540.0 547.0,498.3 542.0,500.0 C537.0,501.7 530.3,545.0 525.0,570.0 C519.7,595.0 515.0,626.7 510.0,650.0 C505.0,673.3 500.0,695.0 495.0,710.0 C490.0,725.0 485.0,730.0 480.0,740.0 C475.0,750.0 470.0,766.7 465.0,770.0 C460.0,773.3 454.2,765.0 450.0,760.0 C445.8,755.0 444.2,736.7 440.0,740.0 C435.8,743.3 430.0,765.0 425.0,780.0 C420.0,795.0 417.5,817.8 410.0,830.0 C402.5,842.2 385.0,849.2 380.0,853.0 Z" fill="#c8a8e0" opacity="0.7"/>
<path d="M248.0,853.0 C266.7,853.0 338.0,853.5 360.0,853.0 C382.0,852.5 374.2,853.0 380.0,850.0 C385.8,847.0 390.8,843.3 395.0,835.0 C399.2,826.7 401.7,815.8 405.0,800.0 C408.3,784.2 411.7,758.3 415.0,740.0 C418.3,721.7 421.7,703.3 425.0,690.0 C428.3,676.7 431.7,665.8 435.0,660.0 C438.3,654.2 440.8,653.0 445.0,655.0 C449.2,657.0 455.0,668.7 460.0,672.0 C465.0,675.3 470.0,676.2 475.0,675.0 C480.0,673.8 485.0,674.2 490.0,665.0 C495.0,655.8 500.0,640.0 505.0,620.0 C510.0,600.0 515.0,567.5 520.0,545.0 C525.0,522.5 531.3,496.2 535.0,485.0 C538.7,473.8 538.7,472.2 542.0,478.0 C545.3,483.8 551.2,503.8 555.0,520.0 C558.8,536.2 561.7,555.0 565.0,575.0 C568.3,595.0 571.7,619.2 575.0,640.0 C578.3,660.8 580.8,680.0 585.0,700.0 C589.2,720.0 595.0,744.2 600.0,760.0 C605.0,775.8 609.2,787.0 615.0,795.0 C620.8,803.0 627.5,805.8 635.0,808.0 C642.5,810.2 650.8,808.5 660.0,808.0 C669.2,807.5 682.5,806.3 690.0,805.0 C697.5,803.7 700.8,798.3 705.0,800.0 C709.2,801.7 711.7,808.3 715.0,815.0 C718.3,821.7 720.8,833.8 725.0,840.0 C729.2,846.2 734.2,849.8 740.0,852.0 C745.8,854.2 697.0,852.8 760.0,853.0 C823.0,853.2 1058.3,853.0 1118.0,853.0" fill="none" stroke="#7b22a6" stroke-width="11" stroke-linejoin="round"/>
<path d="M248.0,853.0 C273.3,853.0 371.3,853.8 400.0,853.0 C428.7,852.2 413.3,853.5 420.0,848.0 C426.7,842.5 434.2,834.7 440.0,820.0 C445.8,805.3 450.8,783.3 455.0,760.0 C459.2,736.7 461.7,713.3 465.0,680.0 C468.3,646.7 471.7,600.0 475.0,560.0 C478.3,520.0 481.7,470.8 485.0,440.0 C488.3,409.2 492.0,388.0 495.0,375.0 C498.0,362.0 500.2,362.0 503.0,362.0 C505.8,362.0 508.3,365.3 512.0,375.0 C515.7,384.7 520.3,404.2 525.0,420.0 C529.7,435.8 535.0,457.5 540.0,470.0 C545.0,482.5 549.2,489.2 555.0,495.0 C560.8,500.8 569.2,499.2 575.0,505.0 C580.8,510.8 584.2,519.2 590.0,530.0 C595.8,540.8 603.3,556.7 610.0,570.0 C616.7,583.3 623.3,598.3 630.0,610.0 C636.7,621.7 643.3,630.8 650.0,640.0 C656.7,649.2 663.3,655.0 670.0,665.0 C676.7,675.0 683.3,685.8 690.0,700.0 C696.7,714.2 703.3,735.0 710.0,750.0 C716.7,765.0 723.3,779.2 730.0,790.0 C736.7,800.8 743.3,808.3 750.0,815.0 C756.7,821.7 763.3,827.0 770.0,830.0 C776.7,833.0 783.3,833.3 790.0,833.0 C796.7,832.7 803.7,829.2 810.0,828.0 C816.3,826.8 822.2,825.3 828.0,826.0 C833.8,826.7 838.8,829.3 845.0,832.0 C851.2,834.7 857.5,839.0 865.0,842.0 C872.5,845.0 880.8,848.2 890.0,850.0 C899.2,851.8 882.0,852.5 920.0,853.0 C958.0,853.5 1085.0,853.0 1118.0,853.0" fill="none" stroke="#1a6e72" stroke-width="11" stroke-linejoin="round"/>
</g>
<line x1="230.30" y1="1273.30" x2="246.80" y2="1273.30" stroke="#1a6e72" stroke-width="3.2" />
<line x1="230.30" y1="1294.30" x2="246.80" y2="1294.30" stroke="#7b22a6" stroke-width="3.2" />
<text x="253.8" y="1278.3" font-size="14.5" fill="#231f20" text-anchor="start" font-weight="normal" textLength="44.4" lengthAdjust="spacingAndGlyphs" >DMSO</text>
<text x="253.8" y="1299.3" font-size="14.5" fill="#231f20" text-anchor="start" font-weight="normal" textLength="61.9" lengthAdjust="spacingAndGlyphs" >GW4869</text>
<text x="453.8" y="1196.6" font-size="20.6" font-weight="bold" fill="#000" stroke="#000" stroke-width="0.9" stroke-linejoin="round">n</text>
<line x1="545.50" y1="1285.50" x2="545.50" y2="1468.70" stroke="#4a4a4a" stroke-width="1.2" />
<line x1="545.50" y1="1468.20" x2="654.50" y2="1468.20" stroke="#4a4a4a" stroke-width="1.2" />
<line x1="539.50" y1="1286.00" x2="545.50" y2="1286.00" stroke="#4a4a4a" stroke-width="1.2" />
<text y="1290.1" font-size="12.7" fill="#231f20"><tspan x="478.9" textLength="16.8" lengthAdjust="spacingAndGlyphs">2.0</tspan></text>
<text x="503.4" y="1289.2" font-size="10" fill="#231f20" text-anchor="middle">×</text>
<text x="510.1" y="1290.1" font-size="12.7" fill="#231f20" textLength="13.4" lengthAdjust="spacingAndGlyphs">10</text>
<text x="523.9" y="1282.9" font-size="7.4" fill="#231f20" textLength="7.4" lengthAdjust="spacingAndGlyphs">10</text>
<line x1="539.50" y1="1331.55" x2="545.50" y2="1331.55" stroke="#4a4a4a" stroke-width="1.2" />
<text y="1335.6" font-size="12.7" fill="#231f20"><tspan x="478.9" textLength="16.8" lengthAdjust="spacingAndGlyphs">1.5</tspan></text>
<text x="503.4" y="1334.7" font-size="10" fill="#231f20" text-anchor="middle">×</text>
<text x="510.1" y="1335.6" font-size="12.7" fill="#231f20" textLength="13.4" lengthAdjust="spacingAndGlyphs">10</text>
<text x="523.9" y="1328.5" font-size="7.4" fill="#231f20" textLength="7.4" lengthAdjust="spacingAndGlyphs">10</text>
<line x1="539.50" y1="1377.10" x2="545.50" y2="1377.10" stroke="#4a4a4a" stroke-width="1.2" />
<text y="1381.2" font-size="12.7" fill="#231f20"><tspan x="478.9" textLength="16.8" lengthAdjust="spacingAndGlyphs">1.0</tspan></text>
<text x="503.4" y="1380.3" font-size="10" fill="#231f20" text-anchor="middle">×</text>
<text x="510.1" y="1381.2" font-size="12.7" fill="#231f20" textLength="13.4" lengthAdjust="spacingAndGlyphs">10</text>
<text x="523.9" y="1374.0" font-size="7.4" fill="#231f20" textLength="7.4" lengthAdjust="spacingAndGlyphs">10</text>
<line x1="539.50" y1="1422.65" x2="545.50" y2="1422.65" stroke="#4a4a4a" stroke-width="1.2" />
<text y="1426.8" font-size="12.7" fill="#231f20"><tspan x="482.6" textLength="16.8" lengthAdjust="spacingAndGlyphs">5.0</tspan></text>
<text x="507.1" y="1425.8" font-size="10" fill="#231f20" text-anchor="middle">×</text>
<text x="513.8" y="1426.8" font-size="12.7" fill="#231f20" textLength="13.4" lengthAdjust="spacingAndGlyphs">10</text>
<text x="527.6" y="1419.6" font-size="7.4" fill="#231f20" textLength="3.7" lengthAdjust="spacingAndGlyphs">9</text>
<line x1="539.50" y1="1468.20" x2="545.50" y2="1468.20" stroke="#4a4a4a" stroke-width="1.2" />
<text x="532.2" y="1472.3" font-size="13.3" fill="#231f20" text-anchor="end" font-weight="normal" >0</text>
<rect x="562.80" y="1298.30" width="32.70" height="169.90" fill="#17868a" stroke="#222" stroke-width="0.9" />
<rect x="604.80" y="1367.60" width="32.70" height="100.60" fill="#8c5fba" stroke="#222" stroke-width="0.9" />
<line x1="579.00" y1="1294.00" x2="579.00" y2="1300.00" stroke="#eee" stroke-width="0.9" />
<line x1="576.00" y1="1297.00" x2="582.00" y2="1297.00" stroke="#eee" stroke-width="0.8" />
<circle cx="579.12" cy="1293.19" r="2.1" fill="#111" />
<circle cx="573.99" cy="1297.86" r="2.1" fill="#111" />
<circle cx="584.02" cy="1299.49" r="2.1" fill="#111" />
<circle cx="576.79" cy="1297.39" r="2.1" fill="#111" />
<circle cx="614.12" cy="1367.85" r="2.1" fill="#111" />
<circle cx="621.12" cy="1366.69" r="2.1" fill="#111" />
<circle cx="628.82" cy="1366.45" r="2.1" fill="#111" />
<polyline points="578.7,1284.3 578.7,1273.4 621.1,1273.4 621.1,1355.5" fill="none" stroke="#7a7a7a" stroke-width="1.2"/>
<path d="M587.75,1266.30 L587.75,1263.00 M587.75,1266.30 L590.89,1265.28 M587.75,1266.30 L589.69,1268.97 M587.75,1266.30 L585.81,1268.97 M587.75,1266.30 L584.61,1265.28 M596.25,1266.30 L596.25,1263.00 M596.25,1266.30 L599.39,1265.28 M596.25,1266.30 L598.19,1268.97 M596.25,1266.30 L594.31,1268.97 M596.25,1266.30 L593.11,1265.28 M604.75,1266.30 L604.75,1263.00 M604.75,1266.30 L607.89,1265.28 M604.75,1266.30 L606.69,1268.97 M604.75,1266.30 L602.81,1268.97 M604.75,1266.30 L601.61,1265.28 M613.25,1266.30 L613.25,1263.00 M613.25,1266.30 L616.39,1265.28 M613.25,1266.30 L615.19,1268.97 M613.25,1266.30 L611.31,1268.97 M613.25,1266.30 L610.11,1265.28" stroke="#111" stroke-width="1.55" stroke-linecap="round" fill="none"/>
<line x1="578.70" y1="1468.20" x2="578.70" y2="1473.30" stroke="#4a4a4a" stroke-width="1.1" />
<line x1="621.10" y1="1468.20" x2="621.10" y2="1473.30" stroke="#4a4a4a" stroke-width="1.1" />
<text x="541.3" y="1491.5" font-size="15" fill="#231f20" text-anchor="start" font-weight="normal" textLength="43.7" lengthAdjust="spacingAndGlyphs" >DMSO</text>
<text x="593.8" y="1491.5" font-size="15" fill="#231f20" text-anchor="start" font-weight="normal" textLength="61.9" lengthAdjust="spacingAndGlyphs" >GW4869</text>
<text transform="translate(467.8,1377.0) rotate(-90)" x="0" y="0" font-size="15.2" fill="#231f20" text-anchor="middle" textLength="164.5" lengthAdjust="spacingAndGlyphs">Number of particles/ml</text>
<text x="728.6" y="1196.0" font-size="20.6" font-weight="bold" fill="#000" stroke="#000" stroke-width="0.9" stroke-linejoin="round">o</text>
<line x1="774.50" y1="1224.80" x2="774.50" y2="1468.30" stroke="#4a4a4a" stroke-width="1.2" />
<line x1="774.50" y1="1467.80" x2="913.60" y2="1467.80" stroke="#4a4a4a" stroke-width="1.2" />
<line x1="768.80" y1="1225.30" x2="774.50" y2="1225.30" stroke="#4a4a4a" stroke-width="1.2" />
<text x="761.5" y="1229.4" font-size="13.3" fill="#231f20" text-anchor="end" font-weight="normal" >8</text>
<line x1="768.80" y1="1278.25" x2="774.50" y2="1278.25" stroke="#4a4a4a" stroke-width="1.2" />
<text x="761.5" y="1282.3" font-size="13.3" fill="#231f20" text-anchor="end" font-weight="normal" >6</text>
<line x1="768.80" y1="1331.20" x2="774.50" y2="1331.20" stroke="#4a4a4a" stroke-width="1.2" />
<text x="761.5" y="1335.3" font-size="13.3" fill="#231f20" text-anchor="end" font-weight="normal" >4</text>
<line x1="768.80" y1="1384.15" x2="774.50" y2="1384.15" stroke="#4a4a4a" stroke-width="1.2" />
<text x="761.5" y="1388.2" font-size="13.3" fill="#231f20" text-anchor="end" font-weight="normal" >2</text>
<line x1="768.80" y1="1437.10" x2="774.50" y2="1437.10" stroke="#4a4a4a" stroke-width="1.2" />
<text x="761.5" y="1441.2" font-size="13.3" fill="#231f20" text-anchor="end" font-weight="normal" >0</text>
<g transform="translate(700,1170) scale(0.227687)">
<path d="M493.5,520.0 C493.6,550.0 493.7,636.7 493.8,700.0 C493.9,763.3 493.9,853.3 494.2,900.0 C494.5,946.7 494.7,955.0 495.5,980.0 C496.3,1005.0 497.2,1030.0 499.0,1050.0 C500.8,1070.0 500.3,1086.7 506.0,1100.0 C511.7,1113.3 521.8,1121.7 533.0,1130.0 C544.2,1138.3 562.3,1144.2 573.0,1150.0 C583.7,1155.8 592.3,1160.8 597.0,1165.0 C601.7,1169.2 603.3,1171.7 601.0,1175.0 C598.7,1178.3 593.5,1180.8 583.0,1185.0 C572.5,1189.2 550.7,1195.0 538.0,1200.0 C525.3,1205.0 514.2,1209.2 507.0,1215.0 C499.8,1220.8 497.0,1231.7 495.0,1235.0 L491.0,1235.0 C489.0,1231.7 486.2,1220.8 479.0,1215.0 C471.8,1209.2 460.7,1205.0 448.0,1200.0 C435.3,1195.0 413.5,1189.2 403.0,1185.0 C392.5,1180.8 387.3,1178.3 385.0,1175.0 C382.7,1171.7 384.3,1169.2 389.0,1165.0 C393.7,1160.8 402.3,1155.8 413.0,1150.0 C423.7,1144.2 441.8,1138.3 453.0,1130.0 C464.2,1121.7 474.3,1113.3 480.0,1100.0 C485.7,1086.7 485.2,1070.0 487.0,1050.0 C488.8,1030.0 489.7,1005.0 490.5,980.0 C491.3,955.0 491.5,946.7 491.8,900.0 C492.1,853.3 492.1,763.3 492.2,700.0 C492.3,636.7 492.4,550.0 492.5,520.0 Z" fill="#17868a" stroke="#111" stroke-width="3.5"/>
<line x1="400" y1="1173" x2="600" y2="1173" stroke="#000" stroke-width="8" stroke-dasharray="30 14"/>
<path d="M780.5,430.0 C780.8,475.0 780.9,650.0 782.0,700.0 C783.1,750.0 785.3,720.0 787.0,730.0 C788.7,740.0 791.8,748.3 792.0,760.0 C792.2,771.7 788.7,788.3 788.0,800.0 C787.3,811.7 786.8,818.3 788.0,830.0 C789.2,841.7 792.7,855.0 795.0,870.0 C797.3,885.0 799.5,905.0 802.0,920.0 C804.5,935.0 806.7,946.7 810.0,960.0 C813.3,973.3 818.7,986.7 822.0,1000.0 C825.3,1013.3 831.0,1028.3 830.0,1040.0 C829.0,1051.7 819.3,1060.0 816.0,1070.0 C812.7,1080.0 805.7,1090.0 810.0,1100.0 C814.3,1110.0 831.7,1121.7 842.0,1130.0 C852.3,1138.3 864.0,1143.3 872.0,1150.0 C880.0,1156.7 889.3,1163.3 890.0,1170.0 C890.7,1176.7 885.7,1183.3 876.0,1190.0 C866.3,1196.7 845.3,1202.5 832.0,1210.0 C818.7,1217.5 804.3,1226.7 796.0,1235.0 C787.7,1243.3 784.3,1255.8 782.0,1260.0 L778.0,1260.0 C775.7,1255.8 772.3,1243.3 764.0,1235.0 C755.7,1226.7 741.3,1217.5 728.0,1210.0 C714.7,1202.5 693.7,1196.7 684.0,1190.0 C674.3,1183.3 669.3,1176.7 670.0,1170.0 C670.7,1163.3 680.0,1156.7 688.0,1150.0 C696.0,1143.3 707.7,1138.3 718.0,1130.0 C728.3,1121.7 745.7,1110.0 750.0,1100.0 C754.3,1090.0 747.3,1080.0 744.0,1070.0 C740.7,1060.0 731.0,1051.7 730.0,1040.0 C729.0,1028.3 734.7,1013.3 738.0,1000.0 C741.3,986.7 746.7,973.3 750.0,960.0 C753.3,946.7 755.5,935.0 758.0,920.0 C760.5,905.0 762.7,885.0 765.0,870.0 C767.3,855.0 770.8,841.7 772.0,830.0 C773.2,818.3 772.7,811.7 772.0,800.0 C771.3,788.3 767.8,771.7 768.0,760.0 C768.2,748.3 771.3,740.0 773.0,730.0 C774.7,720.0 776.9,750.0 778.0,700.0 C779.1,650.0 779.2,475.0 779.5,430.0 Z" fill="#8c5fba" stroke="#111" stroke-width="3.5"/>
<line x1="755" y1="1000" x2="820" y2="1000" stroke="#000" stroke-width="7" stroke-dasharray="6 9"/>
<line x1="745" y1="1082" x2="808" y2="1082" stroke="#000" stroke-width="8" stroke-dasharray="26 12"/>
<line x1="690" y1="1173" x2="880" y2="1173" stroke="#000" stroke-width="7" stroke-dasharray="6 9"/>
</g>
<polyline points="812.2,1272.5 812.2,1236.5 877.6,1236.5 877.6,1252.0" fill="none" stroke="#7a7a7a" stroke-width="1.2"/>
<path d="M832.25,1227.30 L832.25,1224.00 M832.25,1227.30 L835.39,1226.28 M832.25,1227.30 L834.19,1229.97 M832.25,1227.30 L830.31,1229.97 M832.25,1227.30 L829.11,1226.28 M840.75,1227.30 L840.75,1224.00 M840.75,1227.30 L843.89,1226.28 M840.75,1227.30 L842.69,1229.97 M840.75,1227.30 L838.81,1229.97 M840.75,1227.30 L837.61,1226.28 M849.25,1227.30 L849.25,1224.00 M849.25,1227.30 L852.39,1226.28 M849.25,1227.30 L851.19,1229.97 M849.25,1227.30 L847.31,1229.97 M849.25,1227.30 L846.11,1226.28 M857.75,1227.30 L857.75,1224.00 M857.75,1227.30 L860.89,1226.28 M857.75,1227.30 L859.69,1229.97 M857.75,1227.30 L855.81,1229.97 M857.75,1227.30 L854.61,1226.28" stroke="#111" stroke-width="1.55" stroke-linecap="round" fill="none"/>
<line x1="812.20" y1="1467.80" x2="812.20" y2="1473.50" stroke="#4a4a4a" stroke-width="1.1" />
<line x1="877.60" y1="1467.80" x2="877.60" y2="1473.50" stroke="#4a4a4a" stroke-width="1.1" />
<text x="791.0" y="1491.0" font-size="15" fill="#231f20" text-anchor="start" font-weight="normal" textLength="43.8" lengthAdjust="spacingAndGlyphs" >DMSO</text>
<text x="846.9" y="1491.0" font-size="15" fill="#231f20" text-anchor="start" font-weight="normal" textLength="61.0" lengthAdjust="spacingAndGlyphs" >GW4869</text>
<text transform="translate(743.3,1347.0) rotate(-90)" x="0" y="0" font-size="15.2" fill="#231f20" text-anchor="middle" textLength="233.4" lengthAdjust="spacingAndGlyphs">TDP-43 puro-PLA puncta/100 µm</text>
<text x="983.8" y="1196.0" font-size="20.6" font-weight="bold" fill="#000" stroke="#000" stroke-width="0.9" stroke-linejoin="round">p</text>
<line x1="1034.70" y1="1204.10" x2="1034.70" y2="1468.80" stroke="#4a4a4a" stroke-width="1.2" />
<line x1="1034.70" y1="1468.30" x2="1163.60" y2="1468.30" stroke="#4a4a4a" stroke-width="1.2" />
<line x1="1028.60" y1="1204.60" x2="1034.70" y2="1204.60" stroke="#4a4a4a" stroke-width="1.2" />
<text x="1021.3" y="1208.7" font-size="13.3" fill="#231f20" text-anchor="end" font-weight="normal" >10</text>
<line x1="1028.60" y1="1257.34" x2="1034.70" y2="1257.34" stroke="#4a4a4a" stroke-width="1.2" />
<text x="1021.3" y="1261.4" font-size="13.3" fill="#231f20" text-anchor="end" font-weight="normal" >8</text>
<line x1="1028.60" y1="1310.08" x2="1034.70" y2="1310.08" stroke="#4a4a4a" stroke-width="1.2" />
<text x="1021.3" y="1314.2" font-size="13.3" fill="#231f20" text-anchor="end" font-weight="normal" >6</text>
<line x1="1028.60" y1="1362.82" x2="1034.70" y2="1362.82" stroke="#4a4a4a" stroke-width="1.2" />
<text x="1021.3" y="1366.9" font-size="13.3" fill="#231f20" text-anchor="end" font-weight="normal" >4</text>
<line x1="1028.60" y1="1415.56" x2="1034.70" y2="1415.56" stroke="#4a4a4a" stroke-width="1.2" />
<text x="1021.3" y="1419.7" font-size="13.3" fill="#231f20" text-anchor="end" font-weight="normal" >2</text>
<line x1="1028.60" y1="1468.30" x2="1034.70" y2="1468.30" stroke="#4a4a4a" stroke-width="1.2" />
<text x="1021.3" y="1472.4" font-size="13.3" fill="#231f20" text-anchor="end" font-weight="normal" >0</text>
<rect x="1045.60" y="1410.20" width="42.10" height="58.10" fill="#17868a" stroke="#222" stroke-width="0.9" />
<rect x="1104.40" y="1447.30" width="41.90" height="21.00" fill="#8c5fba" stroke="#222" stroke-width="0.9" />
<line x1="1066.60" y1="1361.90" x2="1066.60" y2="1458.70" stroke="#222" stroke-width="0.9" />
<line x1="1061.00" y1="1361.90" x2="1072.00" y2="1361.90" stroke="#222" stroke-width="0.9" />
<line x1="1061.00" y1="1458.70" x2="1072.00" y2="1458.70" stroke="#222" stroke-width="0.9" />
<line x1="1125.30" y1="1421.60" x2="1125.30" y2="1468.00" stroke="#222" stroke-width="0.9" />
<line x1="1120.00" y1="1421.60" x2="1131.00" y2="1421.60" stroke="#222" stroke-width="0.9" />
<circle cx="1065.00" cy="1259.00" r="2.4" fill="#111" />
<circle cx="1068.00" cy="1259.00" r="2.4" fill="#111" />
<circle cx="1066.60" cy="1308.00" r="2.4" fill="#111" />
<circle cx="1061.50" cy="1314.50" r="2.4" fill="#111" />
<circle cx="1071.50" cy="1314.50" r="2.4" fill="#111" />
<circle cx="1070.00" cy="1319.50" r="2.4" fill="#111" />
<circle cx="1066.00" cy="1326.00" r="2.4" fill="#111" />
<circle cx="1066.00" cy="1333.00" r="2.4" fill="#111" />
<circle cx="1068.00" cy="1338.00" r="2.4" fill="#111" />
<circle cx="1062.00" cy="1346.00" r="2.4" fill="#111" />
<circle cx="1072.00" cy="1346.00" r="2.4" fill="#111" />
<circle cx="1058.00" cy="1352.00" r="2.4" fill="#111" />
<circle cx="1063.00" cy="1351.00" r="2.4" fill="#111" />
<circle cx="1068.00" cy="1352.00" r="2.4" fill="#111" />
<circle cx="1075.00" cy="1353.00" r="2.4" fill="#111" />
<circle cx="1064.00" cy="1355.00" r="2.4" fill="#111" />
<circle cx="1069.00" cy="1357.00" r="2.4" fill="#111" />
<circle cx="1062.00" cy="1371.00" r="2.4" fill="#111" />
<circle cx="1067.00" cy="1371.00" r="2.4" fill="#111" />
<circle cx="1071.00" cy="1366.00" r="2.4" fill="#111" />
<circle cx="1068.00" cy="1378.00" r="2.4" fill="#111" />
<circle cx="1068.00" cy="1390.00" r="2.4" fill="#111" />
<circle cx="1070.00" cy="1393.00" r="2.4" fill="#111" />
<circle cx="1066.00" cy="1398.00" r="2.4" fill="#111" />
<circle cx="1062.00" cy="1399.00" r="2.4" fill="#111" />
<circle cx="1071.00" cy="1399.00" r="2.4" fill="#111" />
<circle cx="1073.83" cy="1410.23" r="2.4" fill="#111" />
<circle cx="1066.25" cy="1439.37" r="2.4" fill="#111" />
<circle cx="1077.53" cy="1413.39" r="2.4" fill="#111" />
<circle cx="1067.45" cy="1450.09" r="2.4" fill="#111" />
<circle cx="1057.50" cy="1431.32" r="2.4" fill="#111" />
<circle cx="1062.36" cy="1400.20" r="2.4" fill="#111" />
<circle cx="1051.49" cy="1436.29" r="2.4" fill="#111" />
<circle cx="1057.36" cy="1449.21" r="2.4" fill="#111" />
<circle cx="1050.52" cy="1414.43" r="2.4" fill="#111" />
<circle cx="1075.59" cy="1461.85" r="2.4" fill="#111" />
<circle cx="1071.17" cy="1454.25" r="2.4" fill="#111" />
<circle cx="1060.84" cy="1402.11" r="2.4" fill="#111" />
<circle cx="1053.17" cy="1430.85" r="2.4" fill="#111" />
<circle cx="1062.26" cy="1459.02" r="2.4" fill="#111" />
<circle cx="1078.43" cy="1409.60" r="2.4" fill="#111" />
<circle cx="1082.41" cy="1407.74" r="2.4" fill="#111" />
<circle cx="1068.87" cy="1428.09" r="2.4" fill="#111" />
<circle cx="1066.45" cy="1421.26" r="2.4" fill="#111" />
<circle cx="1050.34" cy="1411.59" r="2.4" fill="#111" />
<circle cx="1057.46" cy="1453.68" r="2.4" fill="#111" />
<circle cx="1056.51" cy="1448.38" r="2.4" fill="#111" />
<circle cx="1081.18" cy="1460.06" r="2.4" fill="#111" />
<circle cx="1076.46" cy="1446.80" r="2.4" fill="#111" />
<circle cx="1075.27" cy="1436.01" r="2.4" fill="#111" />
<circle cx="1066.15" cy="1407.59" r="2.4" fill="#111" />
<circle cx="1056.24" cy="1451.28" r="2.4" fill="#111" />
<circle cx="1080.95" cy="1457.24" r="2.4" fill="#111" />
<circle cx="1062.15" cy="1425.40" r="2.4" fill="#111" />
<circle cx="1062.89" cy="1427.98" r="2.4" fill="#111" />
<circle cx="1062.92" cy="1461.68" r="2.4" fill="#111" />
<circle cx="1052.36" cy="1401.66" r="2.4" fill="#111" />
<circle cx="1084.74" cy="1444.52" r="2.4" fill="#111" />
<circle cx="1066.70" cy="1430.75" r="2.4" fill="#111" />
<circle cx="1075.93" cy="1434.13" r="2.4" fill="#111" />
<circle cx="1070.92" cy="1413.77" r="2.4" fill="#111" />
<circle cx="1071.41" cy="1434.50" r="2.4" fill="#111" />
<circle cx="1055.12" cy="1411.20" r="2.4" fill="#111" />
<circle cx="1082.37" cy="1421.59" r="2.4" fill="#111" />
<circle cx="1070.50" cy="1421.49" r="2.4" fill="#111" />
<circle cx="1052.72" cy="1419.01" r="2.4" fill="#111" />
<circle cx="1078.29" cy="1404.07" r="2.4" fill="#111" />
<circle cx="1062.50" cy="1448.18" r="2.4" fill="#111" />
<circle cx="1073.33" cy="1442.37" r="2.4" fill="#111" />
<circle cx="1083.50" cy="1455.72" r="2.4" fill="#111" />
<circle cx="1084.61" cy="1425.23" r="2.4" fill="#111" />
<circle cx="1070.26" cy="1459.61" r="2.4" fill="#111" />
<circle cx="1066.67" cy="1454.76" r="2.4" fill="#111" />
<circle cx="1057.90" cy="1423.28" r="2.4" fill="#111" />
<circle cx="1054.84" cy="1454.32" r="2.4" fill="#111" />
<circle cx="1077.99" cy="1404.30" r="2.4" fill="#111" />
<circle cx="1066.39" cy="1447.98" r="2.4" fill="#111" />
<circle cx="1050.88" cy="1451.89" r="2.4" fill="#111" />
<circle cx="1059.44" cy="1415.99" r="2.4" fill="#111" />
<circle cx="1055.14" cy="1426.01" r="2.4" fill="#111" />
<circle cx="1061.17" cy="1404.31" r="2.4" fill="#111" />
<circle cx="1084.40" cy="1455.75" r="2.4" fill="#111" />
<circle cx="1066.24" cy="1446.24" r="2.4" fill="#111" />
<circle cx="1083.52" cy="1415.64" r="2.4" fill="#111" />
<circle cx="1075.23" cy="1432.59" r="2.4" fill="#111" />
<circle cx="1056.64" cy="1401.75" r="2.4" fill="#111" />
<circle cx="1077.63" cy="1451.97" r="2.4" fill="#111" />
<circle cx="1070.65" cy="1454.65" r="2.4" fill="#111" />
<circle cx="1069.92" cy="1426.42" r="2.4" fill="#111" />
<circle cx="1060.09" cy="1452.66" r="2.4" fill="#111" />
<circle cx="1058.94" cy="1433.13" r="2.4" fill="#111" />
<circle cx="1049.37" cy="1447.63" r="2.4" fill="#111" />
<circle cx="1083.34" cy="1442.49" r="2.4" fill="#111" />
<circle cx="1070.37" cy="1401.46" r="2.4" fill="#111" />
<circle cx="1079.66" cy="1439.92" r="2.4" fill="#111" />
<circle cx="1058.26" cy="1436.23" r="2.4" fill="#111" />
<circle cx="1083.51" cy="1425.15" r="2.4" fill="#111" />
<circle cx="1053.81" cy="1456.15" r="2.4" fill="#111" />
<circle cx="1052.38" cy="1405.88" r="2.4" fill="#111" />
<circle cx="1065.09" cy="1401.57" r="2.4" fill="#111" />
<circle cx="1080.22" cy="1408.73" r="2.4" fill="#111" />
<circle cx="1053.56" cy="1440.63" r="2.4" fill="#111" />
<circle cx="1060.67" cy="1433.40" r="2.4" fill="#111" />
<circle cx="1056.91" cy="1430.62" r="2.4" fill="#111" />
<circle cx="1055.62" cy="1410.30" r="2.4" fill="#111" />
<circle cx="1074.56" cy="1423.42" r="2.4" fill="#111" />
<circle cx="1050.66" cy="1434.10" r="2.4" fill="#111" />
<circle cx="1080.46" cy="1444.07" r="2.4" fill="#111" />
<circle cx="1077.47" cy="1448.00" r="2.4" fill="#111" />
<circle cx="1065.70" cy="1400.49" r="2.4" fill="#111" />
<circle cx="1076.50" cy="1403.94" r="2.4" fill="#111" />
<circle cx="1074.61" cy="1410.87" r="2.4" fill="#111" />
<circle cx="1074.08" cy="1415.68" r="2.4" fill="#111" />
<circle cx="1050.51" cy="1419.44" r="2.4" fill="#111" />
<circle cx="1060.14" cy="1424.11" r="2.4" fill="#111" />
<circle cx="1059.62" cy="1455.85" r="2.4" fill="#111" />
<circle cx="1048.00" cy="1468.30" r="2.4" fill="#111" />
<circle cx="1050.20" cy="1468.30" r="2.4" fill="#111" />
<circle cx="1052.40" cy="1468.30" r="2.4" fill="#111" />
<circle cx="1054.60" cy="1468.30" r="2.4" fill="#111" />
<circle cx="1056.80" cy="1468.30" r="2.4" fill="#111" />
<circle cx="1059.00" cy="1468.30" r="2.4" fill="#111" />
<circle cx="1061.20" cy="1468.30" r="2.4" fill="#111" />
<circle cx="1063.40" cy="1468.30" r="2.4" fill="#111" />
<circle cx="1065.60" cy="1468.30" r="2.4" fill="#111" />
<circle cx="1067.80" cy="1468.30" r="2.4" fill="#111" />
<circle cx="1070.00" cy="1468.30" r="2.4" fill="#111" />
<circle cx="1072.20" cy="1468.30" r="2.4" fill="#111" />
<circle cx="1074.40" cy="1468.30" r="2.4" fill="#111" />
<circle cx="1076.60" cy="1468.30" r="2.4" fill="#111" />
<circle cx="1078.80" cy="1468.30" r="2.4" fill="#111" />
<circle cx="1081.00" cy="1468.30" r="2.4" fill="#111" />
<circle cx="1083.20" cy="1468.30" r="2.4" fill="#111" />
<circle cx="1085.40" cy="1468.30" r="2.4" fill="#111" />
<circle cx="1129.78" cy="1381.00" r="2.4" fill="#111" />
<circle cx="1121.29" cy="1381.00" r="2.4" fill="#111" />
<circle cx="1126.31" cy="1381.00" r="2.4" fill="#111" />
<circle cx="1129.97" cy="1385.00" r="2.4" fill="#111" />
<circle cx="1123.40" cy="1385.00" r="2.4" fill="#111" />
<circle cx="1120.94" cy="1393.00" r="2.4" fill="#111" />
<circle cx="1128.45" cy="1393.00" r="2.4" fill="#111" />
<circle cx="1123.85" cy="1398.00" r="2.4" fill="#111" />
<circle cx="1123.48" cy="1398.00" r="2.4" fill="#111" />
<circle cx="1121.38" cy="1402.00" r="2.4" fill="#111" />
<circle cx="1121.06" cy="1402.00" r="2.4" fill="#111" />
<circle cx="1121.03" cy="1402.00" r="2.4" fill="#111" />
<circle cx="1125.35" cy="1404.00" r="2.4" fill="#111" />
<circle cx="1129.77" cy="1404.00" r="2.4" fill="#111" />
<circle cx="1127.10" cy="1404.00" r="2.4" fill="#111" />
<circle cx="1125.01" cy="1408.00" r="2.4" fill="#111" />
<circle cx="1125.43" cy="1408.00" r="2.4" fill="#111" />
<circle cx="1129.06" cy="1408.00" r="2.4" fill="#111" />
<circle cx="1122.55" cy="1411.00" r="2.4" fill="#111" />
<circle cx="1126.92" cy="1414.00" r="2.4" fill="#111" />
<circle cx="1122.77" cy="1418.00" r="2.4" fill="#111" />
<circle cx="1127.54" cy="1422.00" r="2.4" fill="#111" />
<circle cx="1124.86" cy="1422.00" r="2.4" fill="#111" />
<circle cx="1122.66" cy="1422.00" r="2.4" fill="#111" />
<circle cx="1123.57" cy="1425.00" r="2.4" fill="#111" />
<circle cx="1122.58" cy="1425.00" r="2.4" fill="#111" />
<circle cx="1129.45" cy="1425.00" r="2.4" fill="#111" />
<circle cx="1120.67" cy="1430.00" r="2.4" fill="#111" />
<circle cx="1125.22" cy="1433.00" r="2.4" fill="#111" />
<circle cx="1127.47" cy="1433.00" r="2.4" fill="#111" />
<circle cx="1128.10" cy="1435.00" r="2.4" fill="#111" />
<circle cx="1126.57" cy="1435.00" r="2.4" fill="#111" />
<circle cx="1122.75" cy="1438.00" r="2.4" fill="#111" />
<circle cx="1129.47" cy="1438.00" r="2.4" fill="#111" />
<circle cx="1123.36" cy="1441.00" r="2.4" fill="#111" />
<circle cx="1124.12" cy="1441.00" r="2.4" fill="#111" />
<circle cx="1125.54" cy="1441.00" r="2.4" fill="#111" />
<circle cx="1121.92" cy="1444.00" r="2.4" fill="#111" />
<circle cx="1123.42" cy="1447.00" r="2.4" fill="#111" />
<circle cx="1124.21" cy="1447.00" r="2.4" fill="#111" />
<circle cx="1121.21" cy="1450.00" r="2.4" fill="#111" />
<circle cx="1122.05" cy="1450.00" r="2.4" fill="#111" />
<circle cx="1126.50" cy="1454.00" r="2.4" fill="#111" />
<circle cx="1124.05" cy="1454.00" r="2.4" fill="#111" />
<circle cx="1130.13" cy="1457.00" r="2.4" fill="#111" />
<circle cx="1130.21" cy="1457.00" r="2.4" fill="#111" />
<circle cx="1121.96" cy="1457.00" r="2.4" fill="#111" />
<circle cx="1107.00" cy="1468.30" r="2.4" fill="#111" />
<circle cx="1109.10" cy="1468.30" r="2.4" fill="#111" />
<circle cx="1111.20" cy="1468.30" r="2.4" fill="#111" />
<circle cx="1113.30" cy="1468.30" r="2.4" fill="#111" />
<circle cx="1115.40" cy="1468.30" r="2.4" fill="#111" />
<circle cx="1117.50" cy="1468.30" r="2.4" fill="#111" />
<circle cx="1119.60" cy="1468.30" r="2.4" fill="#111" />
<circle cx="1121.70" cy="1468.30" r="2.4" fill="#111" />
<circle cx="1123.80" cy="1468.30" r="2.4" fill="#111" />
<circle cx="1125.90" cy="1468.30" r="2.4" fill="#111" />
<circle cx="1128.00" cy="1468.30" r="2.4" fill="#111" />
<circle cx="1130.10" cy="1468.30" r="2.4" fill="#111" />
<circle cx="1132.20" cy="1468.30" r="2.4" fill="#111" />
<circle cx="1134.30" cy="1468.30" r="2.4" fill="#111" />
<circle cx="1136.40" cy="1468.30" r="2.4" fill="#111" />
<circle cx="1138.50" cy="1468.30" r="2.4" fill="#111" />
<circle cx="1140.60" cy="1468.30" r="2.4" fill="#111" />
<circle cx="1142.70" cy="1468.30" r="2.4" fill="#111" />
<polyline points="1066.6,1243.3 1066.6,1227.4 1125.3,1227.4 1125.3,1366.3" fill="none" stroke="#7a7a7a" stroke-width="1.2"/>
<path d="M1082.75,1220.00 L1082.75,1216.70 M1082.75,1220.00 L1085.89,1218.98 M1082.75,1220.00 L1084.69,1222.67 M1082.75,1220.00 L1080.81,1222.67 M1082.75,1220.00 L1079.61,1218.98 M1091.25,1220.00 L1091.25,1216.70 M1091.25,1220.00 L1094.39,1218.98 M1091.25,1220.00 L1093.19,1222.67 M1091.25,1220.00 L1089.31,1222.67 M1091.25,1220.00 L1088.11,1218.98 M1099.75,1220.00 L1099.75,1216.70 M1099.75,1220.00 L1102.89,1218.98 M1099.75,1220.00 L1101.69,1222.67 M1099.75,1220.00 L1097.81,1222.67 M1099.75,1220.00 L1096.61,1218.98 M1108.25,1220.00 L1108.25,1216.70 M1108.25,1220.00 L1111.39,1218.98 M1108.25,1220.00 L1110.19,1222.67 M1108.25,1220.00 L1106.31,1222.67 M1108.25,1220.00 L1105.11,1218.98" stroke="#111" stroke-width="1.55" stroke-linecap="round" fill="none"/>
<line x1="1066.60" y1="1468.30" x2="1066.60" y2="1474.30" stroke="#4a4a4a" stroke-width="1.1" />
<line x1="1125.30" y1="1468.30" x2="1125.30" y2="1474.30" stroke="#4a4a4a" stroke-width="1.1" />
<text x="1042.2" y="1491.0" font-size="15" fill="#231f20" text-anchor="start" font-weight="normal" textLength="44.0" lengthAdjust="spacingAndGlyphs" >DMSO</text>
<text x="1096.2" y="1491.0" font-size="15" fill="#231f20" text-anchor="start" font-weight="normal" textLength="62.1" lengthAdjust="spacingAndGlyphs" >GW4869</text>
<text transform="translate(996.7,1336.2) rotate(-90)" x="0" y="0" font-size="15.2" fill="#231f20" text-anchor="middle" textLength="141.2" lengthAdjust="spacingAndGlyphs">OPP puncta/100 µm</text>
</svg>
</body></html>
